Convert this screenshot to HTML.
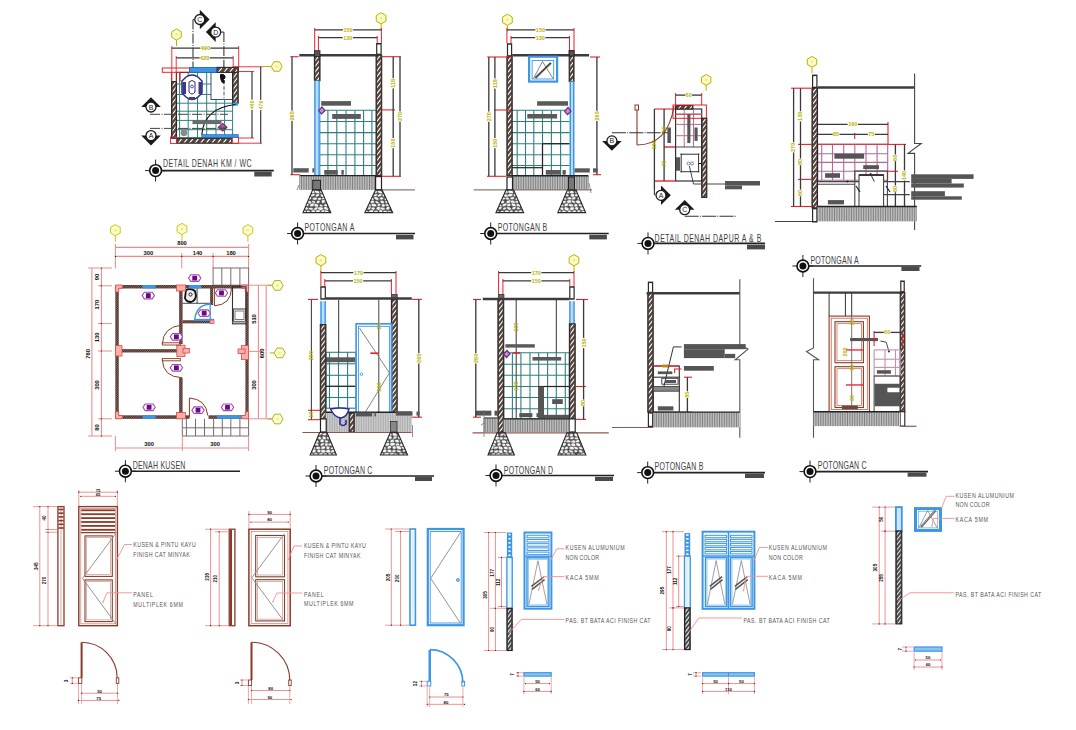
<!DOCTYPE html>
<html><head><meta charset="utf-8"><style>
html,body{margin:0;padding:0;background:#fff;}
svg{display:block;}
text{font-family:"Liberation Sans",sans-serif;}
</style></head><body>
<svg width="1076" height="730" viewBox="0 0 1076 730">
<rect width="1076" height="730" fill="#fff"/>
<line x1="193" y1="19.5" x2="193" y2="68" stroke="#3a3a3a" stroke-width="1.1" stroke-dasharray="10 1.5 1 1.5"/>
<line x1="195.8" y1="19.5" x2="193" y2="19.5" stroke="#3a3a3a" stroke-width="1.1" />
<line x1="223.9" y1="32.1" x2="223.9" y2="98" stroke="#3a3a3a" stroke-width="1.1" stroke-dasharray="10 1.5 1 1.5"/>
<line x1="219.5" y1="32.1" x2="223.9" y2="32.1" stroke="#3a3a3a" stroke-width="1.1" />
<polygon points="199.8,9.7 209.6,19.5 199.8,29.3" stroke="none" stroke-width="1" fill="#1a1a1a" />
<circle cx="199.8" cy="19.5" r="5" fill="#fff" stroke="#1a1a1a" stroke-width="1.3" />
<text x="199.8" y="22" font-size="7" fill="#1a1a1a" text-anchor="middle" >C</text>
<polygon points="215.7,22.3 205.9,32.1 215.7,41.9" stroke="none" stroke-width="1" fill="#1a1a1a" />
<circle cx="215.7" cy="32.1" r="5" fill="#fff" stroke="#1a1a1a" stroke-width="1.3" />
<text x="215.7" y="34.6" font-size="7" fill="#1a1a1a" text-anchor="middle" >D</text>
<polygon points="176.5,29 181.26,31.75 181.26,37.25 176.5,40 171.74,37.25 171.74,31.75" stroke="#b8b400" stroke-width="1" fill="#fbfbc8" />
<line x1="176.5" y1="40" x2="176.5" y2="46" stroke="#b8b400" stroke-width="1" />
<circle cx="176.5" cy="34.5" r="1.2" fill="#eded70" stroke="none" stroke-width="1" />
<line x1="171.8" y1="46" x2="171.8" y2="82" stroke="#e8202a" stroke-width="0.9" />
<line x1="238.7" y1="46" x2="238.7" y2="67" stroke="#e8202a" stroke-width="0.9" />
<line x1="176.2" y1="56" x2="176.2" y2="82" stroke="#e8202a" stroke-width="0.9" />
<line x1="233.2" y1="56" x2="233.2" y2="67" stroke="#e8202a" stroke-width="0.9" />
<line x1="171.8" y1="48.2" x2="238.7" y2="48.2" stroke="#3a3a3a" stroke-width="1.2" />
<rect x="200.15" y="45.4" width="10.2" height="5.6" fill="#fff" stroke="none" stroke-width="1" />
<text x="205.25" y="50.1" font-size="6" fill="#b8b400" text-anchor="middle" font-weight="bold">490</text>
<line x1="176.2" y1="57.8" x2="233.2" y2="57.8" stroke="#3a3a3a" stroke-width="1.2" />
<rect x="199.6" y="55" width="10.2" height="5.6" fill="#fff" stroke="none" stroke-width="1" />
<text x="204.7" y="59.7" font-size="6" fill="#b8b400" text-anchor="middle" font-weight="bold">420</text>
<line x1="176.5" y1="72.3" x2="176.5" y2="137.7" stroke="#2e8080" stroke-width="1" />
<line x1="179.6" y1="72.3" x2="179.6" y2="137.7" stroke="#2e8080" stroke-width="1" />
<line x1="188.2" y1="72.3" x2="188.2" y2="137.7" stroke="#2e8080" stroke-width="1" />
<line x1="197.5" y1="72.3" x2="197.5" y2="137.7" stroke="#2e8080" stroke-width="1" />
<line x1="206.7" y1="72.3" x2="206.7" y2="137.7" stroke="#2e8080" stroke-width="1" />
<line x1="216" y1="72.3" x2="216" y2="137.7" stroke="#2e8080" stroke-width="1" />
<line x1="224.6" y1="72.3" x2="224.6" y2="137.7" stroke="#2e8080" stroke-width="1" />
<line x1="232.6" y1="72.3" x2="232.6" y2="137.7" stroke="#2e8080" stroke-width="1" />
<line x1="176.5" y1="72.3" x2="232.6" y2="72.3" stroke="#2e8080" stroke-width="1" />
<line x1="176.5" y1="84" x2="232.6" y2="84" stroke="#2e8080" stroke-width="1" />
<line x1="176.5" y1="94.5" x2="232.6" y2="94.5" stroke="#2e8080" stroke-width="1" />
<line x1="176.5" y1="103.2" x2="232.6" y2="103.2" stroke="#2e8080" stroke-width="1" />
<line x1="176.5" y1="111.2" x2="232.6" y2="111.2" stroke="#2e8080" stroke-width="1" />
<line x1="176.5" y1="120.4" x2="232.6" y2="120.4" stroke="#2e8080" stroke-width="1" />
<line x1="176.5" y1="129.7" x2="232.6" y2="129.7" stroke="#2e8080" stroke-width="1" />
<line x1="176.5" y1="137.7" x2="232.6" y2="137.7" stroke="#2e8080" stroke-width="1" />
<rect x="211" y="72.3" width="21.6" height="27.2" fill="#fff" stroke="#3a4a8a" stroke-width="1" />
<line x1="224" y1="75" x2="224" y2="98" stroke="#555" stroke-width="1" stroke-dasharray="4 1.5"/>
<path d="M220.5 74.5 q3 -1 4.5 1.5 q0.5 2.5 -1.5 3.5 q1.5 1.5 0.5 3.5 q-2 0 -2.5 -2 q-1.5 -3 -1 -6.5z" stroke="#111" stroke-width="1" fill="#111" />
<rect x="171.6" y="81.6" width="4.9" height="56.7" fill="#54463f" stroke="#2e2624" stroke-width="1.1" />
<clipPath id="c43"><rect x="172.6" y="82.2" width="2.9" height="55.5"/></clipPath>
<path clip-path="url(#c43)" d="M171.6 81.6L176.5 75.23M171.6 87.2L176.5 80.83M171.6 92.8L176.5 86.43M171.6 98.4L176.5 92.03M171.6 104L176.5 97.63M171.6 109.6L176.5 103.23M171.6 115.2L176.5 108.83M171.6 120.8L176.5 114.43M171.6 126.4L176.5 120.03M171.6 132L176.5 125.63M171.6 137.6L176.5 131.23M171.6 143.2L176.5 136.83M171.6 148.8L176.5 142.43" stroke="#fff" stroke-width="1.1" fill="none"/>
<rect x="176.5" y="138.3" width="55.5" height="4.9" fill="#54463f" stroke="#2e2624" stroke-width="1.1" />
<clipPath id="c46"><rect x="177.5" y="138.9" width="53.5" height="3.7"/></clipPath>
<path clip-path="url(#c46)" d="M172.73 143.2L176.5 138.3M178.33 143.2L182.1 138.3M183.93 143.2L187.7 138.3M189.53 143.2L193.3 138.3M195.13 143.2L198.9 138.3M200.73 143.2L204.5 138.3M206.33 143.2L210.1 138.3M211.93 143.2L215.7 138.3M217.53 143.2L221.3 138.3M223.13 143.2L226.9 138.3M228.73 143.2L232.5 138.3M234.33 143.2L238.1 138.3" stroke="#fff" stroke-width="1.1" fill="none"/>
<rect x="232.6" y="67.4" width="5.6" height="35.8" fill="#54463f" stroke="#2e2624" stroke-width="1.1" />
<clipPath id="c49"><rect x="233.6" y="68" width="3.6" height="34.6"/></clipPath>
<path clip-path="url(#c49)" d="M232.6 67.4L238.2 60.12M232.6 73L238.2 65.72M232.6 78.6L238.2 71.32M232.6 84.2L238.2 76.92M232.6 89.8L238.2 82.52M232.6 95.4L238.2 88.12M232.6 101L238.2 93.72M232.6 106.6L238.2 99.32M232.6 112.2L238.2 104.92" stroke="#fff" stroke-width="1.1" fill="none"/>
<rect x="216.6" y="67.4" width="21.6" height="4.9" fill="#54463f" stroke="#2e2624" stroke-width="1.1" />
<clipPath id="c52"><rect x="217.6" y="68" width="19.6" height="3.7"/></clipPath>
<path clip-path="url(#c52)" d="M212.83 72.3L216.6 67.4M218.43 72.3L222.2 67.4M224.03 72.3L227.8 67.4M229.63 72.3L233.4 67.4M235.23 72.3L239 67.4M240.83 72.3L244.6 67.4" stroke="#fff" stroke-width="1.1" fill="none"/>
<rect x="162.3" y="68" width="27.2" height="4.3" fill="none" stroke="#e8202a" stroke-width="1" />
<rect x="170.5" y="137" width="6" height="6.5" fill="none" stroke="#e8202a" stroke-width="0.9" />
<rect x="232" y="137" width="6.5" height="6.5" fill="none" stroke="#e8202a" stroke-width="0.9" />
<line x1="171.6" y1="72.3" x2="171.6" y2="81.6" stroke="#e8202a" stroke-width="1" />
<line x1="176.5" y1="72.3" x2="176.5" y2="81.6" stroke="#a02020" stroke-width="1" />
<polyline points="189.5,72.5 180,72.5 180,81.6" stroke="#a02020" stroke-width="1" fill="none" />
<rect x="189.5" y="67.4" width="27.1" height="4.9" fill="#3c96e6" stroke="#1d5fb0" stroke-width="0.8" />
<rect x="232.6" y="102.5" width="5.6" height="3.1" fill="#3c96e6" stroke="none" stroke-width="1" />
<rect x="201.8" y="134.6" width="36.4" height="3.1" fill="#3c96e6" stroke="#1d5fb0" stroke-width="0.6" />
<path d="M201.8 134.6 Q204 108 235.5 104.5" stroke="#111" stroke-width="1.1" fill="none" />
<path d="M186 77 q6 -4 12 0 l4 4 v12 l-4 4 q-6 5 -12 0 l-4 -4 v-12 z" stroke="#2a2a7a" stroke-width="1.5" fill="#fff" />
<rect x="182.5" y="82" width="3.5" height="12" fill="#3a3a8a" stroke="none" stroke-width="1" />
<rect x="198.5" y="82" width="3.5" height="12" fill="#3a3a8a" stroke="none" stroke-width="1" />
<path d="M189 82 q3 -3 6 0 v10 q-3 4 -6 0 z" stroke="#2a2a7a" stroke-width="1" fill="none" />
<circle cx="192" cy="86.5" r="1.4" fill="none" stroke="#2a2a7a" stroke-width="0.8" />
<rect x="189" y="97" width="6" height="3" fill="#4a3a8a" stroke="none" stroke-width="1" />
<rect x="192.5" y="120.4" width="29" height="3.7" fill="#6a6a6a" stroke="none" stroke-width="1" />
<polygon points="218.5,127.2 222.7,123.5 226.8,127.2 222.7,130.9" stroke="#7a2a6a" stroke-width="1.2" fill="#b070a0" />
<line x1="218.5" y1="127.2" x2="226.8" y2="127.2" stroke="#7a2a6a" stroke-width="0.8" />
<circle cx="184" cy="132.7" r="3.4" fill="#8a8a8a" stroke="none" stroke-width="1" />
<line x1="150" y1="114.3" x2="228" y2="114.3" stroke="#444" stroke-width="1" stroke-dasharray="10 1.5 1 1.5"/>
<line x1="150" y1="128.4" x2="226.5" y2="128.4" stroke="#444" stroke-width="1" stroke-dasharray="10 1.5 1 1.5"/>
<polygon points="141.2,107 151,97.2 160.8,107" stroke="none" stroke-width="1" fill="#1a1a1a" />
<circle cx="151" cy="107" r="5" fill="#fff" stroke="#1a1a1a" stroke-width="1.3" />
<text x="151" y="109.5" font-size="7" fill="#1a1a1a" text-anchor="middle" >B</text>
<polygon points="141.2,135.6 151,145.4 160.8,135.6" stroke="none" stroke-width="1" fill="#1a1a1a" />
<circle cx="151" cy="135.6" r="5" fill="#fff" stroke="#1a1a1a" stroke-width="1.3" />
<text x="151" y="138.1" font-size="7" fill="#1a1a1a" text-anchor="middle" >A</text>
<line x1="238.5" y1="71.5" x2="254" y2="71.5" stroke="#e8202a" stroke-width="0.9" />
<line x1="238.5" y1="138" x2="254" y2="138" stroke="#e8202a" stroke-width="0.9" />
<line x1="233" y1="66.8" x2="262" y2="66.8" stroke="#e8202a" stroke-width="0.9" />
<line x1="233" y1="143.2" x2="262" y2="143.2" stroke="#e8202a" stroke-width="0.9" />
<line x1="252" y1="71.5" x2="252" y2="138" stroke="#3a3a3a" stroke-width="1.2" />
<rect x="249.2" y="99.65" width="5.6" height="10.2" fill="#fff" stroke="none" stroke-width="1" />
<text x="253.9" y="104.75" font-size="5" fill="#b8b400" text-anchor="middle" transform="rotate(-90 253.9 104.75)" font-weight="bold">440</text>
<line x1="260.7" y1="66.8" x2="260.7" y2="143.2" stroke="#3a3a3a" stroke-width="1.2" />
<rect x="257.9" y="99.9" width="5.6" height="10.2" fill="#fff" stroke="none" stroke-width="1" />
<text x="262.6" y="105" font-size="5" fill="#b8b400" text-anchor="middle" transform="rotate(-90 262.6 105)" font-weight="bold">470</text>
<polygon points="282.2,66.5 279.45,71.26 273.95,71.26 271.2,66.5 273.95,61.74 279.45,61.74" stroke="#b8b400" stroke-width="1" fill="#fbfbc8" />
<circle cx="276.7" cy="66.5" r="1.2" fill="#eded70" stroke="none" stroke-width="1" />
<line x1="271" y1="66.5" x2="262" y2="66.5" stroke="#b8b400" stroke-width="1" />
<line x1="145.1" y1="170.6" x2="166.1" y2="170.6" stroke="#222" stroke-width="1" />
<line x1="155.6" y1="159.6" x2="155.6" y2="181.6" stroke="#222" stroke-width="1" />
<circle cx="155.6" cy="170.6" r="5.9" fill="#fff" stroke="#111" stroke-width="1.6" />
<circle cx="155.6" cy="170.6" r="3.5" fill="#111" stroke="none" stroke-width="1" />
<line x1="161.6" y1="170.6" x2="273.8" y2="170.6" stroke="#222" stroke-width="1.6" />
<rect x="254.3" y="171.6" width="17.4" height="4.9" fill="#4a4a4a" stroke="none" stroke-width="1" />
<text transform="translate(163 166.7) scale(0.68 1)" x="0" y="0" font-size="10.3" fill="#3e3e3e" font-weight="normal" textLength="130.15" lengthAdjust="spacing">DETAIL DENAH KM / WC</text>
<polygon points="381.1,12.7 385.95,15.5 385.95,21.1 381.1,23.9 376.25,21.1 376.25,15.5" stroke="#b8b400" stroke-width="1" fill="#fbfbc8" />
<line x1="381.1" y1="23.9" x2="381.1" y2="29.9" stroke="#b8b400" stroke-width="1" />
<circle cx="381.1" cy="18.3" r="1.2" fill="#eded70" stroke="none" stroke-width="1" />
<line x1="314.7" y1="28" x2="314.7" y2="50.7" stroke="#e8202a" stroke-width="1" />
<line x1="318.4" y1="36" x2="318.4" y2="50.7" stroke="#e8202a" stroke-width="1" />
<line x1="377.2" y1="36" x2="377.2" y2="43" stroke="#e8202a" stroke-width="1" />
<line x1="381.4" y1="28" x2="381.4" y2="43" stroke="#e8202a" stroke-width="1" />
<line x1="314.7" y1="29.9" x2="381.4" y2="29.9" stroke="#3a3a3a" stroke-width="1.32" />
<rect x="342.95" y="27.1" width="10.2" height="5.6" fill="#fff" stroke="none" stroke-width="1" />
<text x="348.05" y="31.8" font-size="5.5" fill="#b8b400" text-anchor="middle" font-weight="bold">150</text>
<line x1="318.4" y1="37.6" x2="377.2" y2="37.6" stroke="#3a3a3a" stroke-width="1.32" />
<rect x="342.7" y="34.8" width="10.2" height="5.6" fill="#fff" stroke="none" stroke-width="1" />
<text x="347.8" y="39.5" font-size="5.5" fill="#b8b400" text-anchor="middle" font-weight="bold">130</text>
<line x1="319.8" y1="110.2" x2="319.8" y2="175.6" stroke="#2e8080" stroke-width="1.1" />
<line x1="327.9" y1="110.2" x2="327.9" y2="175.6" stroke="#2e8080" stroke-width="1.1" />
<line x1="336.8" y1="110.2" x2="336.8" y2="175.6" stroke="#2e8080" stroke-width="1.1" />
<line x1="346" y1="110.2" x2="346" y2="175.6" stroke="#2e8080" stroke-width="1.1" />
<line x1="354.9" y1="110.2" x2="354.9" y2="175.6" stroke="#2e8080" stroke-width="1.1" />
<line x1="363.6" y1="110.2" x2="363.6" y2="175.6" stroke="#2e8080" stroke-width="1.1" />
<line x1="371.9" y1="110.2" x2="371.9" y2="175.6" stroke="#2e8080" stroke-width="1.1" />
<line x1="376.5" y1="110.2" x2="376.5" y2="175.6" stroke="#2e8080" stroke-width="1.1" />
<line x1="319.8" y1="110.2" x2="376.5" y2="110.2" stroke="#2e8080" stroke-width="1.1" />
<line x1="319.8" y1="121.5" x2="376.5" y2="121.5" stroke="#2e8080" stroke-width="1.1" />
<line x1="319.8" y1="132.6" x2="376.5" y2="132.6" stroke="#2e8080" stroke-width="1.1" />
<line x1="319.8" y1="143.7" x2="376.5" y2="143.7" stroke="#2e8080" stroke-width="1.1" />
<line x1="319.8" y1="154.7" x2="376.5" y2="154.7" stroke="#2e8080" stroke-width="1.1" />
<line x1="319.8" y1="165.5" x2="376.5" y2="165.5" stroke="#2e8080" stroke-width="1.1" />
<line x1="319.8" y1="175.6" x2="376.5" y2="175.6" stroke="#2e8080" stroke-width="1.1" />
<rect x="314.4" y="56" width="5.6" height="24.8" fill="#54463f" stroke="#2e2624" stroke-width="1.1" />
<clipPath id="c131"><rect x="315.4" y="56.6" width="3.6" height="23.6"/></clipPath>
<path clip-path="url(#c131)" d="M314.4 56L320 48.72M314.4 61.6L320 54.32M314.4 67.2L320 59.92M314.4 72.8L320 65.52M314.4 78.4L320 71.12M314.4 84L320 76.72M314.4 89.6L320 82.32M314.4 95.2L320 87.92" stroke="#fff" stroke-width="1.1" fill="none"/>
<rect x="314.2" y="80.8" width="5.6" height="94.8" fill="#b8dcfa" stroke="none" stroke-width="1" />
<line x1="314.9" y1="80.8" x2="314.9" y2="175.6" stroke="#3c96e6" stroke-width="1.4" />
<line x1="319.1" y1="80.8" x2="319.1" y2="175.6" stroke="#3c96e6" stroke-width="1.4" />
<rect x="376.1" y="55.2" width="5.6" height="120.4" fill="#54463f" stroke="#2e2624" stroke-width="1.1" />
<clipPath id="c137"><rect x="377.1" y="55.8" width="3.6" height="119.2"/></clipPath>
<path clip-path="url(#c137)" d="M376.1 55.2L381.7 47.92M376.1 60.8L381.7 53.52M376.1 66.4L381.7 59.12M376.1 72L381.7 64.72M376.1 77.6L381.7 70.32M376.1 83.2L381.7 75.92M376.1 88.8L381.7 81.52M376.1 94.4L381.7 87.12M376.1 100L381.7 92.72M376.1 105.6L381.7 98.32M376.1 111.2L381.7 103.92M376.1 116.8L381.7 109.52M376.1 122.4L381.7 115.12M376.1 128L381.7 120.72M376.1 133.6L381.7 126.32M376.1 139.2L381.7 131.92M376.1 144.8L381.7 137.52M376.1 150.4L381.7 143.12M376.1 156L381.7 148.72M376.1 161.6L381.7 154.32M376.1 167.2L381.7 159.92M376.1 172.8L381.7 165.52M376.1 178.4L381.7 171.12M376.1 184L381.7 176.72M376.1 189.6L381.7 182.32" stroke="#fff" stroke-width="1.1" fill="none"/>
<line x1="299.3" y1="55.2" x2="376.1" y2="55.2" stroke="#3c3c3c" stroke-width="2.4" />
<rect x="314.4" y="50.7" width="5.6" height="5.8" fill="#555" stroke="#222" stroke-width="0.8" />
<rect x="376.1" y="43" width="5.6" height="12.2" fill="#2a2a2a" stroke="none" stroke-width="1" />
<rect x="377.3" y="44.5" width="3.2" height="9.2" fill="#fff" stroke="none" stroke-width="1" />
<line x1="290.3" y1="56.7" x2="298.6" y2="56.7" stroke="#e8202a" stroke-width="1.1" />
<line x1="290.3" y1="174.7" x2="300" y2="174.7" stroke="#e8202a" stroke-width="1.1" />
<line x1="292" y1="56.7" x2="292" y2="174.7" stroke="#3a3a3a" stroke-width="1.32" />
<rect x="289.2" y="110.6" width="5.6" height="10.2" fill="#fff" stroke="none" stroke-width="1" />
<text x="293.9" y="115.7" font-size="5.5" fill="#b8b400" text-anchor="middle" transform="rotate(-90 293.9 115.7)" font-weight="bold">265</text>
<line x1="381.7" y1="56.7" x2="401" y2="56.7" stroke="#e8202a" stroke-width="1.1" />
<line x1="381.7" y1="109.9" x2="395" y2="109.9" stroke="#e8202a" stroke-width="1.1" />
<line x1="381.7" y1="176.3" x2="401" y2="176.3" stroke="#e8202a" stroke-width="1.1" />
<line x1="393.2" y1="56.7" x2="393.2" y2="109.9" stroke="#3a3a3a" stroke-width="1.32" />
<rect x="390.4" y="78.2" width="5.6" height="10.2" fill="#fff" stroke="none" stroke-width="1" />
<text x="395.1" y="83.3" font-size="5.5" fill="#b8b400" text-anchor="middle" transform="rotate(-90 395.1 83.3)" font-weight="bold">118</text>
<line x1="393.2" y1="109.9" x2="393.2" y2="176.3" stroke="#3a3a3a" stroke-width="1.32" />
<rect x="390.4" y="138" width="5.6" height="10.2" fill="#fff" stroke="none" stroke-width="1" />
<text x="395.1" y="143.1" font-size="5.5" fill="#b8b400" text-anchor="middle" transform="rotate(-90 395.1 143.1)" font-weight="bold">150</text>
<line x1="400" y1="56.7" x2="400" y2="176.3" stroke="#3a3a3a" stroke-width="1.32" />
<rect x="397.2" y="111.4" width="5.6" height="10.2" fill="#fff" stroke="none" stroke-width="1" />
<text x="401.9" y="116.5" font-size="5.5" fill="#b8b400" text-anchor="middle" transform="rotate(-90 401.9 116.5)" font-weight="bold">270</text>
<rect x="321.2" y="101.1" width="29.8" height="4.6" fill="#5a5a5a" stroke="none" stroke-width="1" />
<rect x="332.2" y="114" width="28.6" height="4.9" fill="#5a5a5a" stroke="none" stroke-width="1" />
<rect x="293.3" y="168.2" width="15.4" height="4.3" fill="#5a5a5a" stroke="none" stroke-width="1" />
<rect x="312.4" y="168.2" width="1.8" height="4.3" fill="#5a5a5a" stroke="none" stroke-width="1" />
<rect x="324.2" y="170" width="13.5" height="4.7" fill="#5a5a5a" stroke="none" stroke-width="1" />
<rect x="341.4" y="170" width="2.4" height="4.7" fill="#5a5a5a" stroke="none" stroke-width="1" />
<polygon points="318.5,110.6 322,106.8 325,110.6 321.5,114" stroke="#6a2a8a" stroke-width="1.2" fill="#c890c0" />
<rect x="299.8" y="175.6" width="76.7" height="14.3" fill="#d8d8d8" stroke="none" stroke-width="1" />
<path d="M299.8 175.6V189.9M301.5 175.6V189.9M303.2 175.6V189.9M304.9 175.6V189.9M306.6 175.6V189.9M308.3 175.6V189.9M310 175.6V189.9M311.7 175.6V189.9M313.4 175.6V189.9M315.1 175.6V189.9M316.8 175.6V189.9M318.5 175.6V189.9M320.2 175.6V189.9M321.9 175.6V189.9M323.6 175.6V189.9M325.3 175.6V189.9M327 175.6V189.9M328.7 175.6V189.9M330.4 175.6V189.9M332.1 175.6V189.9M333.8 175.6V189.9M335.5 175.6V189.9M337.2 175.6V189.9M338.9 175.6V189.9M340.6 175.6V189.9M342.3 175.6V189.9M344 175.6V189.9M345.7 175.6V189.9M347.4 175.6V189.9M349.1 175.6V189.9M350.8 175.6V189.9M352.5 175.6V189.9M354.2 175.6V189.9M355.9 175.6V189.9M357.6 175.6V189.9M359.3 175.6V189.9M361 175.6V189.9M362.7 175.6V189.9M364.4 175.6V189.9M366.1 175.6V189.9M367.8 175.6V189.9M369.5 175.6V189.9M371.2 175.6V189.9M372.9 175.6V189.9M374.6 175.6V189.9M376.3 175.6V189.9" stroke="#6a6a6a" stroke-width="0.8" fill="none" />
<line x1="299.8" y1="175.6" x2="376.5" y2="175.6" stroke="#222" stroke-width="1.4" />
<rect x="312.7" y="180.3" width="7.8" height="9.6" fill="#777" stroke="#222" stroke-width="1" />
<rect x="375.6" y="176.6" width="5.9" height="13.3" fill="#fff" stroke="#222" stroke-width="1.2" />
<line x1="299" y1="185" x2="297" y2="190" stroke="#666" stroke-width="0.8" />
<line x1="381" y1="189.9" x2="415" y2="189.9" stroke="#8a7a70" stroke-width="1.2" />
<clipPath id="fd174"><polygon points="312.65,189.9 321.15,189.9 330.8,212.6 303,212.6"/></clipPath>
<polygon points="312.65,189.9 321.15,189.9 330.8,212.6 303,212.6" stroke="none" stroke-width="1" fill="#4a4a4a" />
<g clip-path="url(#fd174)" fill="#f4f4f4" stroke="#555" stroke-width="0.6"><ellipse cx="312.81" cy="191.7" rx="2.46" ry="1.85" transform="rotate(4 312.08 191.7)"/><ellipse cx="317.18" cy="191.89" rx="2.84" ry="1.59" transform="rotate(22 316.93 191.7)"/><ellipse cx="322.19" cy="191.73" rx="2.5" ry="1.51" transform="rotate(-11 322.07 191.7)"/><ellipse cx="312.7" cy="195.36" rx="2.62" ry="1.38" transform="rotate(-18 312.08 195)"/><ellipse cx="317.25" cy="195.39" rx="2.23" ry="1.45" transform="rotate(-30 317.11 195)"/><ellipse cx="322.91" cy="195.46" rx="2.6" ry="1.71" transform="rotate(12 322.15 195)"/><ellipse cx="309.38" cy="198.38" rx="2.27" ry="1.66" transform="rotate(-29 309.28 198.3)"/><ellipse cx="314.8" cy="198.66" rx="2.53" ry="1.52" transform="rotate(-1 314.39 198.3)"/><ellipse cx="319.48" cy="198.9" rx="2.1" ry="1.41" transform="rotate(-6 319.28 198.3)"/><ellipse cx="324.49" cy="198.44" rx="2.81" ry="1.36" transform="rotate(-8 324.44 198.3)"/><ellipse cx="309.99" cy="202.05" rx="2.31" ry="1.57" transform="rotate(27 309.28 201.6)"/><ellipse cx="313.74" cy="201.94" rx="1.99" ry="1.31" transform="rotate(18 313.68 201.6)"/><ellipse cx="318.14" cy="201.89" rx="1.94" ry="1.44" transform="rotate(-25 318.09 201.6)"/><ellipse cx="323.34" cy="201.71" rx="2.19" ry="1.82" transform="rotate(-30 322.77 201.6)"/><ellipse cx="327.86" cy="201.63" rx="2.78" ry="1.85" transform="rotate(-19 327.58 201.6)"/><ellipse cx="307.02" cy="205.08" rx="2.01" ry="1.48" transform="rotate(-16 306.47 204.9)"/><ellipse cx="312.25" cy="205.09" rx="2.64" ry="1.78" transform="rotate(-17 311.49 204.9)"/><ellipse cx="316.52" cy="205.33" rx="2.46" ry="1.79" transform="rotate(23 316.1 204.9)"/><ellipse cx="321.45" cy="205.47" rx="1.97" ry="1.33" transform="rotate(22 320.75 204.9)"/><ellipse cx="325.77" cy="205.22" rx="1.95" ry="1.62" transform="rotate(14 325.27 204.9)"/><ellipse cx="306.57" cy="208.45" rx="1.98" ry="1.5" transform="rotate(16 306.47 208.2)"/><ellipse cx="311.05" cy="208.79" rx="2.68" ry="1.34" transform="rotate(8 311 208.2)"/><ellipse cx="315.8" cy="208.7" rx="2.69" ry="1.41" transform="rotate(-26 315.74 208.2)"/><ellipse cx="320.68" cy="208.65" rx="2.88" ry="1.88" transform="rotate(5 320.38 208.2)"/><ellipse cx="326.2" cy="208.22" rx="2.61" ry="1.74" transform="rotate(27 325.5 208.2)"/><ellipse cx="330.33" cy="208.28" rx="2.72" ry="1.54" transform="rotate(28 329.93 208.2)"/><ellipse cx="304.1" cy="211.55" rx="2.84" ry="1.31" transform="rotate(6 303.67 211.5)"/><ellipse cx="308.58" cy="211.87" rx="1.95" ry="1.6" transform="rotate(29 308.54 211.5)"/><ellipse cx="313.35" cy="211.54" rx="2.16" ry="1.75" transform="rotate(8 313.08 211.5)"/><ellipse cx="317.86" cy="211.5" rx="2.44" ry="1.8" transform="rotate(-17 317.77 211.5)"/><ellipse cx="323.21" cy="211.85" rx="2.55" ry="1.74" transform="rotate(-20 322.5 211.5)"/><ellipse cx="327.26" cy="212.04" rx="2.79" ry="1.5" transform="rotate(30 327.22 211.5)"/><ellipse cx="332.44" cy="211.7" rx="2.38" ry="1.68" transform="rotate(18 331.74 211.5)"/></g>
<polygon points="312.65,189.9 321.15,189.9 330.8,212.6 303,212.6" stroke="#2a2a2a" stroke-width="1.1" fill="none" />
<clipPath id="fd178"><polygon points="375.55,189.9 382.05,189.9 392.7,212.6 364.9,212.6"/></clipPath>
<polygon points="375.55,189.9 382.05,189.9 392.7,212.6 364.9,212.6" stroke="none" stroke-width="1" fill="#4a4a4a" />
<g clip-path="url(#fd178)" fill="#f4f4f4" stroke="#555" stroke-width="0.6"><ellipse cx="374.91" cy="191.8" rx="2.6" ry="1.67" transform="rotate(-1 374.91 191.7)"/><ellipse cx="380.09" cy="191.9" rx="2.81" ry="1.5" transform="rotate(23 379.69 191.7)"/><ellipse cx="385.32" cy="192.29" rx="2.48" ry="1.74" transform="rotate(0 384.85 191.7)"/><ellipse cx="375.31" cy="195.35" rx="2.53" ry="1.32" transform="rotate(-11 374.76 195)"/><ellipse cx="379.59" cy="195.4" rx="2.47" ry="1.43" transform="rotate(-24 379.45 195)"/><ellipse cx="384.58" cy="195.1" rx="2.76" ry="1.58" transform="rotate(-23 384.28 195)"/><ellipse cx="372.08" cy="198.86" rx="2.39" ry="1.78" transform="rotate(30 371.81 198.3)"/><ellipse cx="376.45" cy="198.44" rx="2.8" ry="1.54" transform="rotate(28 376.42 198.3)"/><ellipse cx="381.46" cy="198.52" rx="2.07" ry="1.47" transform="rotate(-5 381.33 198.3)"/><ellipse cx="386.23" cy="198.82" rx="2.35" ry="1.64" transform="rotate(-28 385.93 198.3)"/><ellipse cx="372.11" cy="201.89" rx="2.46" ry="1.59" transform="rotate(1 371.66 201.6)"/><ellipse cx="377.38" cy="202.16" rx="2.27" ry="1.32" transform="rotate(25 376.86 201.6)"/><ellipse cx="382.34" cy="201.81" rx="2.27" ry="1.59" transform="rotate(24 381.83 201.6)"/><ellipse cx="387.03" cy="201.93" rx="2.12" ry="1.67" transform="rotate(6 386.31 201.6)"/><ellipse cx="369.31" cy="205.16" rx="2.2" ry="1.79" transform="rotate(24 368.71 204.9)"/><ellipse cx="373.9" cy="205.08" rx="2.82" ry="1.7" transform="rotate(6 373.16 204.9)"/><ellipse cx="378.77" cy="205.32" rx="1.99" ry="1.38" transform="rotate(-30 378 204.9)"/><ellipse cx="383.34" cy="205.38" rx="1.93" ry="1.8" transform="rotate(6 382.84 204.9)"/><ellipse cx="387.89" cy="205.25" rx="2.9" ry="1.39" transform="rotate(14 387.73 204.9)"/><ellipse cx="369.1" cy="208.45" rx="1.98" ry="1.45" transform="rotate(-19 368.56 208.2)"/><ellipse cx="373.16" cy="208.67" rx="2.03" ry="1.58" transform="rotate(4 373.08 208.2)"/><ellipse cx="378.7" cy="208.38" rx="2.53" ry="1.89" transform="rotate(4 377.96 208.2)"/><ellipse cx="382.71" cy="208.58" rx="2.7" ry="1.5" transform="rotate(10 382.45 208.2)"/><ellipse cx="387.94" cy="208.39" rx="2.35" ry="1.65" transform="rotate(-29 387.58 208.2)"/><ellipse cx="392.62" cy="208.49" rx="2.11" ry="1.45" transform="rotate(15 392.51 208.2)"/><ellipse cx="366.36" cy="211.76" rx="2.09" ry="1.51" transform="rotate(11 365.62 211.5)"/><ellipse cx="370.82" cy="211.88" rx="2.83" ry="1.9" transform="rotate(-28 370.8 211.5)"/><ellipse cx="376.05" cy="211.56" rx="2.12" ry="1.41" transform="rotate(-1 375.3 211.5)"/><ellipse cx="380.86" cy="211.58" rx="1.91" ry="1.89" transform="rotate(-14 380.18 211.5)"/><ellipse cx="385.81" cy="211.92" rx="2.57" ry="1.63" transform="rotate(17 385.1 211.5)"/><ellipse cx="390.41" cy="212.1" rx="2.73" ry="1.4" transform="rotate(24 389.64 211.5)"/></g>
<polygon points="375.55,189.9 382.05,189.9 392.7,212.6 364.9,212.6" stroke="#2a2a2a" stroke-width="1.1" fill="none" />
<line x1="287.1" y1="233.5" x2="308.1" y2="233.5" stroke="#222" stroke-width="1" />
<line x1="297.6" y1="222.5" x2="297.6" y2="244.5" stroke="#222" stroke-width="1" />
<circle cx="297.6" cy="233.5" r="5.9" fill="#fff" stroke="#111" stroke-width="1.6" />
<circle cx="297.6" cy="233.5" r="3.5" fill="#111" stroke="none" stroke-width="1" />
<line x1="303.6" y1="233.5" x2="415" y2="233.5" stroke="#222" stroke-width="1.6" />
<rect x="396" y="234.8" width="17.5" height="4.6" fill="#4a4a4a" stroke="none" stroke-width="1" />
<text transform="translate(304.4 231.1) scale(0.68 1)" x="0" y="0" font-size="10.3" fill="#3e3e3e" font-weight="normal" textLength="73.53" lengthAdjust="spacing">POTONGAN A</text>
<polygon points="507.4,14.2 512.25,17 512.25,22.6 507.4,25.4 502.55,22.6 502.55,17" stroke="#b8b400" stroke-width="1" fill="#fbfbc8" />
<line x1="507.4" y1="25.4" x2="507.4" y2="31.4" stroke="#b8b400" stroke-width="1" />
<circle cx="507.4" cy="19.8" r="1.2" fill="#eded70" stroke="none" stroke-width="1" />
<line x1="506.9" y1="28" x2="506.9" y2="43" stroke="#e8202a" stroke-width="1" />
<line x1="511" y1="36" x2="511" y2="43" stroke="#e8202a" stroke-width="1" />
<line x1="569.5" y1="36" x2="569.5" y2="50.7" stroke="#e8202a" stroke-width="1" />
<line x1="574" y1="28" x2="574" y2="50.7" stroke="#e8202a" stroke-width="1" />
<line x1="506.9" y1="29.9" x2="574" y2="29.9" stroke="#3a3a3a" stroke-width="1.32" />
<rect x="535.35" y="27.1" width="10.2" height="5.6" fill="#fff" stroke="none" stroke-width="1" />
<text x="540.45" y="31.8" font-size="5.5" fill="#b8b400" text-anchor="middle" font-weight="bold">150</text>
<line x1="511" y1="37.6" x2="569.5" y2="37.6" stroke="#3a3a3a" stroke-width="1.32" />
<rect x="535.15" y="34.8" width="10.2" height="5.6" fill="#fff" stroke="none" stroke-width="1" />
<text x="540.25" y="39.5" font-size="5.5" fill="#b8b400" text-anchor="middle" font-weight="bold">130</text>
<line x1="511.6" y1="110.2" x2="511.6" y2="175.7" stroke="#2e8080" stroke-width="1.1" />
<line x1="517.2" y1="110.2" x2="517.2" y2="175.7" stroke="#2e8080" stroke-width="1.1" />
<line x1="525.5" y1="110.2" x2="525.5" y2="175.7" stroke="#2e8080" stroke-width="1.1" />
<line x1="533.8" y1="110.2" x2="533.8" y2="175.7" stroke="#2e8080" stroke-width="1.1" />
<line x1="542.5" y1="110.2" x2="542.5" y2="175.7" stroke="#2e8080" stroke-width="1.1" />
<line x1="551.4" y1="110.2" x2="551.4" y2="175.7" stroke="#2e8080" stroke-width="1.1" />
<line x1="560.6" y1="110.2" x2="560.6" y2="175.7" stroke="#2e8080" stroke-width="1.1" />
<line x1="570.8" y1="110.2" x2="570.8" y2="175.7" stroke="#2e8080" stroke-width="1.1" />
<line x1="511.6" y1="110.2" x2="570.8" y2="110.2" stroke="#2e8080" stroke-width="1.1" />
<line x1="511.6" y1="121.5" x2="570.8" y2="121.5" stroke="#2e8080" stroke-width="1.1" />
<line x1="511.6" y1="132.6" x2="570.8" y2="132.6" stroke="#2e8080" stroke-width="1.1" />
<line x1="511.6" y1="143.7" x2="570.8" y2="143.7" stroke="#2e8080" stroke-width="1.1" />
<line x1="511.6" y1="154.8" x2="570.8" y2="154.8" stroke="#2e8080" stroke-width="1.1" />
<line x1="511.6" y1="165.5" x2="570.8" y2="165.5" stroke="#2e8080" stroke-width="1.1" />
<line x1="511.6" y1="175.7" x2="570.8" y2="175.7" stroke="#2e8080" stroke-width="1.1" />
<line x1="542.5" y1="143.7" x2="542.5" y2="175.7" stroke="#222" stroke-width="1.2" />
<line x1="542.5" y1="143.7" x2="569.9" y2="143.7" stroke="#222" stroke-width="1.2" />
<line x1="511.6" y1="167.7" x2="542.5" y2="167.7" stroke="#222" stroke-width="1.2" />
<rect x="506.9" y="56.7" width="5.3" height="119" fill="#54463f" stroke="#2e2624" stroke-width="1.1" />
<clipPath id="c221"><rect x="507.9" y="57.3" width="3.3" height="117.8"/></clipPath>
<path clip-path="url(#c221)" d="M506.9 56.7L512.2 49.81M506.9 62.3L512.2 55.41M506.9 67.9L512.2 61.01M506.9 73.5L512.2 66.61M506.9 79.1L512.2 72.21M506.9 84.7L512.2 77.81M506.9 90.3L512.2 83.41M506.9 95.9L512.2 89.01M506.9 101.5L512.2 94.61M506.9 107.1L512.2 100.21M506.9 112.7L512.2 105.81M506.9 118.3L512.2 111.41M506.9 123.9L512.2 117.01M506.9 129.5L512.2 122.61M506.9 135.1L512.2 128.21M506.9 140.7L512.2 133.81M506.9 146.3L512.2 139.41M506.9 151.9L512.2 145.01M506.9 157.5L512.2 150.61M506.9 163.1L512.2 156.21M506.9 168.7L512.2 161.81M506.9 174.3L512.2 167.41M506.9 179.9L512.2 173.01M506.9 185.5L512.2 178.61" stroke="#fff" stroke-width="1.1" fill="none"/>
<rect x="506.9" y="43.2" width="5.3" height="13.5" fill="#2a2a2a" stroke="none" stroke-width="1" />
<rect x="508.1" y="44.7" width="2.9" height="10.5" fill="#fff" stroke="none" stroke-width="1" />
<rect x="569.2" y="50.7" width="4.8" height="30.9" fill="#54463f" stroke="#2e2624" stroke-width="1.1" />
<clipPath id="c226"><rect x="570.2" y="51.3" width="2.8" height="29.7"/></clipPath>
<path clip-path="url(#c226)" d="M569.2 50.7L574 44.46M569.2 56.3L574 50.06M569.2 61.9L574 55.66M569.2 67.5L574 61.26M569.2 73.1L574 66.86M569.2 78.7L574 72.46M569.2 84.3L574 78.06M569.2 89.9L574 83.66" stroke="#fff" stroke-width="1.1" fill="none"/>
<rect x="569.6" y="81.6" width="4.8" height="94.1" fill="#b8dcfa" stroke="none" stroke-width="1" />
<line x1="570.3" y1="81.6" x2="570.3" y2="175.7" stroke="#3c96e6" stroke-width="1.4" />
<line x1="573.7" y1="81.6" x2="573.7" y2="175.7" stroke="#3c96e6" stroke-width="1.4" />
<line x1="512.2" y1="55.2" x2="589.1" y2="55.2" stroke="#3c3c3c" stroke-width="2.4" />
<rect x="569.2" y="50.7" width="4.8" height="5.3" fill="#555" stroke="#222" stroke-width="0.8" />
<rect x="529.1" y="56.7" width="28" height="24.9" fill="#fff" stroke="#3c96e6" stroke-width="2.2" />
<rect x="532.1" y="60.5" width="21.6" height="18.5" fill="#fff" stroke="#3c96e6" stroke-width="0.9" />
<polyline points="533.5,78.5 542.5,61.5 553,78.5" stroke="#666" stroke-width="0.8" fill="none" />
<line x1="535.5" y1="78" x2="551" y2="63" stroke="#444" stroke-width="2.4" />
<line x1="536.5" y1="78" x2="551.5" y2="64" stroke="#fff" stroke-width="0.6" />
<line x1="487.3" y1="57" x2="512.2" y2="57" stroke="#e8202a" stroke-width="1.1" />
<line x1="494" y1="110" x2="511" y2="110" stroke="#e8202a" stroke-width="1.1" />
<line x1="487" y1="176.3" x2="506" y2="176.3" stroke="#e8202a" stroke-width="1.1" />
<line x1="488.8" y1="57" x2="488.8" y2="176.3" stroke="#3a3a3a" stroke-width="1.32" />
<rect x="486" y="111.55" width="5.6" height="10.2" fill="#fff" stroke="none" stroke-width="1" />
<text x="490.7" y="116.65" font-size="5.5" fill="#b8b400" text-anchor="middle" transform="rotate(-90 490.7 116.65)" font-weight="bold">270</text>
<line x1="494.9" y1="57" x2="494.9" y2="110" stroke="#3a3a3a" stroke-width="1.32" />
<rect x="492.1" y="78.4" width="5.6" height="10.2" fill="#fff" stroke="none" stroke-width="1" />
<text x="496.8" y="83.5" font-size="5.5" fill="#b8b400" text-anchor="middle" transform="rotate(-90 496.8 83.5)" font-weight="bold">118</text>
<line x1="494.9" y1="110" x2="494.9" y2="176.3" stroke="#3a3a3a" stroke-width="1.32" />
<rect x="492.1" y="138.05" width="5.6" height="10.2" fill="#fff" stroke="none" stroke-width="1" />
<text x="496.8" y="143.15" font-size="5.5" fill="#b8b400" text-anchor="middle" transform="rotate(-90 496.8 143.15)" font-weight="bold">150</text>
<line x1="590" y1="57" x2="600" y2="57" stroke="#e8202a" stroke-width="1.1" />
<line x1="593" y1="174.7" x2="601" y2="174.7" stroke="#e8202a" stroke-width="1.1" />
<line x1="596.9" y1="57" x2="596.9" y2="174.7" stroke="#3a3a3a" stroke-width="1.32" />
<rect x="594.1" y="110.75" width="5.6" height="10.2" fill="#fff" stroke="none" stroke-width="1" />
<text x="598.8" y="115.85" font-size="5.5" fill="#b8b400" text-anchor="middle" transform="rotate(-90 598.8 115.85)" font-weight="bold">265</text>
<rect x="537.1" y="101.2" width="30.9" height="4.5" fill="#5a5a5a" stroke="none" stroke-width="1" />
<rect x="527.3" y="114" width="29.8" height="4.5" fill="#5a5a5a" stroke="none" stroke-width="1" />
<rect x="545.8" y="170" width="14.8" height="4.7" fill="#5a5a5a" stroke="none" stroke-width="1" />
<rect x="562.5" y="170" width="3.3" height="4.7" fill="#5a5a5a" stroke="none" stroke-width="1" />
<rect x="574.5" y="168.3" width="15.3" height="4.2" fill="#5a5a5a" stroke="none" stroke-width="1" />
<rect x="593" y="168.3" width="4.6" height="4.2" fill="#5a5a5a" stroke="none" stroke-width="1" />
<polygon points="564.5,111.3 568,107.5 571,111.3 567.5,114.7" stroke="#6a2a8a" stroke-width="1.2" fill="#c890c0" />
<rect x="511.6" y="175.7" width="76.8" height="14.2" fill="#d8d8d8" stroke="none" stroke-width="1" />
<path d="M511.6 175.7V189.9M513.3 175.7V189.9M515 175.7V189.9M516.7 175.7V189.9M518.4 175.7V189.9M520.1 175.7V189.9M521.8 175.7V189.9M523.5 175.7V189.9M525.2 175.7V189.9M526.9 175.7V189.9M528.6 175.7V189.9M530.3 175.7V189.9M532 175.7V189.9M533.7 175.7V189.9M535.4 175.7V189.9M537.1 175.7V189.9M538.8 175.7V189.9M540.5 175.7V189.9M542.2 175.7V189.9M543.9 175.7V189.9M545.6 175.7V189.9M547.3 175.7V189.9M549 175.7V189.9M550.7 175.7V189.9M552.4 175.7V189.9M554.1 175.7V189.9M555.8 175.7V189.9M557.5 175.7V189.9M559.2 175.7V189.9M560.9 175.7V189.9M562.6 175.7V189.9M564.3 175.7V189.9M566 175.7V189.9M567.7 175.7V189.9M569.4 175.7V189.9M571.1 175.7V189.9M572.8 175.7V189.9M574.5 175.7V189.9M576.2 175.7V189.9M577.9 175.7V189.9M579.6 175.7V189.9M581.3 175.7V189.9M583 175.7V189.9M584.7 175.7V189.9M586.4 175.7V189.9M588.1 175.7V189.9" stroke="#6a6a6a" stroke-width="0.8" fill="none" />
<line x1="511.6" y1="175.7" x2="588.4" y2="175.7" stroke="#222" stroke-width="1.4" />
<rect x="507" y="177" width="5.5" height="12.9" fill="#fff" stroke="#222" stroke-width="1.2" />
<rect x="568.5" y="177" width="6" height="12.9" fill="#777" stroke="#222" stroke-width="1" />
<line x1="473.7" y1="189.9" x2="592" y2="189.9" stroke="#8a7a70" stroke-width="1.2" />
<line x1="589" y1="183" x2="591" y2="193" stroke="#777" stroke-width="0.8" />
<clipPath id="fd269"><polygon points="506.05,189.9 513.55,189.9 523.65,212.6 495.95,212.6"/></clipPath>
<polygon points="506.05,189.9 513.55,189.9 523.65,212.6 495.95,212.6" stroke="none" stroke-width="1" fill="#4a4a4a" />
<g clip-path="url(#fd269)" fill="#f4f4f4" stroke="#555" stroke-width="0.6"><ellipse cx="505.98" cy="191.82" rx="2.76" ry="1.37" transform="rotate(6 505.45 191.7)"/><ellipse cx="510.74" cy="191.82" rx="2.83" ry="1.87" transform="rotate(14 510.54 191.7)"/><ellipse cx="515.8" cy="192.12" rx="2.27" ry="1.68" transform="rotate(-15 515.12 191.7)"/><ellipse cx="506.13" cy="195.5" rx="2.48" ry="1.72" transform="rotate(18 505.38 195)"/><ellipse cx="510.14" cy="195.22" rx="2.86" ry="1.59" transform="rotate(-11 509.81 195)"/><ellipse cx="515.3" cy="195.24" rx="2.33" ry="1.43" transform="rotate(-27 514.67 195)"/><ellipse cx="503.02" cy="198.61" rx="2.69" ry="1.37" transform="rotate(-4 502.51 198.3)"/><ellipse cx="507.47" cy="198.62" rx="2.21" ry="1.35" transform="rotate(16 507.41 198.3)"/><ellipse cx="512.36" cy="198.31" rx="2.34" ry="1.49" transform="rotate(-13 512.23 198.3)"/><ellipse cx="517.41" cy="198.89" rx="2.9" ry="1.34" transform="rotate(-24 516.95 198.3)"/><ellipse cx="502.45" cy="201.84" rx="2.16" ry="1.78" transform="rotate(24 502.44 201.6)"/><ellipse cx="508.4" cy="202.17" rx="2.77" ry="1.6" transform="rotate(-24 507.6 201.6)"/><ellipse cx="512.95" cy="201.72" rx="2.44" ry="1.76" transform="rotate(13 512.22 201.6)"/><ellipse cx="517.23" cy="201.81" rx="2.38" ry="1.36" transform="rotate(-15 517.15 201.6)"/><ellipse cx="499.72" cy="205.24" rx="2.79" ry="1.36" transform="rotate(26 499.58 204.9)"/><ellipse cx="504.62" cy="205.05" rx="2.74" ry="1.52" transform="rotate(-19 504.03 204.9)"/><ellipse cx="508.77" cy="205.08" rx="2.08" ry="1.6" transform="rotate(-16 508.5 204.9)"/><ellipse cx="513.81" cy="204.93" rx="2.85" ry="1.65" transform="rotate(28 513.68 204.9)"/><ellipse cx="518.45" cy="205.2" rx="2.41" ry="1.53" transform="rotate(26 518.28 204.9)"/><ellipse cx="500.25" cy="208.3" rx="2.15" ry="1.4" transform="rotate(-27 499.51 208.2)"/><ellipse cx="504.39" cy="208.62" rx="1.95" ry="1.39" transform="rotate(-23 504.22 208.2)"/><ellipse cx="509.11" cy="208.24" rx="2.68" ry="1.42" transform="rotate(28 508.74 208.2)"/><ellipse cx="513.94" cy="208.36" rx="2.16" ry="1.54" transform="rotate(-20 513.25 208.2)"/><ellipse cx="518.31" cy="208.31" rx="1.95" ry="1.43" transform="rotate(11 518.08 208.2)"/><ellipse cx="523.36" cy="208.57" rx="2.56" ry="1.73" transform="rotate(20 522.98 208.2)"/><ellipse cx="497.18" cy="211.84" rx="2.13" ry="1.41" transform="rotate(5 496.64 211.5)"/><ellipse cx="502.42" cy="211.93" rx="2.07" ry="1.46" transform="rotate(6 501.84 211.5)"/><ellipse cx="506.98" cy="211.54" rx="2.44" ry="1.58" transform="rotate(10 506.34 211.5)"/><ellipse cx="511.24" cy="211.63" rx="1.92" ry="1.46" transform="rotate(-21 511.18 211.5)"/><ellipse cx="516.04" cy="211.99" rx="2.08" ry="1.73" transform="rotate(-17 515.84 211.5)"/><ellipse cx="520.61" cy="211.63" rx="2.44" ry="1.65" transform="rotate(-3 520.33 211.5)"/></g>
<polygon points="506.05,189.9 513.55,189.9 523.65,212.6 495.95,212.6" stroke="#2a2a2a" stroke-width="1.1" fill="none" />
<clipPath id="fd273"><polygon points="567.5,189.9 575.9,189.9 585.6,212.6 557.8,212.6"/></clipPath>
<polygon points="567.5,189.9 575.9,189.9 585.6,212.6 557.8,212.6" stroke="none" stroke-width="1" fill="#4a4a4a" />
<g clip-path="url(#fd273)" fill="#f4f4f4" stroke="#555" stroke-width="0.6"><ellipse cx="567.1" cy="192.17" rx="2.5" ry="1.63" transform="rotate(7 566.93 191.7)"/><ellipse cx="571.75" cy="192.19" rx="2.43" ry="1.71" transform="rotate(2 571.59 191.7)"/><ellipse cx="577.33" cy="192.14" rx="2.43" ry="1.51" transform="rotate(-5 576.58 191.7)"/><ellipse cx="567.1" cy="195.26" rx="1.98" ry="1.42" transform="rotate(17 566.92 195)"/><ellipse cx="572.69" cy="195.07" rx="2.2" ry="1.84" transform="rotate(28 571.99 195)"/><ellipse cx="576.69" cy="195.1" rx="2.26" ry="1.52" transform="rotate(-21 576.55 195)"/><ellipse cx="564.41" cy="198.39" rx="2.64" ry="1.32" transform="rotate(21 564.11 198.3)"/><ellipse cx="569.65" cy="198.43" rx="2.61" ry="1.52" transform="rotate(-3 569.19 198.3)"/><ellipse cx="573.67" cy="198.39" rx="2.22" ry="1.44" transform="rotate(-25 573.6 198.3)"/><ellipse cx="578.97" cy="198.38" rx="1.9" ry="1.49" transform="rotate(14 578.4 198.3)"/><ellipse cx="564.18" cy="201.98" rx="2" ry="1.48" transform="rotate(-11 564.1 201.6)"/><ellipse cx="569.18" cy="201.69" rx="2.74" ry="1.77" transform="rotate(-8 568.69 201.6)"/><ellipse cx="573.41" cy="201.63" rx="2.11" ry="1.39" transform="rotate(20 573.24 201.6)"/><ellipse cx="578.29" cy="201.93" rx="2.64" ry="1.89" transform="rotate(13 578.18 201.6)"/><ellipse cx="561.84" cy="205.43" rx="2.1" ry="1.37" transform="rotate(6 561.29 204.9)"/><ellipse cx="566.29" cy="205.03" rx="2.36" ry="1.67" transform="rotate(-22 565.88 204.9)"/><ellipse cx="571.07" cy="205.23" rx="2.78" ry="1.59" transform="rotate(9 570.61 204.9)"/><ellipse cx="576.1" cy="205.28" rx="2.1" ry="1.82" transform="rotate(26 575.39 204.9)"/><ellipse cx="580.6" cy="205.22" rx="2.28" ry="1.4" transform="rotate(24 580.31 204.9)"/><ellipse cx="562.07" cy="208.38" rx="2.35" ry="1.5" transform="rotate(23 561.28 208.2)"/><ellipse cx="566.91" cy="208.78" rx="2.87" ry="1.88" transform="rotate(25 566.43 208.2)"/><ellipse cx="571.87" cy="208.73" rx="2.45" ry="1.87" transform="rotate(-12 571.61 208.2)"/><ellipse cx="576.75" cy="208.37" rx="2.01" ry="1.69" transform="rotate(29 576.7 208.2)"/><ellipse cx="582.2" cy="208.7" rx="2.37" ry="1.81" transform="rotate(16 581.89 208.2)"/><ellipse cx="558.78" cy="211.54" rx="2.4" ry="1.59" transform="rotate(-15 558.47 211.5)"/><ellipse cx="564.32" cy="211.7" rx="2.53" ry="1.77" transform="rotate(27 563.55 211.5)"/><ellipse cx="569.21" cy="212.04" rx="1.96" ry="1.84" transform="rotate(-13 568.71 211.5)"/><ellipse cx="573.77" cy="211.88" rx="2.49" ry="1.47" transform="rotate(-28 573.52 211.5)"/><ellipse cx="578.74" cy="211.76" rx="1.96" ry="1.55" transform="rotate(-18 578.06 211.5)"/><ellipse cx="583.42" cy="211.85" rx="2.06" ry="1.41" transform="rotate(3 583.17 211.5)"/></g>
<polygon points="567.5,189.9 575.9,189.9 585.6,212.6 557.8,212.6" stroke="#2a2a2a" stroke-width="1.1" fill="none" />
<line x1="480.2" y1="233.5" x2="501.2" y2="233.5" stroke="#222" stroke-width="1" />
<line x1="490.7" y1="222.5" x2="490.7" y2="244.5" stroke="#222" stroke-width="1" />
<circle cx="490.7" cy="233.5" r="5.9" fill="#fff" stroke="#111" stroke-width="1.6" />
<circle cx="490.7" cy="233.5" r="3.5" fill="#111" stroke="none" stroke-width="1" />
<line x1="496.7" y1="233.5" x2="608.7" y2="233.5" stroke="#222" stroke-width="1.6" />
<rect x="589.3" y="234.8" width="17.6" height="4.6" fill="#4a4a4a" stroke="none" stroke-width="1" />
<text transform="translate(497.7 231.1) scale(0.68 1)" x="0" y="0" font-size="10.3" fill="#3e3e3e" font-weight="normal" textLength="72.94" lengthAdjust="spacing">POTONGAN B</text>
<polygon points="706.2,74.5 710.88,77.2 710.88,82.6 706.2,85.3 701.52,82.6 701.52,77.2" stroke="#b8b400" stroke-width="1" fill="#fbfbc8" />
<line x1="706.2" y1="85.3" x2="706.2" y2="90.8" stroke="#b8b400" stroke-width="1" />
<circle cx="706.2" cy="79.9" r="1.2" fill="#eded70" stroke="none" stroke-width="1" />
<line x1="675.6" y1="93" x2="675.6" y2="105" stroke="#e8202a" stroke-width="1" />
<line x1="701.7" y1="93" x2="701.7" y2="105" stroke="#e8202a" stroke-width="1" />
<line x1="675.6" y1="95.1" x2="701.7" y2="95.1" stroke="#3a3a3a" stroke-width="1.32" />
<rect x="685.25" y="92.3" width="6.8" height="5.6" fill="#fff" stroke="none" stroke-width="1" />
<text x="688.65" y="97" font-size="5.5" fill="#b8b400" text-anchor="middle" font-weight="bold">60</text>
<rect x="675.6" y="109" width="26.1" height="72" fill="none" stroke="#333" stroke-width="1.2" />
<line x1="684.2" y1="109" x2="684.2" y2="147" stroke="#b07090" stroke-width="1" />
<line x1="693.5" y1="109" x2="693.5" y2="147" stroke="#b07090" stroke-width="1" />
<line x1="675.6" y1="114.2" x2="701.7" y2="114.2" stroke="#b07090" stroke-width="1" />
<line x1="675.6" y1="124.4" x2="701.7" y2="124.4" stroke="#b07090" stroke-width="1" />
<line x1="675.6" y1="135.7" x2="701.7" y2="135.7" stroke="#b07090" stroke-width="1" />
<line x1="675.6" y1="147" x2="701.7" y2="147" stroke="#444" stroke-width="1" />
<line x1="675.6" y1="114.2" x2="701.7" y2="114.2" stroke="#d04040" stroke-width="1" />
<rect x="687.3" y="114.2" width="3.1" height="28.8" fill="#555" stroke="none" stroke-width="1" />
<rect x="694.5" y="127.5" width="3.1" height="13.4" fill="#555" stroke="none" stroke-width="1" />
<rect x="667.4" y="127.5" width="3.5" height="15.5" fill="#555" stroke="none" stroke-width="1" />
<rect x="681.2" y="154.2" width="17.4" height="17.5" fill="#fff" stroke="#333" stroke-width="1" />
<circle cx="681.2" cy="154.2" r="0.8" fill="#333" stroke="none" stroke-width="1" />
<circle cx="698.6" cy="154.2" r="0.8" fill="#333" stroke="none" stroke-width="1" />
<circle cx="681.2" cy="171.7" r="0.8" fill="#333" stroke="none" stroke-width="1" />
<circle cx="698.6" cy="171.7" r="0.8" fill="#333" stroke="none" stroke-width="1" />
<rect x="676" y="157.3" width="4.1" height="13.4" fill="#555" stroke="none" stroke-width="1" />
<circle cx="688.5" cy="163.5" r="1.5" fill="none" stroke="#555" stroke-width="0.7" />
<circle cx="692" cy="163.5" r="1.5" fill="none" stroke="#555" stroke-width="0.7" />
<circle cx="703.8" cy="163.5" r="1.3" fill="#111" stroke="none" stroke-width="1" />
<line x1="698.6" y1="163.5" x2="706" y2="163.5" stroke="#111" stroke-width="1" />
<polyline points="689.4,166 693.5,184 725,184" stroke="#333" stroke-width="0.9" fill="none" />
<rect x="725" y="181" width="35" height="4.5" fill="#555" stroke="none" stroke-width="1" />
<rect x="725" y="185.5" width="17" height="3.8" fill="#555" stroke="none" stroke-width="1" />
<rect x="675.6" y="105.5" width="17.3" height="3.5" fill="#54463f" stroke="#2e2624" stroke-width="1.1" />
<clipPath id="c317"><rect x="676.6" y="106.1" width="15.3" height="2.3"/></clipPath>
<path clip-path="url(#c317)" d="M672.91 109L675.6 105.5M678.51 109L681.2 105.5M684.11 109L686.8 105.5M689.71 109L692.4 105.5M695.31 109L698 105.5" stroke="#fff" stroke-width="1.1" fill="none"/>
<rect x="673" y="105" width="33.4" height="13.3" fill="none" stroke="#e8202a" stroke-width="1" />
<rect x="701.7" y="118.3" width="5.1" height="79.1" fill="#54463f" stroke="#2e2624" stroke-width="1.1" />
<clipPath id="c321"><rect x="702.7" y="118.9" width="3.1" height="77.9"/></clipPath>
<path clip-path="url(#c321)" d="M701.7 118.3L706.8 111.67M701.7 123.9L706.8 117.27M701.7 129.5L706.8 122.87M701.7 135.1L706.8 128.47M701.7 140.7L706.8 134.07M701.7 146.3L706.8 139.67M701.7 151.9L706.8 145.27M701.7 157.5L706.8 150.87M701.7 163.1L706.8 156.47M701.7 168.7L706.8 162.07M701.7 174.3L706.8 167.67M701.7 179.9L706.8 173.27M701.7 185.5L706.8 178.87M701.7 191.1L706.8 184.47M701.7 196.7L706.8 190.07M701.7 202.3L706.8 195.67M701.7 207.9L706.8 201.27" stroke="#fff" stroke-width="1.1" fill="none"/>
<line x1="654.4" y1="109" x2="675" y2="109" stroke="#e8202a" stroke-width="1.1" />
<line x1="664.1" y1="147" x2="675" y2="147" stroke="#e8202a" stroke-width="1.4" />
<line x1="654.4" y1="181" x2="675" y2="181" stroke="#e8202a" stroke-width="1.4" />
<line x1="654.4" y1="109" x2="654.4" y2="189" stroke="#3a3a3a" stroke-width="1.32" />
<line x1="664.1" y1="109" x2="664.1" y2="181" stroke="#3a3a3a" stroke-width="1.32" />
<text x="666" y="129.6" font-size="5.5" fill="#b8b400" text-anchor="middle" transform="rotate(-90 666 129.6)" font-weight="bold">80</text>
<text x="656.3" y="145" font-size="5.5" fill="#b8b400" text-anchor="middle" transform="rotate(-90 656.3 145)" font-weight="bold">150</text>
<text x="666" y="163.5" font-size="5.5" fill="#b8b400" text-anchor="middle" transform="rotate(-90 666 163.5)" font-weight="bold">70</text>
<rect x="635" y="105" width="3.5" height="5" fill="none" stroke="#8a3a22" stroke-width="1" />
<line x1="637" y1="110" x2="637" y2="145" stroke="#8a3a22" stroke-width="1.1" />
<path d="M637 145 Q668 145 674 106" stroke="#8a3a22" stroke-width="1.1" fill="none" />
<line x1="611.9" y1="132.7" x2="667.8" y2="132.7" stroke="#333" stroke-width="1.1" stroke-dasharray="14 1.2 1 1.2"/>
<polygon points="602.1,140.9 611.9,150.7 621.7,140.9" stroke="none" stroke-width="1" fill="#1a1a1a" />
<circle cx="611.9" cy="140.9" r="5" fill="#fff" stroke="#1a1a1a" stroke-width="1.3" />
<text x="611.9" y="143.4" font-size="7" fill="#1a1a1a" text-anchor="middle" >B</text>
<line x1="654.4" y1="189" x2="654.4" y2="195.3" stroke="#333" stroke-width="1.1" />
<polygon points="661,185.5 670.8,195.3 661,205.1" stroke="none" stroke-width="1" fill="#1a1a1a" />
<circle cx="661" cy="195.3" r="5" fill="#fff" stroke="#1a1a1a" stroke-width="1.3" />
<text x="661" y="197.8" font-size="7" fill="#1a1a1a" text-anchor="middle" >A</text>
<line x1="684.7" y1="216.3" x2="736" y2="216.3" stroke="#333" stroke-width="1.1" stroke-dasharray="14 1.2 1 1.2"/>
<polygon points="674.9,209.7 684.7,199.9 694.5,209.7" stroke="none" stroke-width="1" fill="#1a1a1a" />
<circle cx="684.7" cy="209.7" r="5" fill="#fff" stroke="#1a1a1a" stroke-width="1.3" />
<text x="684.7" y="212.2" font-size="7" fill="#1a1a1a" text-anchor="middle" >C</text>
<line x1="637.5" y1="243.4" x2="658.5" y2="243.4" stroke="#222" stroke-width="1" />
<line x1="648" y1="232.4" x2="648" y2="254.4" stroke="#222" stroke-width="1" />
<circle cx="648" cy="243.4" r="5.9" fill="#fff" stroke="#111" stroke-width="1.6" />
<circle cx="648" cy="243.4" r="3.5" fill="#111" stroke="none" stroke-width="1" />
<line x1="654" y1="243.4" x2="765" y2="243.4" stroke="#222" stroke-width="1.6" />
<rect x="747" y="244.7" width="18" height="4.7" fill="#4a4a4a" stroke="none" stroke-width="1" />
<text transform="translate(654.6 241.6) scale(0.68 1)" x="0" y="0" font-size="10.3" fill="#3e3e3e" font-weight="normal" textLength="156.91" lengthAdjust="spacing">DETAIL DENAH DAPUR A &amp; B</text>
<polygon points="812,56.4 816.68,59.1 816.68,64.5 812,67.2 807.32,64.5 807.32,59.1" stroke="#b8b400" stroke-width="1" fill="#fbfbc8" />
<line x1="812" y1="67.2" x2="812" y2="73.2" stroke="#b8b400" stroke-width="1" />
<circle cx="812" cy="61.8" r="1.2" fill="#eded70" stroke="none" stroke-width="1" />
<line x1="817.7" y1="144.4" x2="817.7" y2="180.3" stroke="#b06a98" stroke-width="1.1" />
<line x1="821.7" y1="144.4" x2="821.7" y2="180.3" stroke="#b06a98" stroke-width="1.1" />
<line x1="832.5" y1="144.4" x2="832.5" y2="180.3" stroke="#b06a98" stroke-width="1.1" />
<line x1="843.7" y1="144.4" x2="843.7" y2="180.3" stroke="#b06a98" stroke-width="1.1" />
<line x1="854.8" y1="144.4" x2="854.8" y2="180.3" stroke="#b06a98" stroke-width="1.1" />
<line x1="866" y1="144.4" x2="866" y2="180.3" stroke="#b06a98" stroke-width="1.1" />
<line x1="877.1" y1="144.4" x2="877.1" y2="180.3" stroke="#b06a98" stroke-width="1.1" />
<line x1="887.7" y1="144.4" x2="887.7" y2="180.3" stroke="#b06a98" stroke-width="1.1" />
<line x1="817.7" y1="144.4" x2="887.7" y2="144.4" stroke="#b06a98" stroke-width="1.1" />
<line x1="817.7" y1="153.7" x2="887.7" y2="153.7" stroke="#b06a98" stroke-width="1.1" />
<line x1="817.7" y1="162.4" x2="887.7" y2="162.4" stroke="#b06a98" stroke-width="1.1" />
<line x1="817.7" y1="171.3" x2="887.7" y2="171.3" stroke="#b06a98" stroke-width="1.1" />
<line x1="817.7" y1="180.3" x2="887.7" y2="180.3" stroke="#b06a98" stroke-width="1.1" />
<line x1="817.5" y1="144.4" x2="888" y2="144.4" stroke="#d04050" stroke-width="1.2" />
<rect x="812" y="74.6" width="5.5" height="13.6" fill="#2a2a2a" stroke="none" stroke-width="1" />
<rect x="813.2" y="76.1" width="3.1" height="10.6" fill="#fff" stroke="none" stroke-width="1" />
<rect x="812" y="88.2" width="5.5" height="119.6" fill="#54463f" stroke="#2e2624" stroke-width="1.1" />
<clipPath id="c373"><rect x="813" y="88.8" width="3.5" height="118.4"/></clipPath>
<path clip-path="url(#c373)" d="M812 88.2L817.5 81.05M812 93.8L817.5 86.65M812 99.4L817.5 92.25M812 105L817.5 97.85M812 110.6L817.5 103.45M812 116.2L817.5 109.05M812 121.8L817.5 114.65M812 127.4L817.5 120.25M812 133L817.5 125.85M812 138.6L817.5 131.45M812 144.2L817.5 137.05M812 149.8L817.5 142.65M812 155.4L817.5 148.25M812 161L817.5 153.85M812 166.6L817.5 159.45M812 172.2L817.5 165.05M812 177.8L817.5 170.65M812 183.4L817.5 176.25M812 189L817.5 181.85M812 194.6L817.5 187.45M812 200.2L817.5 193.05M812 205.8L817.5 198.65M812 211.4L817.5 204.25M812 217L817.5 209.85" stroke="#fff" stroke-width="1.1" fill="none"/>
<rect x="812" y="207.8" width="5.5" height="14.7" fill="#2a2a2a" stroke="none" stroke-width="1" />
<rect x="813.2" y="209.3" width="3.1" height="11.7" fill="#fff" stroke="none" stroke-width="1" />
<line x1="817.5" y1="87.5" x2="914.3" y2="87.5" stroke="#3c3c3c" stroke-width="2.4" />
<polyline points="914.6,73.4 914.6,143.5 921.2,143.5 908,153.4 914.6,153.4 914.6,230" stroke="#444" stroke-width="1.1" fill="none" />
<line x1="791" y1="88.2" x2="812" y2="88.2" stroke="#e8202a" stroke-width="1.1" />
<line x1="791" y1="206.5" x2="812" y2="206.5" stroke="#e8202a" stroke-width="1.1" />
<line x1="798" y1="144.4" x2="812" y2="144.4" stroke="#e8202a" stroke-width="1.1" />
<line x1="798" y1="179.4" x2="812" y2="179.4" stroke="#e8202a" stroke-width="1.1" />
<line x1="793.6" y1="88.2" x2="793.6" y2="206.5" stroke="#3a3a3a" stroke-width="1.32" />
<rect x="790.8" y="142.25" width="5.6" height="10.2" fill="#fff" stroke="none" stroke-width="1" />
<text x="795.5" y="147.35" font-size="5.5" fill="#b8b400" text-anchor="middle" transform="rotate(-90 795.5 147.35)" font-weight="bold">270</text>
<line x1="800.5" y1="88.2" x2="800.5" y2="144.4" stroke="#3a3a3a" stroke-width="1.32" />
<rect x="797.7" y="111.2" width="5.6" height="10.2" fill="#fff" stroke="none" stroke-width="1" />
<text x="802.4" y="116.3" font-size="5.5" fill="#b8b400" text-anchor="middle" transform="rotate(-90 802.4 116.3)" font-weight="bold">130</text>
<line x1="800.5" y1="144.4" x2="800.5" y2="179.4" stroke="#3a3a3a" stroke-width="1.32" />
<rect x="797.7" y="158.5" width="5.6" height="6.8" fill="#fff" stroke="none" stroke-width="1" />
<text x="802.4" y="161.9" font-size="5.5" fill="#b8b400" text-anchor="middle" transform="rotate(-90 802.4 161.9)" font-weight="bold">80</text>
<line x1="800.5" y1="179.4" x2="800.5" y2="206.5" stroke="#3a3a3a" stroke-width="1.32" />
<rect x="797.7" y="189.55" width="5.6" height="6.8" fill="#fff" stroke="none" stroke-width="1" />
<text x="802.4" y="192.95" font-size="5.5" fill="#b8b400" text-anchor="middle" transform="rotate(-90 802.4 192.95)" font-weight="bold">60</text>
<line x1="888" y1="122" x2="888" y2="144.4" stroke="#e8202a" stroke-width="1.1" />
<line x1="854.7" y1="133" x2="854.7" y2="139" stroke="#e8202a" stroke-width="1.1" />
<line x1="817.5" y1="124.4" x2="888" y2="124.4" stroke="#3a3a3a" stroke-width="1.32" />
<rect x="847.65" y="121.6" width="10.2" height="5.6" fill="#fff" stroke="none" stroke-width="1" />
<text x="852.75" y="126.3" font-size="5.5" fill="#b8b400" text-anchor="middle" font-weight="bold">160</text>
<line x1="817.5" y1="134.3" x2="854.7" y2="134.3" stroke="#3a3a3a" stroke-width="1.32" />
<rect x="832.7" y="131.5" width="6.8" height="5.6" fill="#fff" stroke="none" stroke-width="1" />
<text x="836.1" y="136.2" font-size="5.5" fill="#b8b400" text-anchor="middle" font-weight="bold">85</text>
<line x1="854.7" y1="134.3" x2="888" y2="134.3" stroke="#3a3a3a" stroke-width="1.32" />
<rect x="867.95" y="131.5" width="6.8" height="5.6" fill="#fff" stroke="none" stroke-width="1" />
<text x="871.35" y="136.2" font-size="5.5" fill="#b8b400" text-anchor="middle" font-weight="bold">75</text>
<rect x="834.4" y="153.7" width="29.7" height="5" fill="#555" stroke="none" stroke-width="1" />
<rect x="863.2" y="165.2" width="15.8" height="3.9" fill="#555" stroke="none" stroke-width="1" />
<rect x="825.1" y="173.2" width="14.9" height="4.6" fill="#555" stroke="none" stroke-width="1" />
<rect x="827.9" y="200.1" width="16.1" height="4.3" fill="#555" stroke="none" stroke-width="1" />
<line x1="817.7" y1="181.6" x2="909.7" y2="181.6" stroke="#444" stroke-width="1.3" />
<line x1="859" y1="194.6" x2="909.7" y2="194.6" stroke="#444" stroke-width="1.1" />
<line x1="817.7" y1="184.3" x2="854.8" y2="184.3" stroke="#444" stroke-width="1.1" />
<rect x="854.8" y="171" width="32.6" height="35.6" fill="none" stroke="#444" stroke-width="1.1" />
<rect x="859" y="175" width="24.6" height="31.6" fill="#fff" stroke="#444" stroke-width="1.1" />
<line x1="859" y1="175" x2="883.6" y2="175" stroke="#222" stroke-width="1.6" />
<line x1="856" y1="186" x2="860" y2="192" stroke="#222" stroke-width="1.2" />
<line x1="886" y1="186" x2="890" y2="192" stroke="#222" stroke-width="1.2" />
<circle cx="870.6" cy="174" r="1" fill="#222" stroke="none" stroke-width="1" />
<line x1="870.6" y1="174" x2="874.3" y2="181.6" stroke="#333" stroke-width="1" />
<circle cx="847.5" cy="181.6" r="1" fill="#222" stroke="none" stroke-width="1" />
<line x1="888" y1="144.4" x2="906" y2="144.4" stroke="#e8202a" stroke-width="1.1" />
<line x1="888" y1="206.5" x2="906" y2="206.5" stroke="#e8202a" stroke-width="1.1" />
<line x1="888" y1="171.3" x2="898" y2="171.3" stroke="#e8202a" stroke-width="1.1" />
<line x1="895.4" y1="144.4" x2="895.4" y2="171.3" stroke="#3a3a3a" stroke-width="1.32" />
<rect x="892.6" y="154.45" width="5.6" height="6.8" fill="#fff" stroke="none" stroke-width="1" />
<text x="897.3" y="157.85" font-size="5.5" fill="#b8b400" text-anchor="middle" transform="rotate(-90 897.3 157.85)" font-weight="bold">60</text>
<line x1="895.4" y1="171.3" x2="895.4" y2="206.5" stroke="#3a3a3a" stroke-width="1.32" />
<rect x="892.6" y="185.5" width="5.6" height="6.8" fill="#fff" stroke="none" stroke-width="1" />
<text x="897.3" y="188.9" font-size="5.5" fill="#b8b400" text-anchor="middle" transform="rotate(-90 897.3 188.9)" font-weight="bold">60</text>
<line x1="904.5" y1="144.4" x2="904.5" y2="206.5" stroke="#3a3a3a" stroke-width="1.32" />
<rect x="901.7" y="170.35" width="5.6" height="10.2" fill="#fff" stroke="none" stroke-width="1" />
<text x="906.4" y="175.45" font-size="5.5" fill="#b8b400" text-anchor="middle" transform="rotate(-90 906.4 175.45)" font-weight="bold">140</text>
<rect x="817.5" y="206.5" width="99.3" height="14.8" fill="#d8d8d8" stroke="none" stroke-width="1" />
<path d="M817.5 206.5V221.3M819.2 206.5V221.3M820.9 206.5V221.3M822.6 206.5V221.3M824.3 206.5V221.3M826 206.5V221.3M827.7 206.5V221.3M829.4 206.5V221.3M831.1 206.5V221.3M832.8 206.5V221.3M834.5 206.5V221.3M836.2 206.5V221.3M837.9 206.5V221.3M839.6 206.5V221.3M841.3 206.5V221.3M843 206.5V221.3M844.7 206.5V221.3M846.4 206.5V221.3M848.1 206.5V221.3M849.8 206.5V221.3M851.5 206.5V221.3M853.2 206.5V221.3M854.9 206.5V221.3M856.6 206.5V221.3M858.3 206.5V221.3M860 206.5V221.3M861.7 206.5V221.3M863.4 206.5V221.3M865.1 206.5V221.3M866.8 206.5V221.3M868.5 206.5V221.3M870.2 206.5V221.3M871.9 206.5V221.3M873.6 206.5V221.3M875.3 206.5V221.3M877 206.5V221.3M878.7 206.5V221.3M880.4 206.5V221.3M882.1 206.5V221.3M883.8 206.5V221.3M885.5 206.5V221.3M887.2 206.5V221.3M888.9 206.5V221.3M890.6 206.5V221.3M892.3 206.5V221.3M894 206.5V221.3M895.7 206.5V221.3M897.4 206.5V221.3M899.1 206.5V221.3M900.8 206.5V221.3M902.5 206.5V221.3M904.2 206.5V221.3M905.9 206.5V221.3M907.6 206.5V221.3M909.3 206.5V221.3M911 206.5V221.3M912.7 206.5V221.3M914.4 206.5V221.3M916.1 206.5V221.3" stroke="#6a6a6a" stroke-width="0.8" fill="none" />
<line x1="817.5" y1="206.5" x2="916.8" y2="206.5" stroke="#222" stroke-width="1.4" />
<line x1="775" y1="221.5" x2="812" y2="221.5" stroke="#444" stroke-width="1.1" />
<rect x="911.2" y="174.3" width="62.4" height="4.6" fill="#555" stroke="none" stroke-width="1" />
<rect x="911.2" y="178.9" width="40.4" height="4.6" fill="#555" stroke="none" stroke-width="1" />
<rect x="911.2" y="183.5" width="52.6" height="4.1" fill="#555" stroke="none" stroke-width="1" />
<rect x="911.2" y="191.2" width="33.7" height="5.1" fill="#555" stroke="none" stroke-width="1" />
<rect x="911.2" y="196.3" width="50.6" height="3.4" fill="#555" stroke="none" stroke-width="1" />
<line x1="792.4" y1="266" x2="813.4" y2="266" stroke="#222" stroke-width="1" />
<line x1="802.9" y1="255" x2="802.9" y2="277" stroke="#222" stroke-width="1" />
<circle cx="802.9" cy="266" r="5.9" fill="#fff" stroke="#111" stroke-width="1.6" />
<circle cx="802.9" cy="266" r="3.5" fill="#111" stroke="none" stroke-width="1" />
<line x1="808.9" y1="266" x2="921.2" y2="266" stroke="#222" stroke-width="1.6" />
<rect x="901.4" y="266.7" width="18.1" height="4.3" fill="#4a4a4a" stroke="none" stroke-width="1" />
<text transform="translate(810.4 263.5) scale(0.68 1)" x="0" y="0" font-size="10.3" fill="#3e3e3e" font-weight="normal" textLength="71.03" lengthAdjust="spacing">POTONGAN A</text>
<polygon points="115.4,224.6 120.25,227.4 120.25,233 115.4,235.8 110.55,233 110.55,227.4" stroke="#c8c820" stroke-width="1" fill="#fbfbc8" />
<line x1="115.4" y1="235.8" x2="115.4" y2="241.8" stroke="#c8c820" stroke-width="1" />
<circle cx="115.4" cy="230.2" r="1.2" fill="#eded70" stroke="none" stroke-width="1" />
<polygon points="182,223.4 186.85,226.2 186.85,231.8 182,234.6 177.15,231.8 177.15,226.2" stroke="#c8c820" stroke-width="1" fill="#fbfbc8" />
<line x1="182" y1="234.6" x2="182" y2="240.6" stroke="#c8c820" stroke-width="1" />
<circle cx="182" cy="229" r="1.2" fill="#eded70" stroke="none" stroke-width="1" />
<polygon points="247.9,224.6 252.75,227.4 252.75,233 247.9,235.8 243.05,233 243.05,227.4" stroke="#c8c820" stroke-width="1" fill="#fbfbc8" />
<line x1="247.9" y1="235.8" x2="247.9" y2="241.8" stroke="#c8c820" stroke-width="1" />
<circle cx="247.9" cy="230.2" r="1.2" fill="#eded70" stroke="none" stroke-width="1" />
<line x1="115.4" y1="247.4" x2="248.6" y2="247.4" stroke="#f08a8a" stroke-width="1.1" />
<line x1="115.4" y1="256.4" x2="248.6" y2="256.4" stroke="#f08a8a" stroke-width="1.1" />
<line x1="115.4" y1="244" x2="115.4" y2="268.5" stroke="#f08a8a" stroke-width="1" />
<line x1="248.6" y1="244" x2="248.6" y2="268.5" stroke="#f08a8a" stroke-width="1" />
<line x1="181.8" y1="253" x2="181.8" y2="268.5" stroke="#f08a8a" stroke-width="1" />
<line x1="213.1" y1="253" x2="213.1" y2="268.5" stroke="#f08a8a" stroke-width="1" />
<circle cx="115.4" cy="256.4" r="0.6" fill="#111" stroke="none" stroke-width="1" />
<circle cx="181.8" cy="256.4" r="0.6" fill="#111" stroke="none" stroke-width="1" />
<circle cx="213.1" cy="256.4" r="0.6" fill="#111" stroke="none" stroke-width="1" />
<circle cx="248.6" cy="256.4" r="0.6" fill="#111" stroke="none" stroke-width="1" />
<text x="182" y="245" font-size="5.8" fill="#111" text-anchor="middle" font-weight="bold">800</text>
<text x="148.3" y="254.5" font-size="5.8" fill="#111" text-anchor="middle" font-weight="bold">300</text>
<text x="197.5" y="254.5" font-size="5.8" fill="#111" text-anchor="middle" font-weight="bold">140</text>
<text x="231" y="254.5" font-size="5.8" fill="#111" text-anchor="middle" font-weight="bold">180</text>
<rect x="213.1" y="268" width="35.5" height="17.2" fill="none" stroke="#7a6a70" stroke-width="1" />
<line x1="221.8" y1="268" x2="221.8" y2="285.2" stroke="#7a6a70" stroke-width="1" />
<line x1="230.8" y1="268" x2="230.8" y2="285.2" stroke="#7a6a70" stroke-width="1" />
<line x1="239.9" y1="268" x2="239.9" y2="285.2" stroke="#7a6a70" stroke-width="1" />
<line x1="182.3" y1="418.8" x2="182.3" y2="436" stroke="#7a6a70" stroke-width="1" />
<line x1="186.4" y1="418.8" x2="186.4" y2="436" stroke="#7a6a70" stroke-width="1" />
<line x1="195.5" y1="418.8" x2="195.5" y2="436" stroke="#7a6a70" stroke-width="1" />
<line x1="204.5" y1="418.8" x2="204.5" y2="436" stroke="#7a6a70" stroke-width="1" />
<line x1="213.6" y1="418.8" x2="213.6" y2="436" stroke="#7a6a70" stroke-width="1" />
<line x1="222.3" y1="418.8" x2="222.3" y2="436" stroke="#7a6a70" stroke-width="1" />
<line x1="230.8" y1="418.8" x2="230.8" y2="436" stroke="#7a6a70" stroke-width="1" />
<line x1="239.9" y1="418.8" x2="239.9" y2="436" stroke="#7a6a70" stroke-width="1" />
<line x1="248.6" y1="418.8" x2="248.6" y2="436" stroke="#7a6a70" stroke-width="1" />
<line x1="182.3" y1="427.8" x2="248.6" y2="427.8" stroke="#7a6a70" stroke-width="1" />
<line x1="182.3" y1="436" x2="248.6" y2="436" stroke="#7a6a70" stroke-width="1" />
<rect x="115.4" y="285" width="133.2" height="3.4" fill="#4a2e28" stroke="none" stroke-width="1" />
<clipPath id="pw488"><rect x="115.4" y="285" width="133.2" height="3.4"/></clipPath>
<g clip-path="url(#pw488)"><line x1="110.4" y1="288.4" x2="113.4" y2="285" stroke="#9a7a70" stroke-width="0.8"/><line x1="112.6" y1="288.4" x2="115.6" y2="285" stroke="#9a7a70" stroke-width="0.8"/><line x1="114.8" y1="288.4" x2="117.8" y2="285" stroke="#9a7a70" stroke-width="0.8"/><line x1="117" y1="288.4" x2="120" y2="285" stroke="#9a7a70" stroke-width="0.8"/><line x1="119.2" y1="288.4" x2="122.2" y2="285" stroke="#9a7a70" stroke-width="0.8"/><line x1="121.4" y1="288.4" x2="124.4" y2="285" stroke="#9a7a70" stroke-width="0.8"/><line x1="123.6" y1="288.4" x2="126.6" y2="285" stroke="#9a7a70" stroke-width="0.8"/><line x1="125.8" y1="288.4" x2="128.8" y2="285" stroke="#9a7a70" stroke-width="0.8"/><line x1="128" y1="288.4" x2="131" y2="285" stroke="#9a7a70" stroke-width="0.8"/><line x1="130.2" y1="288.4" x2="133.2" y2="285" stroke="#9a7a70" stroke-width="0.8"/><line x1="132.4" y1="288.4" x2="135.4" y2="285" stroke="#9a7a70" stroke-width="0.8"/><line x1="134.6" y1="288.4" x2="137.6" y2="285" stroke="#9a7a70" stroke-width="0.8"/><line x1="136.8" y1="288.4" x2="139.8" y2="285" stroke="#9a7a70" stroke-width="0.8"/><line x1="139" y1="288.4" x2="142" y2="285" stroke="#9a7a70" stroke-width="0.8"/><line x1="141.2" y1="288.4" x2="144.2" y2="285" stroke="#9a7a70" stroke-width="0.8"/><line x1="143.4" y1="288.4" x2="146.4" y2="285" stroke="#9a7a70" stroke-width="0.8"/><line x1="145.6" y1="288.4" x2="148.6" y2="285" stroke="#9a7a70" stroke-width="0.8"/><line x1="147.8" y1="288.4" x2="150.8" y2="285" stroke="#9a7a70" stroke-width="0.8"/><line x1="150" y1="288.4" x2="153" y2="285" stroke="#9a7a70" stroke-width="0.8"/><line x1="152.2" y1="288.4" x2="155.2" y2="285" stroke="#9a7a70" stroke-width="0.8"/><line x1="154.4" y1="288.4" x2="157.4" y2="285" stroke="#9a7a70" stroke-width="0.8"/><line x1="156.6" y1="288.4" x2="159.6" y2="285" stroke="#9a7a70" stroke-width="0.8"/><line x1="158.8" y1="288.4" x2="161.8" y2="285" stroke="#9a7a70" stroke-width="0.8"/><line x1="161" y1="288.4" x2="164" y2="285" stroke="#9a7a70" stroke-width="0.8"/><line x1="163.2" y1="288.4" x2="166.2" y2="285" stroke="#9a7a70" stroke-width="0.8"/><line x1="165.4" y1="288.4" x2="168.4" y2="285" stroke="#9a7a70" stroke-width="0.8"/><line x1="167.6" y1="288.4" x2="170.6" y2="285" stroke="#9a7a70" stroke-width="0.8"/><line x1="169.8" y1="288.4" x2="172.8" y2="285" stroke="#9a7a70" stroke-width="0.8"/><line x1="172" y1="288.4" x2="175" y2="285" stroke="#9a7a70" stroke-width="0.8"/><line x1="174.2" y1="288.4" x2="177.2" y2="285" stroke="#9a7a70" stroke-width="0.8"/><line x1="176.4" y1="288.4" x2="179.4" y2="285" stroke="#9a7a70" stroke-width="0.8"/><line x1="178.6" y1="288.4" x2="181.6" y2="285" stroke="#9a7a70" stroke-width="0.8"/><line x1="180.8" y1="288.4" x2="183.8" y2="285" stroke="#9a7a70" stroke-width="0.8"/><line x1="183" y1="288.4" x2="186" y2="285" stroke="#9a7a70" stroke-width="0.8"/><line x1="185.2" y1="288.4" x2="188.2" y2="285" stroke="#9a7a70" stroke-width="0.8"/><line x1="187.4" y1="288.4" x2="190.4" y2="285" stroke="#9a7a70" stroke-width="0.8"/><line x1="189.6" y1="288.4" x2="192.6" y2="285" stroke="#9a7a70" stroke-width="0.8"/><line x1="191.8" y1="288.4" x2="194.8" y2="285" stroke="#9a7a70" stroke-width="0.8"/><line x1="194" y1="288.4" x2="197" y2="285" stroke="#9a7a70" stroke-width="0.8"/><line x1="196.2" y1="288.4" x2="199.2" y2="285" stroke="#9a7a70" stroke-width="0.8"/><line x1="198.4" y1="288.4" x2="201.4" y2="285" stroke="#9a7a70" stroke-width="0.8"/><line x1="200.6" y1="288.4" x2="203.6" y2="285" stroke="#9a7a70" stroke-width="0.8"/><line x1="202.8" y1="288.4" x2="205.8" y2="285" stroke="#9a7a70" stroke-width="0.8"/><line x1="205" y1="288.4" x2="208" y2="285" stroke="#9a7a70" stroke-width="0.8"/><line x1="207.2" y1="288.4" x2="210.2" y2="285" stroke="#9a7a70" stroke-width="0.8"/><line x1="209.4" y1="288.4" x2="212.4" y2="285" stroke="#9a7a70" stroke-width="0.8"/><line x1="211.6" y1="288.4" x2="214.6" y2="285" stroke="#9a7a70" stroke-width="0.8"/><line x1="213.8" y1="288.4" x2="216.8" y2="285" stroke="#9a7a70" stroke-width="0.8"/><line x1="216" y1="288.4" x2="219" y2="285" stroke="#9a7a70" stroke-width="0.8"/><line x1="218.2" y1="288.4" x2="221.2" y2="285" stroke="#9a7a70" stroke-width="0.8"/><line x1="220.4" y1="288.4" x2="223.4" y2="285" stroke="#9a7a70" stroke-width="0.8"/><line x1="222.6" y1="288.4" x2="225.6" y2="285" stroke="#9a7a70" stroke-width="0.8"/><line x1="224.8" y1="288.4" x2="227.8" y2="285" stroke="#9a7a70" stroke-width="0.8"/><line x1="227" y1="288.4" x2="230" y2="285" stroke="#9a7a70" stroke-width="0.8"/><line x1="229.2" y1="288.4" x2="232.2" y2="285" stroke="#9a7a70" stroke-width="0.8"/><line x1="231.4" y1="288.4" x2="234.4" y2="285" stroke="#9a7a70" stroke-width="0.8"/><line x1="233.6" y1="288.4" x2="236.6" y2="285" stroke="#9a7a70" stroke-width="0.8"/><line x1="235.8" y1="288.4" x2="238.8" y2="285" stroke="#9a7a70" stroke-width="0.8"/><line x1="238" y1="288.4" x2="241" y2="285" stroke="#9a7a70" stroke-width="0.8"/><line x1="240.2" y1="288.4" x2="243.2" y2="285" stroke="#9a7a70" stroke-width="0.8"/><line x1="242.4" y1="288.4" x2="245.4" y2="285" stroke="#9a7a70" stroke-width="0.8"/><line x1="244.6" y1="288.4" x2="247.6" y2="285" stroke="#9a7a70" stroke-width="0.8"/><line x1="246.8" y1="288.4" x2="249.8" y2="285" stroke="#9a7a70" stroke-width="0.8"/><line x1="249" y1="288.4" x2="252" y2="285" stroke="#9a7a70" stroke-width="0.8"/><line x1="251.2" y1="288.4" x2="254.2" y2="285" stroke="#9a7a70" stroke-width="0.8"/><line x1="253.4" y1="288.4" x2="256.4" y2="285" stroke="#9a7a70" stroke-width="0.8"/></g>
<rect x="115.4" y="285" width="3.3" height="133.8" fill="#4a2e28" stroke="none" stroke-width="1" />
<clipPath id="pw491"><rect x="115.4" y="285" width="3.3" height="133.8"/></clipPath>
<g clip-path="url(#pw491)"><line x1="115.4" y1="283" x2="118.7" y2="280" stroke="#9a7a70" stroke-width="0.8"/><line x1="115.4" y1="285.2" x2="118.7" y2="282.2" stroke="#9a7a70" stroke-width="0.8"/><line x1="115.4" y1="287.4" x2="118.7" y2="284.4" stroke="#9a7a70" stroke-width="0.8"/><line x1="115.4" y1="289.6" x2="118.7" y2="286.6" stroke="#9a7a70" stroke-width="0.8"/><line x1="115.4" y1="291.8" x2="118.7" y2="288.8" stroke="#9a7a70" stroke-width="0.8"/><line x1="115.4" y1="294" x2="118.7" y2="291" stroke="#9a7a70" stroke-width="0.8"/><line x1="115.4" y1="296.2" x2="118.7" y2="293.2" stroke="#9a7a70" stroke-width="0.8"/><line x1="115.4" y1="298.4" x2="118.7" y2="295.4" stroke="#9a7a70" stroke-width="0.8"/><line x1="115.4" y1="300.6" x2="118.7" y2="297.6" stroke="#9a7a70" stroke-width="0.8"/><line x1="115.4" y1="302.8" x2="118.7" y2="299.8" stroke="#9a7a70" stroke-width="0.8"/><line x1="115.4" y1="305" x2="118.7" y2="302" stroke="#9a7a70" stroke-width="0.8"/><line x1="115.4" y1="307.2" x2="118.7" y2="304.2" stroke="#9a7a70" stroke-width="0.8"/><line x1="115.4" y1="309.4" x2="118.7" y2="306.4" stroke="#9a7a70" stroke-width="0.8"/><line x1="115.4" y1="311.6" x2="118.7" y2="308.6" stroke="#9a7a70" stroke-width="0.8"/><line x1="115.4" y1="313.8" x2="118.7" y2="310.8" stroke="#9a7a70" stroke-width="0.8"/><line x1="115.4" y1="316" x2="118.7" y2="313" stroke="#9a7a70" stroke-width="0.8"/><line x1="115.4" y1="318.2" x2="118.7" y2="315.2" stroke="#9a7a70" stroke-width="0.8"/><line x1="115.4" y1="320.4" x2="118.7" y2="317.4" stroke="#9a7a70" stroke-width="0.8"/><line x1="115.4" y1="322.6" x2="118.7" y2="319.6" stroke="#9a7a70" stroke-width="0.8"/><line x1="115.4" y1="324.8" x2="118.7" y2="321.8" stroke="#9a7a70" stroke-width="0.8"/><line x1="115.4" y1="327" x2="118.7" y2="324" stroke="#9a7a70" stroke-width="0.8"/><line x1="115.4" y1="329.2" x2="118.7" y2="326.2" stroke="#9a7a70" stroke-width="0.8"/><line x1="115.4" y1="331.4" x2="118.7" y2="328.4" stroke="#9a7a70" stroke-width="0.8"/><line x1="115.4" y1="333.6" x2="118.7" y2="330.6" stroke="#9a7a70" stroke-width="0.8"/><line x1="115.4" y1="335.8" x2="118.7" y2="332.8" stroke="#9a7a70" stroke-width="0.8"/><line x1="115.4" y1="338" x2="118.7" y2="335" stroke="#9a7a70" stroke-width="0.8"/><line x1="115.4" y1="340.2" x2="118.7" y2="337.2" stroke="#9a7a70" stroke-width="0.8"/><line x1="115.4" y1="342.4" x2="118.7" y2="339.4" stroke="#9a7a70" stroke-width="0.8"/><line x1="115.4" y1="344.6" x2="118.7" y2="341.6" stroke="#9a7a70" stroke-width="0.8"/><line x1="115.4" y1="346.8" x2="118.7" y2="343.8" stroke="#9a7a70" stroke-width="0.8"/><line x1="115.4" y1="349" x2="118.7" y2="346" stroke="#9a7a70" stroke-width="0.8"/><line x1="115.4" y1="351.2" x2="118.7" y2="348.2" stroke="#9a7a70" stroke-width="0.8"/><line x1="115.4" y1="353.4" x2="118.7" y2="350.4" stroke="#9a7a70" stroke-width="0.8"/><line x1="115.4" y1="355.6" x2="118.7" y2="352.6" stroke="#9a7a70" stroke-width="0.8"/><line x1="115.4" y1="357.8" x2="118.7" y2="354.8" stroke="#9a7a70" stroke-width="0.8"/><line x1="115.4" y1="360" x2="118.7" y2="357" stroke="#9a7a70" stroke-width="0.8"/><line x1="115.4" y1="362.2" x2="118.7" y2="359.2" stroke="#9a7a70" stroke-width="0.8"/><line x1="115.4" y1="364.4" x2="118.7" y2="361.4" stroke="#9a7a70" stroke-width="0.8"/><line x1="115.4" y1="366.6" x2="118.7" y2="363.6" stroke="#9a7a70" stroke-width="0.8"/><line x1="115.4" y1="368.8" x2="118.7" y2="365.8" stroke="#9a7a70" stroke-width="0.8"/><line x1="115.4" y1="371" x2="118.7" y2="368" stroke="#9a7a70" stroke-width="0.8"/><line x1="115.4" y1="373.2" x2="118.7" y2="370.2" stroke="#9a7a70" stroke-width="0.8"/><line x1="115.4" y1="375.4" x2="118.7" y2="372.4" stroke="#9a7a70" stroke-width="0.8"/><line x1="115.4" y1="377.6" x2="118.7" y2="374.6" stroke="#9a7a70" stroke-width="0.8"/><line x1="115.4" y1="379.8" x2="118.7" y2="376.8" stroke="#9a7a70" stroke-width="0.8"/><line x1="115.4" y1="382" x2="118.7" y2="379" stroke="#9a7a70" stroke-width="0.8"/><line x1="115.4" y1="384.2" x2="118.7" y2="381.2" stroke="#9a7a70" stroke-width="0.8"/><line x1="115.4" y1="386.4" x2="118.7" y2="383.4" stroke="#9a7a70" stroke-width="0.8"/><line x1="115.4" y1="388.6" x2="118.7" y2="385.6" stroke="#9a7a70" stroke-width="0.8"/><line x1="115.4" y1="390.8" x2="118.7" y2="387.8" stroke="#9a7a70" stroke-width="0.8"/><line x1="115.4" y1="393" x2="118.7" y2="390" stroke="#9a7a70" stroke-width="0.8"/><line x1="115.4" y1="395.2" x2="118.7" y2="392.2" stroke="#9a7a70" stroke-width="0.8"/><line x1="115.4" y1="397.4" x2="118.7" y2="394.4" stroke="#9a7a70" stroke-width="0.8"/><line x1="115.4" y1="399.6" x2="118.7" y2="396.6" stroke="#9a7a70" stroke-width="0.8"/><line x1="115.4" y1="401.8" x2="118.7" y2="398.8" stroke="#9a7a70" stroke-width="0.8"/><line x1="115.4" y1="404" x2="118.7" y2="401" stroke="#9a7a70" stroke-width="0.8"/><line x1="115.4" y1="406.2" x2="118.7" y2="403.2" stroke="#9a7a70" stroke-width="0.8"/><line x1="115.4" y1="408.4" x2="118.7" y2="405.4" stroke="#9a7a70" stroke-width="0.8"/><line x1="115.4" y1="410.6" x2="118.7" y2="407.6" stroke="#9a7a70" stroke-width="0.8"/><line x1="115.4" y1="412.8" x2="118.7" y2="409.8" stroke="#9a7a70" stroke-width="0.8"/><line x1="115.4" y1="415" x2="118.7" y2="412" stroke="#9a7a70" stroke-width="0.8"/><line x1="115.4" y1="417.2" x2="118.7" y2="414.2" stroke="#9a7a70" stroke-width="0.8"/><line x1="115.4" y1="419.4" x2="118.7" y2="416.4" stroke="#9a7a70" stroke-width="0.8"/><line x1="115.4" y1="421.6" x2="118.7" y2="418.6" stroke="#9a7a70" stroke-width="0.8"/><line x1="115.4" y1="423.8" x2="118.7" y2="420.8" stroke="#9a7a70" stroke-width="0.8"/><line x1="115.4" y1="426" x2="118.7" y2="423" stroke="#9a7a70" stroke-width="0.8"/></g>
<rect x="245.5" y="285" width="3.1" height="133.8" fill="#4a2e28" stroke="none" stroke-width="1" />
<clipPath id="pw494"><rect x="245.5" y="285" width="3.1" height="133.8"/></clipPath>
<g clip-path="url(#pw494)"><line x1="245.5" y1="283" x2="248.6" y2="280" stroke="#9a7a70" stroke-width="0.8"/><line x1="245.5" y1="285.2" x2="248.6" y2="282.2" stroke="#9a7a70" stroke-width="0.8"/><line x1="245.5" y1="287.4" x2="248.6" y2="284.4" stroke="#9a7a70" stroke-width="0.8"/><line x1="245.5" y1="289.6" x2="248.6" y2="286.6" stroke="#9a7a70" stroke-width="0.8"/><line x1="245.5" y1="291.8" x2="248.6" y2="288.8" stroke="#9a7a70" stroke-width="0.8"/><line x1="245.5" y1="294" x2="248.6" y2="291" stroke="#9a7a70" stroke-width="0.8"/><line x1="245.5" y1="296.2" x2="248.6" y2="293.2" stroke="#9a7a70" stroke-width="0.8"/><line x1="245.5" y1="298.4" x2="248.6" y2="295.4" stroke="#9a7a70" stroke-width="0.8"/><line x1="245.5" y1="300.6" x2="248.6" y2="297.6" stroke="#9a7a70" stroke-width="0.8"/><line x1="245.5" y1="302.8" x2="248.6" y2="299.8" stroke="#9a7a70" stroke-width="0.8"/><line x1="245.5" y1="305" x2="248.6" y2="302" stroke="#9a7a70" stroke-width="0.8"/><line x1="245.5" y1="307.2" x2="248.6" y2="304.2" stroke="#9a7a70" stroke-width="0.8"/><line x1="245.5" y1="309.4" x2="248.6" y2="306.4" stroke="#9a7a70" stroke-width="0.8"/><line x1="245.5" y1="311.6" x2="248.6" y2="308.6" stroke="#9a7a70" stroke-width="0.8"/><line x1="245.5" y1="313.8" x2="248.6" y2="310.8" stroke="#9a7a70" stroke-width="0.8"/><line x1="245.5" y1="316" x2="248.6" y2="313" stroke="#9a7a70" stroke-width="0.8"/><line x1="245.5" y1="318.2" x2="248.6" y2="315.2" stroke="#9a7a70" stroke-width="0.8"/><line x1="245.5" y1="320.4" x2="248.6" y2="317.4" stroke="#9a7a70" stroke-width="0.8"/><line x1="245.5" y1="322.6" x2="248.6" y2="319.6" stroke="#9a7a70" stroke-width="0.8"/><line x1="245.5" y1="324.8" x2="248.6" y2="321.8" stroke="#9a7a70" stroke-width="0.8"/><line x1="245.5" y1="327" x2="248.6" y2="324" stroke="#9a7a70" stroke-width="0.8"/><line x1="245.5" y1="329.2" x2="248.6" y2="326.2" stroke="#9a7a70" stroke-width="0.8"/><line x1="245.5" y1="331.4" x2="248.6" y2="328.4" stroke="#9a7a70" stroke-width="0.8"/><line x1="245.5" y1="333.6" x2="248.6" y2="330.6" stroke="#9a7a70" stroke-width="0.8"/><line x1="245.5" y1="335.8" x2="248.6" y2="332.8" stroke="#9a7a70" stroke-width="0.8"/><line x1="245.5" y1="338" x2="248.6" y2="335" stroke="#9a7a70" stroke-width="0.8"/><line x1="245.5" y1="340.2" x2="248.6" y2="337.2" stroke="#9a7a70" stroke-width="0.8"/><line x1="245.5" y1="342.4" x2="248.6" y2="339.4" stroke="#9a7a70" stroke-width="0.8"/><line x1="245.5" y1="344.6" x2="248.6" y2="341.6" stroke="#9a7a70" stroke-width="0.8"/><line x1="245.5" y1="346.8" x2="248.6" y2="343.8" stroke="#9a7a70" stroke-width="0.8"/><line x1="245.5" y1="349" x2="248.6" y2="346" stroke="#9a7a70" stroke-width="0.8"/><line x1="245.5" y1="351.2" x2="248.6" y2="348.2" stroke="#9a7a70" stroke-width="0.8"/><line x1="245.5" y1="353.4" x2="248.6" y2="350.4" stroke="#9a7a70" stroke-width="0.8"/><line x1="245.5" y1="355.6" x2="248.6" y2="352.6" stroke="#9a7a70" stroke-width="0.8"/><line x1="245.5" y1="357.8" x2="248.6" y2="354.8" stroke="#9a7a70" stroke-width="0.8"/><line x1="245.5" y1="360" x2="248.6" y2="357" stroke="#9a7a70" stroke-width="0.8"/><line x1="245.5" y1="362.2" x2="248.6" y2="359.2" stroke="#9a7a70" stroke-width="0.8"/><line x1="245.5" y1="364.4" x2="248.6" y2="361.4" stroke="#9a7a70" stroke-width="0.8"/><line x1="245.5" y1="366.6" x2="248.6" y2="363.6" stroke="#9a7a70" stroke-width="0.8"/><line x1="245.5" y1="368.8" x2="248.6" y2="365.8" stroke="#9a7a70" stroke-width="0.8"/><line x1="245.5" y1="371" x2="248.6" y2="368" stroke="#9a7a70" stroke-width="0.8"/><line x1="245.5" y1="373.2" x2="248.6" y2="370.2" stroke="#9a7a70" stroke-width="0.8"/><line x1="245.5" y1="375.4" x2="248.6" y2="372.4" stroke="#9a7a70" stroke-width="0.8"/><line x1="245.5" y1="377.6" x2="248.6" y2="374.6" stroke="#9a7a70" stroke-width="0.8"/><line x1="245.5" y1="379.8" x2="248.6" y2="376.8" stroke="#9a7a70" stroke-width="0.8"/><line x1="245.5" y1="382" x2="248.6" y2="379" stroke="#9a7a70" stroke-width="0.8"/><line x1="245.5" y1="384.2" x2="248.6" y2="381.2" stroke="#9a7a70" stroke-width="0.8"/><line x1="245.5" y1="386.4" x2="248.6" y2="383.4" stroke="#9a7a70" stroke-width="0.8"/><line x1="245.5" y1="388.6" x2="248.6" y2="385.6" stroke="#9a7a70" stroke-width="0.8"/><line x1="245.5" y1="390.8" x2="248.6" y2="387.8" stroke="#9a7a70" stroke-width="0.8"/><line x1="245.5" y1="393" x2="248.6" y2="390" stroke="#9a7a70" stroke-width="0.8"/><line x1="245.5" y1="395.2" x2="248.6" y2="392.2" stroke="#9a7a70" stroke-width="0.8"/><line x1="245.5" y1="397.4" x2="248.6" y2="394.4" stroke="#9a7a70" stroke-width="0.8"/><line x1="245.5" y1="399.6" x2="248.6" y2="396.6" stroke="#9a7a70" stroke-width="0.8"/><line x1="245.5" y1="401.8" x2="248.6" y2="398.8" stroke="#9a7a70" stroke-width="0.8"/><line x1="245.5" y1="404" x2="248.6" y2="401" stroke="#9a7a70" stroke-width="0.8"/><line x1="245.5" y1="406.2" x2="248.6" y2="403.2" stroke="#9a7a70" stroke-width="0.8"/><line x1="245.5" y1="408.4" x2="248.6" y2="405.4" stroke="#9a7a70" stroke-width="0.8"/><line x1="245.5" y1="410.6" x2="248.6" y2="407.6" stroke="#9a7a70" stroke-width="0.8"/><line x1="245.5" y1="412.8" x2="248.6" y2="409.8" stroke="#9a7a70" stroke-width="0.8"/><line x1="245.5" y1="415" x2="248.6" y2="412" stroke="#9a7a70" stroke-width="0.8"/><line x1="245.5" y1="417.2" x2="248.6" y2="414.2" stroke="#9a7a70" stroke-width="0.8"/><line x1="245.5" y1="419.4" x2="248.6" y2="416.4" stroke="#9a7a70" stroke-width="0.8"/><line x1="245.5" y1="421.6" x2="248.6" y2="418.6" stroke="#9a7a70" stroke-width="0.8"/><line x1="245.5" y1="423.8" x2="248.6" y2="420.8" stroke="#9a7a70" stroke-width="0.8"/><line x1="245.5" y1="426" x2="248.6" y2="423" stroke="#9a7a70" stroke-width="0.8"/></g>
<rect x="115.4" y="415.4" width="64.1" height="3.4" fill="#4a2e28" stroke="none" stroke-width="1" />
<clipPath id="pw497"><rect x="115.4" y="415.4" width="64.1" height="3.4"/></clipPath>
<g clip-path="url(#pw497)"><line x1="110.4" y1="418.8" x2="113.4" y2="415.4" stroke="#9a7a70" stroke-width="0.8"/><line x1="112.6" y1="418.8" x2="115.6" y2="415.4" stroke="#9a7a70" stroke-width="0.8"/><line x1="114.8" y1="418.8" x2="117.8" y2="415.4" stroke="#9a7a70" stroke-width="0.8"/><line x1="117" y1="418.8" x2="120" y2="415.4" stroke="#9a7a70" stroke-width="0.8"/><line x1="119.2" y1="418.8" x2="122.2" y2="415.4" stroke="#9a7a70" stroke-width="0.8"/><line x1="121.4" y1="418.8" x2="124.4" y2="415.4" stroke="#9a7a70" stroke-width="0.8"/><line x1="123.6" y1="418.8" x2="126.6" y2="415.4" stroke="#9a7a70" stroke-width="0.8"/><line x1="125.8" y1="418.8" x2="128.8" y2="415.4" stroke="#9a7a70" stroke-width="0.8"/><line x1="128" y1="418.8" x2="131" y2="415.4" stroke="#9a7a70" stroke-width="0.8"/><line x1="130.2" y1="418.8" x2="133.2" y2="415.4" stroke="#9a7a70" stroke-width="0.8"/><line x1="132.4" y1="418.8" x2="135.4" y2="415.4" stroke="#9a7a70" stroke-width="0.8"/><line x1="134.6" y1="418.8" x2="137.6" y2="415.4" stroke="#9a7a70" stroke-width="0.8"/><line x1="136.8" y1="418.8" x2="139.8" y2="415.4" stroke="#9a7a70" stroke-width="0.8"/><line x1="139" y1="418.8" x2="142" y2="415.4" stroke="#9a7a70" stroke-width="0.8"/><line x1="141.2" y1="418.8" x2="144.2" y2="415.4" stroke="#9a7a70" stroke-width="0.8"/><line x1="143.4" y1="418.8" x2="146.4" y2="415.4" stroke="#9a7a70" stroke-width="0.8"/><line x1="145.6" y1="418.8" x2="148.6" y2="415.4" stroke="#9a7a70" stroke-width="0.8"/><line x1="147.8" y1="418.8" x2="150.8" y2="415.4" stroke="#9a7a70" stroke-width="0.8"/><line x1="150" y1="418.8" x2="153" y2="415.4" stroke="#9a7a70" stroke-width="0.8"/><line x1="152.2" y1="418.8" x2="155.2" y2="415.4" stroke="#9a7a70" stroke-width="0.8"/><line x1="154.4" y1="418.8" x2="157.4" y2="415.4" stroke="#9a7a70" stroke-width="0.8"/><line x1="156.6" y1="418.8" x2="159.6" y2="415.4" stroke="#9a7a70" stroke-width="0.8"/><line x1="158.8" y1="418.8" x2="161.8" y2="415.4" stroke="#9a7a70" stroke-width="0.8"/><line x1="161" y1="418.8" x2="164" y2="415.4" stroke="#9a7a70" stroke-width="0.8"/><line x1="163.2" y1="418.8" x2="166.2" y2="415.4" stroke="#9a7a70" stroke-width="0.8"/><line x1="165.4" y1="418.8" x2="168.4" y2="415.4" stroke="#9a7a70" stroke-width="0.8"/><line x1="167.6" y1="418.8" x2="170.6" y2="415.4" stroke="#9a7a70" stroke-width="0.8"/><line x1="169.8" y1="418.8" x2="172.8" y2="415.4" stroke="#9a7a70" stroke-width="0.8"/><line x1="172" y1="418.8" x2="175" y2="415.4" stroke="#9a7a70" stroke-width="0.8"/><line x1="174.2" y1="418.8" x2="177.2" y2="415.4" stroke="#9a7a70" stroke-width="0.8"/><line x1="176.4" y1="418.8" x2="179.4" y2="415.4" stroke="#9a7a70" stroke-width="0.8"/><line x1="178.6" y1="418.8" x2="181.6" y2="415.4" stroke="#9a7a70" stroke-width="0.8"/><line x1="180.8" y1="418.8" x2="183.8" y2="415.4" stroke="#9a7a70" stroke-width="0.8"/><line x1="183" y1="418.8" x2="186" y2="415.4" stroke="#9a7a70" stroke-width="0.8"/></g>
<rect x="208.6" y="415.4" width="40" height="3.4" fill="#4a2e28" stroke="none" stroke-width="1" />
<clipPath id="pw500"><rect x="208.6" y="415.4" width="40" height="3.4"/></clipPath>
<g clip-path="url(#pw500)"><line x1="203.6" y1="418.8" x2="206.6" y2="415.4" stroke="#9a7a70" stroke-width="0.8"/><line x1="205.8" y1="418.8" x2="208.8" y2="415.4" stroke="#9a7a70" stroke-width="0.8"/><line x1="208" y1="418.8" x2="211" y2="415.4" stroke="#9a7a70" stroke-width="0.8"/><line x1="210.2" y1="418.8" x2="213.2" y2="415.4" stroke="#9a7a70" stroke-width="0.8"/><line x1="212.4" y1="418.8" x2="215.4" y2="415.4" stroke="#9a7a70" stroke-width="0.8"/><line x1="214.6" y1="418.8" x2="217.6" y2="415.4" stroke="#9a7a70" stroke-width="0.8"/><line x1="216.8" y1="418.8" x2="219.8" y2="415.4" stroke="#9a7a70" stroke-width="0.8"/><line x1="219" y1="418.8" x2="222" y2="415.4" stroke="#9a7a70" stroke-width="0.8"/><line x1="221.2" y1="418.8" x2="224.2" y2="415.4" stroke="#9a7a70" stroke-width="0.8"/><line x1="223.4" y1="418.8" x2="226.4" y2="415.4" stroke="#9a7a70" stroke-width="0.8"/><line x1="225.6" y1="418.8" x2="228.6" y2="415.4" stroke="#9a7a70" stroke-width="0.8"/><line x1="227.8" y1="418.8" x2="230.8" y2="415.4" stroke="#9a7a70" stroke-width="0.8"/><line x1="230" y1="418.8" x2="233" y2="415.4" stroke="#9a7a70" stroke-width="0.8"/><line x1="232.2" y1="418.8" x2="235.2" y2="415.4" stroke="#9a7a70" stroke-width="0.8"/><line x1="234.4" y1="418.8" x2="237.4" y2="415.4" stroke="#9a7a70" stroke-width="0.8"/><line x1="236.6" y1="418.8" x2="239.6" y2="415.4" stroke="#9a7a70" stroke-width="0.8"/><line x1="238.8" y1="418.8" x2="241.8" y2="415.4" stroke="#9a7a70" stroke-width="0.8"/><line x1="241" y1="418.8" x2="244" y2="415.4" stroke="#9a7a70" stroke-width="0.8"/><line x1="243.2" y1="418.8" x2="246.2" y2="415.4" stroke="#9a7a70" stroke-width="0.8"/><line x1="245.4" y1="418.8" x2="248.4" y2="415.4" stroke="#9a7a70" stroke-width="0.8"/><line x1="247.6" y1="418.8" x2="250.6" y2="415.4" stroke="#9a7a70" stroke-width="0.8"/><line x1="249.8" y1="418.8" x2="252.8" y2="415.4" stroke="#9a7a70" stroke-width="0.8"/><line x1="252" y1="418.8" x2="255" y2="415.4" stroke="#9a7a70" stroke-width="0.8"/></g>
<rect x="182.3" y="415.4" width="7.1" height="3.4" fill="#4a2e28" stroke="none" stroke-width="1" />
<clipPath id="pw503"><rect x="182.3" y="415.4" width="7.1" height="3.4"/></clipPath>
<g clip-path="url(#pw503)"><line x1="177.3" y1="418.8" x2="180.3" y2="415.4" stroke="#9a7a70" stroke-width="0.8"/><line x1="179.5" y1="418.8" x2="182.5" y2="415.4" stroke="#9a7a70" stroke-width="0.8"/><line x1="181.7" y1="418.8" x2="184.7" y2="415.4" stroke="#9a7a70" stroke-width="0.8"/><line x1="183.9" y1="418.8" x2="186.9" y2="415.4" stroke="#9a7a70" stroke-width="0.8"/><line x1="186.1" y1="418.8" x2="189.1" y2="415.4" stroke="#9a7a70" stroke-width="0.8"/><line x1="188.3" y1="418.8" x2="191.3" y2="415.4" stroke="#9a7a70" stroke-width="0.8"/><line x1="190.5" y1="418.8" x2="193.5" y2="415.4" stroke="#9a7a70" stroke-width="0.8"/><line x1="192.7" y1="418.8" x2="195.7" y2="415.4" stroke="#9a7a70" stroke-width="0.8"/></g>
<rect x="115.4" y="349.2" width="64.1" height="3.2" fill="#4a2e28" stroke="none" stroke-width="1" />
<clipPath id="pw506"><rect x="115.4" y="349.2" width="64.1" height="3.2"/></clipPath>
<g clip-path="url(#pw506)"><line x1="110.4" y1="352.4" x2="113.4" y2="349.2" stroke="#9a7a70" stroke-width="0.8"/><line x1="112.6" y1="352.4" x2="115.6" y2="349.2" stroke="#9a7a70" stroke-width="0.8"/><line x1="114.8" y1="352.4" x2="117.8" y2="349.2" stroke="#9a7a70" stroke-width="0.8"/><line x1="117" y1="352.4" x2="120" y2="349.2" stroke="#9a7a70" stroke-width="0.8"/><line x1="119.2" y1="352.4" x2="122.2" y2="349.2" stroke="#9a7a70" stroke-width="0.8"/><line x1="121.4" y1="352.4" x2="124.4" y2="349.2" stroke="#9a7a70" stroke-width="0.8"/><line x1="123.6" y1="352.4" x2="126.6" y2="349.2" stroke="#9a7a70" stroke-width="0.8"/><line x1="125.8" y1="352.4" x2="128.8" y2="349.2" stroke="#9a7a70" stroke-width="0.8"/><line x1="128" y1="352.4" x2="131" y2="349.2" stroke="#9a7a70" stroke-width="0.8"/><line x1="130.2" y1="352.4" x2="133.2" y2="349.2" stroke="#9a7a70" stroke-width="0.8"/><line x1="132.4" y1="352.4" x2="135.4" y2="349.2" stroke="#9a7a70" stroke-width="0.8"/><line x1="134.6" y1="352.4" x2="137.6" y2="349.2" stroke="#9a7a70" stroke-width="0.8"/><line x1="136.8" y1="352.4" x2="139.8" y2="349.2" stroke="#9a7a70" stroke-width="0.8"/><line x1="139" y1="352.4" x2="142" y2="349.2" stroke="#9a7a70" stroke-width="0.8"/><line x1="141.2" y1="352.4" x2="144.2" y2="349.2" stroke="#9a7a70" stroke-width="0.8"/><line x1="143.4" y1="352.4" x2="146.4" y2="349.2" stroke="#9a7a70" stroke-width="0.8"/><line x1="145.6" y1="352.4" x2="148.6" y2="349.2" stroke="#9a7a70" stroke-width="0.8"/><line x1="147.8" y1="352.4" x2="150.8" y2="349.2" stroke="#9a7a70" stroke-width="0.8"/><line x1="150" y1="352.4" x2="153" y2="349.2" stroke="#9a7a70" stroke-width="0.8"/><line x1="152.2" y1="352.4" x2="155.2" y2="349.2" stroke="#9a7a70" stroke-width="0.8"/><line x1="154.4" y1="352.4" x2="157.4" y2="349.2" stroke="#9a7a70" stroke-width="0.8"/><line x1="156.6" y1="352.4" x2="159.6" y2="349.2" stroke="#9a7a70" stroke-width="0.8"/><line x1="158.8" y1="352.4" x2="161.8" y2="349.2" stroke="#9a7a70" stroke-width="0.8"/><line x1="161" y1="352.4" x2="164" y2="349.2" stroke="#9a7a70" stroke-width="0.8"/><line x1="163.2" y1="352.4" x2="166.2" y2="349.2" stroke="#9a7a70" stroke-width="0.8"/><line x1="165.4" y1="352.4" x2="168.4" y2="349.2" stroke="#9a7a70" stroke-width="0.8"/><line x1="167.6" y1="352.4" x2="170.6" y2="349.2" stroke="#9a7a70" stroke-width="0.8"/><line x1="169.8" y1="352.4" x2="172.8" y2="349.2" stroke="#9a7a70" stroke-width="0.8"/><line x1="172" y1="352.4" x2="175" y2="349.2" stroke="#9a7a70" stroke-width="0.8"/><line x1="174.2" y1="352.4" x2="177.2" y2="349.2" stroke="#9a7a70" stroke-width="0.8"/><line x1="176.4" y1="352.4" x2="179.4" y2="349.2" stroke="#9a7a70" stroke-width="0.8"/><line x1="178.6" y1="352.4" x2="181.6" y2="349.2" stroke="#9a7a70" stroke-width="0.8"/><line x1="180.8" y1="352.4" x2="183.8" y2="349.2" stroke="#9a7a70" stroke-width="0.8"/><line x1="183" y1="352.4" x2="186" y2="349.2" stroke="#9a7a70" stroke-width="0.8"/></g>
<rect x="179.2" y="285" width="3.3" height="59" fill="#4a2e28" stroke="none" stroke-width="1" />
<clipPath id="pw509"><rect x="179.2" y="285" width="3.3" height="59"/></clipPath>
<g clip-path="url(#pw509)"><line x1="179.2" y1="283" x2="182.5" y2="280" stroke="#9a7a70" stroke-width="0.8"/><line x1="179.2" y1="285.2" x2="182.5" y2="282.2" stroke="#9a7a70" stroke-width="0.8"/><line x1="179.2" y1="287.4" x2="182.5" y2="284.4" stroke="#9a7a70" stroke-width="0.8"/><line x1="179.2" y1="289.6" x2="182.5" y2="286.6" stroke="#9a7a70" stroke-width="0.8"/><line x1="179.2" y1="291.8" x2="182.5" y2="288.8" stroke="#9a7a70" stroke-width="0.8"/><line x1="179.2" y1="294" x2="182.5" y2="291" stroke="#9a7a70" stroke-width="0.8"/><line x1="179.2" y1="296.2" x2="182.5" y2="293.2" stroke="#9a7a70" stroke-width="0.8"/><line x1="179.2" y1="298.4" x2="182.5" y2="295.4" stroke="#9a7a70" stroke-width="0.8"/><line x1="179.2" y1="300.6" x2="182.5" y2="297.6" stroke="#9a7a70" stroke-width="0.8"/><line x1="179.2" y1="302.8" x2="182.5" y2="299.8" stroke="#9a7a70" stroke-width="0.8"/><line x1="179.2" y1="305" x2="182.5" y2="302" stroke="#9a7a70" stroke-width="0.8"/><line x1="179.2" y1="307.2" x2="182.5" y2="304.2" stroke="#9a7a70" stroke-width="0.8"/><line x1="179.2" y1="309.4" x2="182.5" y2="306.4" stroke="#9a7a70" stroke-width="0.8"/><line x1="179.2" y1="311.6" x2="182.5" y2="308.6" stroke="#9a7a70" stroke-width="0.8"/><line x1="179.2" y1="313.8" x2="182.5" y2="310.8" stroke="#9a7a70" stroke-width="0.8"/><line x1="179.2" y1="316" x2="182.5" y2="313" stroke="#9a7a70" stroke-width="0.8"/><line x1="179.2" y1="318.2" x2="182.5" y2="315.2" stroke="#9a7a70" stroke-width="0.8"/><line x1="179.2" y1="320.4" x2="182.5" y2="317.4" stroke="#9a7a70" stroke-width="0.8"/><line x1="179.2" y1="322.6" x2="182.5" y2="319.6" stroke="#9a7a70" stroke-width="0.8"/><line x1="179.2" y1="324.8" x2="182.5" y2="321.8" stroke="#9a7a70" stroke-width="0.8"/><line x1="179.2" y1="327" x2="182.5" y2="324" stroke="#9a7a70" stroke-width="0.8"/><line x1="179.2" y1="329.2" x2="182.5" y2="326.2" stroke="#9a7a70" stroke-width="0.8"/><line x1="179.2" y1="331.4" x2="182.5" y2="328.4" stroke="#9a7a70" stroke-width="0.8"/><line x1="179.2" y1="333.6" x2="182.5" y2="330.6" stroke="#9a7a70" stroke-width="0.8"/><line x1="179.2" y1="335.8" x2="182.5" y2="332.8" stroke="#9a7a70" stroke-width="0.8"/><line x1="179.2" y1="338" x2="182.5" y2="335" stroke="#9a7a70" stroke-width="0.8"/><line x1="179.2" y1="340.2" x2="182.5" y2="337.2" stroke="#9a7a70" stroke-width="0.8"/><line x1="179.2" y1="342.4" x2="182.5" y2="339.4" stroke="#9a7a70" stroke-width="0.8"/><line x1="179.2" y1="344.6" x2="182.5" y2="341.6" stroke="#9a7a70" stroke-width="0.8"/><line x1="179.2" y1="346.8" x2="182.5" y2="343.8" stroke="#9a7a70" stroke-width="0.8"/><line x1="179.2" y1="349" x2="182.5" y2="346" stroke="#9a7a70" stroke-width="0.8"/><line x1="179.2" y1="351.2" x2="182.5" y2="348.2" stroke="#9a7a70" stroke-width="0.8"/></g>
<rect x="179.2" y="377.7" width="3.3" height="41.1" fill="#4a2e28" stroke="none" stroke-width="1" />
<clipPath id="pw512"><rect x="179.2" y="377.7" width="3.3" height="41.1"/></clipPath>
<g clip-path="url(#pw512)"><line x1="179.2" y1="375.7" x2="182.5" y2="372.7" stroke="#9a7a70" stroke-width="0.8"/><line x1="179.2" y1="377.9" x2="182.5" y2="374.9" stroke="#9a7a70" stroke-width="0.8"/><line x1="179.2" y1="380.1" x2="182.5" y2="377.1" stroke="#9a7a70" stroke-width="0.8"/><line x1="179.2" y1="382.3" x2="182.5" y2="379.3" stroke="#9a7a70" stroke-width="0.8"/><line x1="179.2" y1="384.5" x2="182.5" y2="381.5" stroke="#9a7a70" stroke-width="0.8"/><line x1="179.2" y1="386.7" x2="182.5" y2="383.7" stroke="#9a7a70" stroke-width="0.8"/><line x1="179.2" y1="388.9" x2="182.5" y2="385.9" stroke="#9a7a70" stroke-width="0.8"/><line x1="179.2" y1="391.1" x2="182.5" y2="388.1" stroke="#9a7a70" stroke-width="0.8"/><line x1="179.2" y1="393.3" x2="182.5" y2="390.3" stroke="#9a7a70" stroke-width="0.8"/><line x1="179.2" y1="395.5" x2="182.5" y2="392.5" stroke="#9a7a70" stroke-width="0.8"/><line x1="179.2" y1="397.7" x2="182.5" y2="394.7" stroke="#9a7a70" stroke-width="0.8"/><line x1="179.2" y1="399.9" x2="182.5" y2="396.9" stroke="#9a7a70" stroke-width="0.8"/><line x1="179.2" y1="402.1" x2="182.5" y2="399.1" stroke="#9a7a70" stroke-width="0.8"/><line x1="179.2" y1="404.3" x2="182.5" y2="401.3" stroke="#9a7a70" stroke-width="0.8"/><line x1="179.2" y1="406.5" x2="182.5" y2="403.5" stroke="#9a7a70" stroke-width="0.8"/><line x1="179.2" y1="408.7" x2="182.5" y2="405.7" stroke="#9a7a70" stroke-width="0.8"/><line x1="179.2" y1="410.9" x2="182.5" y2="407.9" stroke="#9a7a70" stroke-width="0.8"/><line x1="179.2" y1="413.1" x2="182.5" y2="410.1" stroke="#9a7a70" stroke-width="0.8"/><line x1="179.2" y1="415.3" x2="182.5" y2="412.3" stroke="#9a7a70" stroke-width="0.8"/><line x1="179.2" y1="417.5" x2="182.5" y2="414.5" stroke="#9a7a70" stroke-width="0.8"/><line x1="179.2" y1="419.7" x2="182.5" y2="416.7" stroke="#9a7a70" stroke-width="0.8"/><line x1="179.2" y1="421.9" x2="182.5" y2="418.9" stroke="#9a7a70" stroke-width="0.8"/><line x1="179.2" y1="424.1" x2="182.5" y2="421.1" stroke="#9a7a70" stroke-width="0.8"/><line x1="179.2" y1="426.3" x2="182.5" y2="423.3" stroke="#9a7a70" stroke-width="0.8"/></g>
<rect x="182.5" y="320.3" width="30.6" height="3" fill="#4a2e28" stroke="none" stroke-width="1" />
<clipPath id="pw515"><rect x="182.5" y="320.3" width="30.6" height="3"/></clipPath>
<g clip-path="url(#pw515)"><line x1="177.5" y1="323.3" x2="180.5" y2="320.3" stroke="#9a7a70" stroke-width="0.8"/><line x1="179.7" y1="323.3" x2="182.7" y2="320.3" stroke="#9a7a70" stroke-width="0.8"/><line x1="181.9" y1="323.3" x2="184.9" y2="320.3" stroke="#9a7a70" stroke-width="0.8"/><line x1="184.1" y1="323.3" x2="187.1" y2="320.3" stroke="#9a7a70" stroke-width="0.8"/><line x1="186.3" y1="323.3" x2="189.3" y2="320.3" stroke="#9a7a70" stroke-width="0.8"/><line x1="188.5" y1="323.3" x2="191.5" y2="320.3" stroke="#9a7a70" stroke-width="0.8"/><line x1="190.7" y1="323.3" x2="193.7" y2="320.3" stroke="#9a7a70" stroke-width="0.8"/><line x1="192.9" y1="323.3" x2="195.9" y2="320.3" stroke="#9a7a70" stroke-width="0.8"/><line x1="195.1" y1="323.3" x2="198.1" y2="320.3" stroke="#9a7a70" stroke-width="0.8"/><line x1="197.3" y1="323.3" x2="200.3" y2="320.3" stroke="#9a7a70" stroke-width="0.8"/><line x1="199.5" y1="323.3" x2="202.5" y2="320.3" stroke="#9a7a70" stroke-width="0.8"/><line x1="201.7" y1="323.3" x2="204.7" y2="320.3" stroke="#9a7a70" stroke-width="0.8"/><line x1="203.9" y1="323.3" x2="206.9" y2="320.3" stroke="#9a7a70" stroke-width="0.8"/><line x1="206.1" y1="323.3" x2="209.1" y2="320.3" stroke="#9a7a70" stroke-width="0.8"/><line x1="208.3" y1="323.3" x2="211.3" y2="320.3" stroke="#9a7a70" stroke-width="0.8"/><line x1="210.5" y1="323.3" x2="213.5" y2="320.3" stroke="#9a7a70" stroke-width="0.8"/><line x1="212.7" y1="323.3" x2="215.7" y2="320.3" stroke="#9a7a70" stroke-width="0.8"/><line x1="214.9" y1="323.3" x2="217.9" y2="320.3" stroke="#9a7a70" stroke-width="0.8"/><line x1="217.1" y1="323.3" x2="220.1" y2="320.3" stroke="#9a7a70" stroke-width="0.8"/></g>
<rect x="210.2" y="288" width="2.9" height="17" fill="#4a2e28" stroke="none" stroke-width="1" />
<clipPath id="pw518"><rect x="210.2" y="288" width="2.9" height="17"/></clipPath>
<g clip-path="url(#pw518)"><line x1="210.2" y1="286" x2="213.1" y2="283" stroke="#9a7a70" stroke-width="0.8"/><line x1="210.2" y1="288.2" x2="213.1" y2="285.2" stroke="#9a7a70" stroke-width="0.8"/><line x1="210.2" y1="290.4" x2="213.1" y2="287.4" stroke="#9a7a70" stroke-width="0.8"/><line x1="210.2" y1="292.6" x2="213.1" y2="289.6" stroke="#9a7a70" stroke-width="0.8"/><line x1="210.2" y1="294.8" x2="213.1" y2="291.8" stroke="#9a7a70" stroke-width="0.8"/><line x1="210.2" y1="297" x2="213.1" y2="294" stroke="#9a7a70" stroke-width="0.8"/><line x1="210.2" y1="299.2" x2="213.1" y2="296.2" stroke="#9a7a70" stroke-width="0.8"/><line x1="210.2" y1="301.4" x2="213.1" y2="298.4" stroke="#9a7a70" stroke-width="0.8"/><line x1="210.2" y1="303.6" x2="213.1" y2="300.6" stroke="#9a7a70" stroke-width="0.8"/><line x1="210.2" y1="305.8" x2="213.1" y2="302.8" stroke="#9a7a70" stroke-width="0.8"/><line x1="210.2" y1="308" x2="213.1" y2="305" stroke="#9a7a70" stroke-width="0.8"/><line x1="210.2" y1="310.2" x2="213.1" y2="307.2" stroke="#9a7a70" stroke-width="0.8"/><line x1="210.2" y1="312.4" x2="213.1" y2="309.4" stroke="#9a7a70" stroke-width="0.8"/></g>
<line x1="197.1" y1="288.4" x2="197.1" y2="303.3" stroke="#333" stroke-width="0.9" />
<line x1="182.5" y1="303.3" x2="210.2" y2="303.3" stroke="#333" stroke-width="0.9" />
<line x1="210.2" y1="303.3" x2="210.2" y2="320.3" stroke="#3c96e6" stroke-width="1.3" />
<path d="M194.7 320 Q196 305 210.2 304" stroke="#3c96e6" stroke-width="1.4" fill="none" />
<rect x="194.5" y="318.8" width="19.5" height="2" fill="#3c96e6" stroke="none" stroke-width="1" />
<path d="M186 290 q5 -2 9 1 l1 5 q-1 5 -5 6 q-5 0 -6 -4 z" stroke="#111" stroke-width="1.8" fill="#eee" />
<circle cx="190.5" cy="294.5" r="1.6" fill="none" stroke="#111" stroke-width="0.9" />
<rect x="142.5" y="285" width="13.2" height="3.4" fill="#3c96e6" stroke="none" stroke-width="1" />
<rect x="188.9" y="285" width="12.3" height="3.4" fill="#3c96e6" stroke="none" stroke-width="1" />
<rect x="142.5" y="415.4" width="13.2" height="3.4" fill="#3c96e6" stroke="none" stroke-width="1" />
<rect x="216.9" y="415.4" width="24.6" height="3.4" fill="#3c96e6" stroke="none" stroke-width="1" />
<polygon points="115.4,285 122.4,285 122.4,288.3 118.7,288.3 118.7,292 115.4,292" stroke="#e04848" stroke-width="0.8" fill="#f6b0a8" />
<polygon points="248.6,285 241.6,285 241.6,288.3 245.3,288.3 245.3,292 248.6,292" stroke="#e04848" stroke-width="0.8" fill="#f6b0a8" />
<polygon points="115.4,418.8 122.4,418.8 122.4,415.5 118.7,415.5 118.7,411.8 115.4,411.8" stroke="#e04848" stroke-width="0.8" fill="#f6b0a8" />
<polygon points="248.6,418.8 241.6,418.8 241.6,415.5 245.3,415.5 245.3,411.8 248.6,411.8" stroke="#e04848" stroke-width="0.8" fill="#f6b0a8" />
<rect x="176.5" y="285" width="9" height="6" fill="#f6b0a8" stroke="#e04848" stroke-width="0.8" />
<rect x="115.4" y="345.6" width="6.6" height="10.4" fill="#f6b0a8" stroke="#e04848" stroke-width="0.8" />
<rect x="176.8" y="345.2" width="8.2" height="11.3" fill="#f6b0a8" stroke="#e04848" stroke-width="0.8" />
<rect x="183" y="348.5" width="6.4" height="4.5" fill="#f6b0a8" stroke="#e04848" stroke-width="0.8" />
<rect x="241.5" y="345.6" width="7.1" height="14" fill="#f6b0a8" stroke="#e04848" stroke-width="0.8" />
<rect x="238" y="349" width="7" height="4.5" fill="#f6b0a8" stroke="#e04848" stroke-width="0.8" />
<rect x="176.5" y="412.5" width="9" height="6.3" fill="#f6b0a8" stroke="#e04848" stroke-width="0.8" />
<rect x="210" y="320" width="4" height="3.5" fill="#f6b0a8" stroke="#e04848" stroke-width="0.7" />
<line x1="214.4" y1="287.7" x2="214.4" y2="305.8" stroke="#8a3a22" stroke-width="1" />
<path d="M214.4 305.8 Q231 305 231.6 287.7" stroke="#8a3a22" stroke-width="1" fill="none" />
<rect x="162.3" y="342.8" width="18" height="2.2" fill="none" stroke="#8a3a22" stroke-width="0.9" />
<path d="M162.3 344 Q163 327 182 325" stroke="#8a3a22" stroke-width="1" fill="none" />
<rect x="162.3" y="358.6" width="18" height="2.2" fill="none" stroke="#8a3a22" stroke-width="0.9" />
<path d="M162.3 359.6 Q163 377 182 377.7" stroke="#8a3a22" stroke-width="1" fill="none" />
<line x1="189.4" y1="398" x2="189.4" y2="417" stroke="#8a3a22" stroke-width="1" />
<path d="M189.4 398 Q206 399 207.8 415.5" stroke="#8a3a22" stroke-width="1" fill="none" />
<rect x="232.5" y="286.8" width="13.5" height="37" fill="none" stroke="#333" stroke-width="1.1" />
<rect x="233.3" y="309" width="12.3" height="12.4" fill="none" stroke="#333" stroke-width="1" />
<rect x="235" y="311" width="9" height="8.5" fill="none" stroke="#555" stroke-width="0.8" />
<line x1="232.5" y1="321.8" x2="246" y2="321.8" stroke="#777" stroke-width="1.5" />
<polygon points="142.15,295.6 144.35,292.3 152.25,292.3 154.45,295.6 152.25,298.9 144.35,298.9" stroke="#a848b8" stroke-width="1.1" fill="#fff" />
<rect x="145.9" y="293.2" width="4.8" height="4.8" fill="#6a0a80" stroke="none" stroke-width="1" />
<polygon points="188.55,278.1 190.75,274.8 198.65,274.8 200.85,278.1 198.65,281.4 190.75,281.4" stroke="#a848b8" stroke-width="1.1" fill="#fff" />
<rect x="192.3" y="275.7" width="4.8" height="4.8" fill="#6a0a80" stroke="none" stroke-width="1" />
<polygon points="215.35,293 217.55,289.7 225.45,289.7 227.65,293 225.45,296.3 217.55,296.3" stroke="#a848b8" stroke-width="1.1" fill="#fff" />
<rect x="219.1" y="290.6" width="4.8" height="4.8" fill="#6a0a80" stroke="none" stroke-width="1" />
<polygon points="198.05,313.2 200.25,309.9 208.15,309.9 210.35,313.2 208.15,316.5 200.25,316.5" stroke="#a848b8" stroke-width="1.1" fill="#fff" />
<rect x="201.8" y="310.8" width="4.8" height="4.8" fill="#6a0a80" stroke="none" stroke-width="1" />
<polygon points="170.25,336.8 172.45,333.5 180.35,333.5 182.55,336.8 180.35,340.1 172.45,340.1" stroke="#a848b8" stroke-width="1.1" fill="#fff" />
<rect x="174" y="334.4" width="4.8" height="4.8" fill="#6a0a80" stroke="none" stroke-width="1" />
<polygon points="170.25,367.8 172.45,364.5 180.35,364.5 182.55,367.8 180.35,371.1 172.45,371.1" stroke="#a848b8" stroke-width="1.1" fill="#fff" />
<rect x="174" y="365.4" width="4.8" height="4.8" fill="#6a0a80" stroke="none" stroke-width="1" />
<polygon points="142.95,407.3 145.15,404 153.05,404 155.25,407.3 153.05,410.6 145.15,410.6" stroke="#a848b8" stroke-width="1.1" fill="#fff" />
<rect x="146.7" y="404.9" width="4.8" height="4.8" fill="#6a0a80" stroke="none" stroke-width="1" />
<polygon points="191.85,410.2 194.05,406.9 201.95,406.9 204.15,410.2 201.95,413.5 194.05,413.5" stroke="#a848b8" stroke-width="1.1" fill="#fff" />
<rect x="195.6" y="407.8" width="4.8" height="4.8" fill="#6a0a80" stroke="none" stroke-width="1" />
<polygon points="221.35,407.3 223.55,404 231.45,404 233.65,407.3 231.45,410.6 223.55,410.6" stroke="#a848b8" stroke-width="1.1" fill="#fff" />
<rect x="225.1" y="404.9" width="4.8" height="4.8" fill="#6a0a80" stroke="none" stroke-width="1" />
<line x1="91.9" y1="268" x2="91.9" y2="436" stroke="#f08a8a" stroke-width="1.1" />
<line x1="101.4" y1="268" x2="101.4" y2="436" stroke="#f08a8a" stroke-width="1.1" />
<line x1="88" y1="268" x2="112" y2="268" stroke="#f08a8a" stroke-width="1" />
<line x1="88" y1="436" x2="112" y2="436" stroke="#f08a8a" stroke-width="1" />
<line x1="98" y1="285.8" x2="112" y2="285.8" stroke="#f08a8a" stroke-width="1" />
<line x1="98" y1="323.6" x2="112" y2="323.6" stroke="#f08a8a" stroke-width="1" />
<line x1="98" y1="351" x2="112" y2="351" stroke="#f08a8a" stroke-width="1" />
<line x1="98" y1="418.8" x2="112" y2="418.8" stroke="#f08a8a" stroke-width="1" />
<circle cx="101.4" cy="268" r="0.6" fill="#111" stroke="none" stroke-width="1" />
<circle cx="101.4" cy="285.8" r="0.6" fill="#111" stroke="none" stroke-width="1" />
<circle cx="101.4" cy="323.6" r="0.6" fill="#111" stroke="none" stroke-width="1" />
<circle cx="101.4" cy="351" r="0.6" fill="#111" stroke="none" stroke-width="1" />
<circle cx="101.4" cy="418.8" r="0.6" fill="#111" stroke="none" stroke-width="1" />
<circle cx="101.4" cy="436" r="0.6" fill="#111" stroke="none" stroke-width="1" />
<text x="89.8" y="353.8" font-size="5.8" fill="#111" text-anchor="middle" transform="rotate(-90 89.8 353.8)" font-weight="bold">760</text>
<text x="99.3" y="276.9" font-size="5.8" fill="#111" text-anchor="middle" transform="rotate(-90 99.3 276.9)" font-weight="bold">90</text>
<text x="99.3" y="304.7" font-size="5.8" fill="#111" text-anchor="middle" transform="rotate(-90 99.3 304.7)" font-weight="bold">170</text>
<text x="99.3" y="337.3" font-size="5.8" fill="#111" text-anchor="middle" transform="rotate(-90 99.3 337.3)" font-weight="bold">130</text>
<text x="99.3" y="385" font-size="5.8" fill="#111" text-anchor="middle" transform="rotate(-90 99.3 385)" font-weight="bold">300</text>
<text x="99.3" y="427.4" font-size="5.8" fill="#111" text-anchor="middle" transform="rotate(-90 99.3 427.4)" font-weight="bold">80</text>
<line x1="258.4" y1="285.2" x2="258.4" y2="418.8" stroke="#f08a8a" stroke-width="1.1" />
<line x1="266.2" y1="285.2" x2="266.2" y2="418.8" stroke="#f08a8a" stroke-width="1.1" />
<line x1="248.6" y1="285.2" x2="274" y2="285.2" stroke="#f08a8a" stroke-width="1" />
<line x1="248.6" y1="418.8" x2="274" y2="418.8" stroke="#f08a8a" stroke-width="1" />
<line x1="248.6" y1="351.4" x2="262" y2="351.4" stroke="#f08a8a" stroke-width="1" />
<text x="256.3" y="319" font-size="5.8" fill="#111" text-anchor="middle" transform="rotate(-90 256.3 319)" font-weight="bold">510</text>
<text x="256.3" y="385" font-size="5.8" fill="#111" text-anchor="middle" transform="rotate(-90 256.3 385)" font-weight="bold">300</text>
<text x="264.1" y="353.4" font-size="5.8" fill="#111" text-anchor="middle" transform="rotate(-90 264.1 353.4)" font-weight="bold">600</text>
<polygon points="283.1,285.4 280.3,290.25 274.7,290.25 271.9,285.4 274.7,280.55 280.3,280.55" stroke="#b0b030" stroke-width="1" fill="#fbfbc8" />
<circle cx="277.5" cy="285.4" r="1.2" fill="#eded70" stroke="none" stroke-width="1" />
<line x1="271.9" y1="285.4" x2="267.5" y2="285.4" stroke="#b0b030" stroke-width="1" />
<polygon points="285.3,352.9 282.5,357.75 276.9,357.75 274.1,352.9 276.9,348.05 282.5,348.05" stroke="#b0b030" stroke-width="1" fill="#fbfbc8" />
<circle cx="279.7" cy="352.9" r="1.2" fill="#eded70" stroke="none" stroke-width="1" />
<line x1="274.1" y1="352.9" x2="269.7" y2="352.9" stroke="#b0b030" stroke-width="1" />
<polygon points="283.1,419 280.3,423.85 274.7,423.85 271.9,419 274.7,414.15 280.3,414.15" stroke="#b0b030" stroke-width="1" fill="#fbfbc8" />
<circle cx="277.5" cy="419" r="1.2" fill="#eded70" stroke="none" stroke-width="1" />
<line x1="271.9" y1="419" x2="267.5" y2="419" stroke="#b0b030" stroke-width="1" />
<line x1="115.4" y1="448" x2="248.6" y2="448" stroke="#f08a8a" stroke-width="1.1" />
<line x1="115.4" y1="436" x2="115.4" y2="451" stroke="#f08a8a" stroke-width="1" />
<line x1="182.3" y1="436" x2="182.3" y2="451" stroke="#f08a8a" stroke-width="1" />
<line x1="248.6" y1="436" x2="248.6" y2="451" stroke="#f08a8a" stroke-width="1" />
<text x="149.1" y="445.5" font-size="5.8" fill="#111" text-anchor="middle" font-weight="bold">300</text>
<text x="215.2" y="445.5" font-size="5.8" fill="#111" text-anchor="middle" font-weight="bold">300</text>
<line x1="114.9" y1="471.2" x2="135.9" y2="471.2" stroke="#222" stroke-width="1" />
<line x1="125.4" y1="460.2" x2="125.4" y2="482.2" stroke="#222" stroke-width="1" />
<circle cx="125.4" cy="471.2" r="5.9" fill="#fff" stroke="#111" stroke-width="1.6" />
<circle cx="125.4" cy="471.2" r="3.5" fill="#111" stroke="none" stroke-width="1" />
<line x1="131.4" y1="471.2" x2="240" y2="471.2" stroke="#222" stroke-width="1.6" />
<text transform="translate(132.7 468.6) scale(0.68 1)" x="0" y="0" font-size="10.3" fill="#3e3e3e" font-weight="normal" textLength="77.5" lengthAdjust="spacing">DENAH KUSEN</text>
<polygon points="320.9,254.6 325.75,257.4 325.75,263 320.9,265.8 316.05,263 316.05,257.4" stroke="#b8b400" stroke-width="1" fill="#fbfbc8" />
<line x1="320.9" y1="265.8" x2="320.9" y2="271.8" stroke="#b8b400" stroke-width="1" />
<circle cx="320.9" cy="260.2" r="1.2" fill="#eded70" stroke="none" stroke-width="1" />
<line x1="320.9" y1="271" x2="320.9" y2="286" stroke="#e8202a" stroke-width="1" />
<line x1="324.8" y1="279" x2="324.8" y2="286" stroke="#e8202a" stroke-width="1" />
<line x1="391.4" y1="279" x2="391.4" y2="294.5" stroke="#e8202a" stroke-width="1" />
<line x1="396" y1="271" x2="396" y2="294.5" stroke="#e8202a" stroke-width="1" />
<line x1="320.9" y1="272.6" x2="396" y2="272.6" stroke="#3a3a3a" stroke-width="1.32" />
<rect x="353.35" y="269.8" width="10.2" height="5.6" fill="#fff" stroke="none" stroke-width="1" />
<text x="358.45" y="274.5" font-size="5.5" fill="#b8b400" text-anchor="middle" font-weight="bold">170</text>
<line x1="324.8" y1="280.9" x2="391.4" y2="280.9" stroke="#3a3a3a" stroke-width="1.32" />
<rect x="353" y="278.1" width="10.2" height="5.6" fill="#fff" stroke="none" stroke-width="1" />
<text x="358.1" y="282.8" font-size="5.5" fill="#b8b400" text-anchor="middle" font-weight="bold">150</text>
<line x1="325.9" y1="352.3" x2="325.9" y2="408.2" stroke="#2e8080" stroke-width="1.1" />
<line x1="329.5" y1="352.3" x2="329.5" y2="408.2" stroke="#2e8080" stroke-width="1.1" />
<line x1="338.5" y1="352.3" x2="338.5" y2="408.2" stroke="#2e8080" stroke-width="1.1" />
<line x1="347.6" y1="352.3" x2="347.6" y2="408.2" stroke="#2e8080" stroke-width="1.1" />
<line x1="356.1" y1="352.3" x2="356.1" y2="408.2" stroke="#2e8080" stroke-width="1.1" />
<line x1="325.9" y1="352.3" x2="356.1" y2="352.3" stroke="#2e8080" stroke-width="1.1" />
<line x1="325.9" y1="363.8" x2="356.1" y2="363.8" stroke="#2e8080" stroke-width="1.1" />
<line x1="325.9" y1="375.3" x2="356.1" y2="375.3" stroke="#2e8080" stroke-width="1.1" />
<line x1="325.9" y1="386.3" x2="356.1" y2="386.3" stroke="#2e8080" stroke-width="1.1" />
<line x1="325.9" y1="397.5" x2="356.1" y2="397.5" stroke="#2e8080" stroke-width="1.1" />
<line x1="325.9" y1="408.2" x2="356.1" y2="408.2" stroke="#2e8080" stroke-width="1.1" />
<line x1="325.9" y1="386.3" x2="356.1" y2="386.3" stroke="#222" stroke-width="1.1" />
<rect x="325.9" y="357.3" width="29.1" height="4.9" fill="#5a5a5a" stroke="none" stroke-width="1" />
<line x1="338.7" y1="299.7" x2="338.7" y2="352.5" stroke="#333" stroke-width="1" />
<line x1="378.8" y1="299.7" x2="378.8" y2="419" stroke="#444" stroke-width="1" />
<rect x="320.3" y="286.2" width="5.6" height="13.5" fill="#2a2a2a" stroke="none" stroke-width="1" />
<rect x="321.5" y="287.7" width="3.2" height="10.5" fill="#fff" stroke="none" stroke-width="1" />
<rect x="320.3" y="301.2" width="5.6" height="23.4" fill="#b8dcfa" stroke="none" stroke-width="1" />
<line x1="321" y1="301.2" x2="321" y2="324.6" stroke="#3c96e6" stroke-width="1.4" />
<line x1="325.2" y1="301.2" x2="325.2" y2="324.6" stroke="#3c96e6" stroke-width="1.4" />
<rect x="320.3" y="324.6" width="5.6" height="94.3" fill="#54463f" stroke="#2e2624" stroke-width="1.1" />
<clipPath id="c656"><rect x="321.3" y="325.2" width="3.6" height="93.1"/></clipPath>
<path clip-path="url(#c656)" d="M320.3 324.6L325.9 317.32M320.3 330.2L325.9 322.92M320.3 335.8L325.9 328.52M320.3 341.4L325.9 334.12M320.3 347L325.9 339.72M320.3 352.6L325.9 345.32M320.3 358.2L325.9 350.92M320.3 363.8L325.9 356.52M320.3 369.4L325.9 362.12M320.3 375L325.9 367.72M320.3 380.6L325.9 373.32M320.3 386.2L325.9 378.92M320.3 391.8L325.9 384.52M320.3 397.4L325.9 390.12M320.3 403L325.9 395.72M320.3 408.6L325.9 401.32M320.3 414.2L325.9 406.92M320.3 419.8L325.9 412.52M320.3 425.4L325.9 418.12M320.3 431L325.9 423.72" stroke="#fff" stroke-width="1.1" fill="none"/>
<rect x="391.4" y="299.7" width="5.8" height="119.2" fill="#54463f" stroke="#2e2624" stroke-width="1.1" />
<clipPath id="c659"><rect x="392.4" y="300.3" width="3.8" height="118"/></clipPath>
<path clip-path="url(#c659)" d="M391.4 299.7L397.2 292.16M391.4 305.3L397.2 297.76M391.4 310.9L397.2 303.36M391.4 316.5L397.2 308.96M391.4 322.1L397.2 314.56M391.4 327.7L397.2 320.16M391.4 333.3L397.2 325.76M391.4 338.9L397.2 331.36M391.4 344.5L397.2 336.96M391.4 350.1L397.2 342.56M391.4 355.7L397.2 348.16M391.4 361.3L397.2 353.76M391.4 366.9L397.2 359.36M391.4 372.5L397.2 364.96M391.4 378.1L397.2 370.56M391.4 383.7L397.2 376.16M391.4 389.3L397.2 381.76M391.4 394.9L397.2 387.36M391.4 400.5L397.2 392.96M391.4 406.1L397.2 398.56M391.4 411.7L397.2 404.16M391.4 417.3L397.2 409.76M391.4 422.9L397.2 415.36M391.4 428.5L397.2 420.96" stroke="#fff" stroke-width="1.1" fill="none"/>
<rect x="391.4" y="294.5" width="5.8" height="5.2" fill="#666" stroke="#333" stroke-width="0.8" />
<line x1="325.9" y1="298.5" x2="411.8" y2="298.5" stroke="#3c3c3c" stroke-width="2.4" />
<rect x="356.1" y="323.8" width="35.5" height="96.5" fill="none" stroke="#3c96e6" stroke-width="1.6" />
<rect x="358.6" y="326.3" width="30.8" height="92.2" fill="none" stroke="#3c96e6" stroke-width="0.9" />
<polyline points="359.5,328 389.4,372.9 362,417.5" stroke="#777" stroke-width="0.9" fill="none" />
<circle cx="361.5" cy="374.2" r="1.3" fill="none" stroke="#3c96e6" stroke-width="0.9" />
<rect x="370.3" y="352.4" width="8.3" height="1.6" fill="#e8202a" stroke="none" stroke-width="1" />
<text x="380.6" y="326.1" font-size="5.5" fill="#b8b400" text-anchor="middle" transform="rotate(-90 380.6 326.1)" font-weight="bold">20</text>
<text x="380.6" y="386.8" font-size="5.5" fill="#b8b400" text-anchor="middle" transform="rotate(-90 380.6 386.8)" font-weight="bold">210</text>
<line x1="308" y1="299.4" x2="318" y2="299.4" stroke="#e8202a" stroke-width="1.1" />
<line x1="308" y1="410.3" x2="320" y2="410.3" stroke="#e8202a" stroke-width="1.1" />
<line x1="308" y1="419.7" x2="320" y2="419.7" stroke="#e8202a" stroke-width="1.1" />
<line x1="311.4" y1="299.4" x2="311.4" y2="419.7" stroke="#444" stroke-width="1.1" />
<text x="313.4" y="355.6" font-size="5.5" fill="#b8b400" text-anchor="middle" transform="rotate(-90 313.4 355.6)" font-weight="bold">200</text>
<text x="313.4" y="414.8" font-size="5.5" fill="#b8b400" text-anchor="middle" transform="rotate(-90 313.4 414.8)" font-weight="bold">10</text>
<line x1="412" y1="299.4" x2="422" y2="299.4" stroke="#e8202a" stroke-width="1.1" />
<line x1="410" y1="417.2" x2="422" y2="417.2" stroke="#e8202a" stroke-width="1.1" />
<line x1="418.8" y1="299.4" x2="418.8" y2="417.2" stroke="#3a3a3a" stroke-width="1.32" />
<rect x="416" y="353.2" width="5.6" height="10.2" fill="#fff" stroke="none" stroke-width="1" />
<text x="420.7" y="358.3" font-size="5.5" fill="#b8b400" text-anchor="middle" transform="rotate(-90 420.7 358.3)" font-weight="bold">265</text>
<rect x="325.9" y="412.3" width="85.6" height="19.7" fill="#d8d8d8" stroke="none" stroke-width="1" />
<path d="M325.9 412.3V432M327.6 412.3V432M329.3 412.3V432M331 412.3V432M332.7 412.3V432M334.4 412.3V432M336.1 412.3V432M337.8 412.3V432M339.5 412.3V432M341.2 412.3V432M342.9 412.3V432M344.6 412.3V432M346.3 412.3V432M348 412.3V432M349.7 412.3V432M351.4 412.3V432M353.1 412.3V432M354.8 412.3V432M356.5 412.3V432M358.2 412.3V432M359.9 412.3V432M361.6 412.3V432M363.3 412.3V432M365 412.3V432M366.7 412.3V432M368.4 412.3V432M370.1 412.3V432M371.8 412.3V432M373.5 412.3V432M375.2 412.3V432M376.9 412.3V432M378.6 412.3V432M380.3 412.3V432M382 412.3V432M383.7 412.3V432M385.4 412.3V432M387.1 412.3V432M388.8 412.3V432M390.5 412.3V432M392.2 412.3V432M393.9 412.3V432M395.6 412.3V432M397.3 412.3V432M399 412.3V432M400.7 412.3V432M402.4 412.3V432M404.1 412.3V432M405.8 412.3V432M407.5 412.3V432M409.2 412.3V432M410.9 412.3V432" stroke="#a0a0a0" stroke-width="0.8" fill="none" />
<line x1="325.9" y1="412.3" x2="411.5" y2="412.3" stroke="#222" stroke-width="1.4" />
<rect x="355.8" y="412.3" width="16.4" height="4.1" fill="#555" stroke="none" stroke-width="1" />
<rect x="374.5" y="412.3" width="1.5" height="4.1" fill="#555" stroke="none" stroke-width="1" />
<rect x="396" y="411.5" width="16.5" height="4.1" fill="#555" stroke="none" stroke-width="1" />
<rect x="416.5" y="411.5" width="3" height="4.1" fill="#555" stroke="none" stroke-width="1" />
<rect x="349.2" y="413" width="5" height="19" fill="#54463f" stroke="#2e2624" stroke-width="1.1" />
<clipPath id="c689"><rect x="350.2" y="413.6" width="3" height="17.8"/></clipPath>
<path clip-path="url(#c689)" d="M349.2 413L354.2 406.5M349.2 418.6L354.2 412.1M349.2 424.2L354.2 417.7M349.2 429.8L354.2 423.3M349.2 435.4L354.2 428.9M349.2 441L354.2 434.5" stroke="#fff" stroke-width="1.1" fill="none"/>
<rect x="320.5" y="418.9" width="5.7" height="13.1" fill="#fff" stroke="#222" stroke-width="1.2" />
<rect x="390.5" y="421.5" width="6.5" height="10.5" fill="#888" stroke="#333" stroke-width="0.8" />
<path d="M330.5 409 Q340 407 349 409 Q347 417 341 418 Q334 417 330.5 409 Z" stroke="#2a2a9a" stroke-width="1.4" fill="#fff" />
<path d="M340 417 V424 Q343 427 346 424 V420" stroke="#2a2a9a" stroke-width="1.6" fill="none" />
<line x1="302.4" y1="432.5" x2="411.7" y2="432.5" stroke="#8a5a50" stroke-width="1.2" />
<line x1="412.5" y1="425" x2="412.5" y2="437" stroke="#777" stroke-width="0.8" />
<clipPath id="fd697"><polygon points="319.6,432.5 327,432.5 336.4,455 310.2,455"/></clipPath>
<polygon points="319.6,432.5 327,432.5 336.4,455 310.2,455" stroke="none" stroke-width="1" fill="#4a4a4a" />
<g clip-path="url(#fd697)" fill="#f4f4f4" stroke="#555" stroke-width="0.6"><ellipse cx="319.75" cy="434.31" rx="2.83" ry="1.38" transform="rotate(-21 319.05 434.3)"/><ellipse cx="324.51" cy="434.43" rx="2.34" ry="1.43" transform="rotate(-5 324.12 434.3)"/><ellipse cx="329.03" cy="434.39" rx="2.2" ry="1.54" transform="rotate(14 328.83 434.3)"/><ellipse cx="319.64" cy="438.05" rx="1.92" ry="1.57" transform="rotate(8 319.07 437.6)"/><ellipse cx="324.34" cy="437.81" rx="2.24" ry="1.8" transform="rotate(27 323.86 437.6)"/><ellipse cx="328.55" cy="437.76" rx="2.07" ry="1.6" transform="rotate(-27 328.46 437.6)"/><ellipse cx="316.66" cy="441.26" rx="2.72" ry="1.64" transform="rotate(29 316.29 440.9)"/><ellipse cx="322.12" cy="441.02" rx="2.2" ry="1.78" transform="rotate(-20 321.41 440.9)"/><ellipse cx="326.63" cy="441.45" rx="2.05" ry="1.61" transform="rotate(9 326.09 440.9)"/><ellipse cx="331.34" cy="441.03" rx="2.01" ry="1.62" transform="rotate(-17 330.64 440.9)"/><ellipse cx="316.36" cy="444.21" rx="2.56" ry="1.48" transform="rotate(17 316.31 444.2)"/><ellipse cx="321.98" cy="444.76" rx="2.36" ry="1.46" transform="rotate(-29 321.4 444.2)"/><ellipse cx="326.54" cy="444.4" rx="1.92" ry="1.83" transform="rotate(17 326.1 444.2)"/><ellipse cx="330.76" cy="444.4" rx="2.87" ry="1.6" transform="rotate(-10 330.56 444.2)"/><ellipse cx="313.54" cy="447.76" rx="2.45" ry="1.39" transform="rotate(30 313.53 447.5)"/><ellipse cx="318.2" cy="448.01" rx="2.57" ry="1.61" transform="rotate(1 318.07 447.5)"/><ellipse cx="323.18" cy="447.71" rx="2.5" ry="1.64" transform="rotate(-12 322.97 447.5)"/><ellipse cx="327.91" cy="447.86" rx="1.97" ry="1.79" transform="rotate(-6 327.88 447.5)"/><ellipse cx="332.32" cy="448.1" rx="1.99" ry="1.42" transform="rotate(-16 332.3 447.5)"/><ellipse cx="313.84" cy="451.14" rx="2.29" ry="1.86" transform="rotate(-25 313.55 450.8)"/><ellipse cx="318.85" cy="451.18" rx="2.04" ry="1.71" transform="rotate(-15 318.15 450.8)"/><ellipse cx="323.33" cy="451.28" rx="2.78" ry="1.74" transform="rotate(2 323.22 450.8)"/><ellipse cx="328.43" cy="451.28" rx="2.8" ry="1.79" transform="rotate(2 327.81 450.8)"/><ellipse cx="332.84" cy="451.27" rx="2.54" ry="1.45" transform="rotate(-24 332.52 450.8)"/><ellipse cx="311.47" cy="454.5" rx="2.41" ry="1.57" transform="rotate(4 310.78 454.1)"/><ellipse cx="316.13" cy="454.28" rx="2.15" ry="1.85" transform="rotate(28 315.55 454.1)"/><ellipse cx="320.57" cy="454.69" rx="2.49" ry="1.75" transform="rotate(-16 319.96 454.1)"/><ellipse cx="325.56" cy="454.46" rx="2.12" ry="1.69" transform="rotate(20 324.82 454.1)"/><ellipse cx="329.99" cy="454.35" rx="1.92" ry="1.6" transform="rotate(28 329.71 454.1)"/><ellipse cx="334.7" cy="454.16" rx="2.52" ry="1.36" transform="rotate(10 334.21 454.1)"/></g>
<polygon points="319.6,432.5 327,432.5 336.4,455 310.2,455" stroke="#2a2a2a" stroke-width="1.1" fill="none" />
<clipPath id="fd701"><polygon points="390.3,432.5 397.7,432.5 407.6,455 380.4,455"/></clipPath>
<polygon points="390.3,432.5 397.7,432.5 407.6,455 380.4,455" stroke="none" stroke-width="1" fill="#4a4a4a" />
<g clip-path="url(#fd701)" fill="#f4f4f4" stroke="#555" stroke-width="0.6"><ellipse cx="389.77" cy="434.39" rx="2.44" ry="1.64" transform="rotate(25 389.71 434.3)"/><ellipse cx="395.07" cy="434.75" rx="2.83" ry="1.85" transform="rotate(27 394.86 434.3)"/><ellipse cx="400.42" cy="434.85" rx="2.14" ry="1.61" transform="rotate(-28 399.88 434.3)"/><ellipse cx="389.95" cy="437.61" rx="2.14" ry="1.88" transform="rotate(-11 389.66 437.6)"/><ellipse cx="394.94" cy="437.76" rx="2.31" ry="1.37" transform="rotate(-22 394.53 437.6)"/><ellipse cx="399.63" cy="437.75" rx="2.04" ry="1.88" transform="rotate(-18 399.12 437.6)"/><ellipse cx="387.02" cy="441.19" rx="2.22" ry="1.47" transform="rotate(9 386.8 440.9)"/><ellipse cx="392.06" cy="441.34" rx="2.41" ry="1.66" transform="rotate(-27 391.47 440.9)"/><ellipse cx="397.1" cy="441.06" rx="2.35" ry="1.7" transform="rotate(12 396.63 440.9)"/><ellipse cx="401.72" cy="440.96" rx="2.29" ry="1.83" transform="rotate(24 401.24 440.9)"/><ellipse cx="386.97" cy="444.34" rx="2.88" ry="1.8" transform="rotate(-2 386.75 444.2)"/><ellipse cx="392.55" cy="444.27" rx="2.85" ry="1.89" transform="rotate(-3 391.83 444.2)"/><ellipse cx="397.66" cy="444.77" rx="2.23" ry="1.86" transform="rotate(9 396.89 444.2)"/><ellipse cx="401.95" cy="444.79" rx="2.61" ry="1.7" transform="rotate(-12 401.51 444.2)"/><ellipse cx="384.32" cy="447.69" rx="2.34" ry="1.52" transform="rotate(27 383.9 447.5)"/><ellipse cx="389.32" cy="447.5" rx="2.36" ry="1.7" transform="rotate(-30 388.87 447.5)"/><ellipse cx="394.32" cy="447.56" rx="1.99" ry="1.85" transform="rotate(1 393.94 447.5)"/><ellipse cx="398.78" cy="447.53" rx="2.89" ry="1.87" transform="rotate(20 398.48 447.5)"/><ellipse cx="403.96" cy="447.78" rx="2.66" ry="1.39" transform="rotate(11 403.2 447.5)"/><ellipse cx="384.65" cy="451.01" rx="2.24" ry="1.82" transform="rotate(-11 383.85 450.8)"/><ellipse cx="389.57" cy="450.84" rx="2.52" ry="1.66" transform="rotate(14 388.95 450.8)"/><ellipse cx="393.96" cy="451.06" rx="2.21" ry="1.36" transform="rotate(-3 393.92 450.8)"/><ellipse cx="399.12" cy="451.28" rx="2.64" ry="1.3" transform="rotate(15 398.78 450.8)"/><ellipse cx="404.16" cy="450.95" rx="1.94" ry="1.35" transform="rotate(-14 403.51 450.8)"/><ellipse cx="381.21" cy="454.24" rx="2.43" ry="1.37" transform="rotate(-12 381 454.1)"/><ellipse cx="386.43" cy="454.33" rx="2.85" ry="1.64" transform="rotate(-13 385.88 454.1)"/><ellipse cx="391.72" cy="454.14" rx="2.46" ry="1.4" transform="rotate(-10 391.02 454.1)"/><ellipse cx="396.01" cy="454.5" rx="2.1" ry="1.39" transform="rotate(12 395.86 454.1)"/><ellipse cx="401.18" cy="454.22" rx="2.2" ry="1.48" transform="rotate(10 400.9 454.1)"/><ellipse cx="405.86" cy="454.69" rx="2.28" ry="1.33" transform="rotate(17 405.31 454.1)"/></g>
<polygon points="390.3,432.5 397.7,432.5 407.6,455 380.4,455" stroke="#2a2a2a" stroke-width="1.1" fill="none" />
<line x1="305.5" y1="476" x2="326.5" y2="476" stroke="#222" stroke-width="1" />
<line x1="316" y1="465" x2="316" y2="487" stroke="#222" stroke-width="1" />
<circle cx="316" cy="476" r="5.9" fill="#fff" stroke="#111" stroke-width="1.6" />
<circle cx="316" cy="476" r="3.5" fill="#111" stroke="none" stroke-width="1" />
<line x1="322" y1="476" x2="434" y2="476" stroke="#222" stroke-width="1.6" />
<rect x="415" y="476.8" width="17" height="4.2" fill="#4a4a4a" stroke="none" stroke-width="1" />
<text transform="translate(323.8 474) scale(0.68 1)" x="0" y="0" font-size="10.3" fill="#3e3e3e" font-weight="normal" textLength="71.47" lengthAdjust="spacing">POTONGAN C</text>
<polygon points="574,254.6 578.85,257.4 578.85,263 574,265.8 569.15,263 569.15,257.4" stroke="#b8b400" stroke-width="1" fill="#fbfbc8" />
<line x1="574" y1="265.8" x2="574" y2="271.8" stroke="#b8b400" stroke-width="1" />
<circle cx="574" cy="260.2" r="1.2" fill="#eded70" stroke="none" stroke-width="1" />
<line x1="498.6" y1="271" x2="498.6" y2="294.5" stroke="#e8202a" stroke-width="1" />
<line x1="502.9" y1="279" x2="502.9" y2="294.5" stroke="#e8202a" stroke-width="1" />
<line x1="569.8" y1="279" x2="569.8" y2="286" stroke="#e8202a" stroke-width="1" />
<line x1="574" y1="271" x2="574" y2="286" stroke="#e8202a" stroke-width="1" />
<line x1="498.6" y1="272.6" x2="574" y2="272.6" stroke="#3a3a3a" stroke-width="1.32" />
<rect x="531.2" y="269.8" width="10.2" height="5.6" fill="#fff" stroke="none" stroke-width="1" />
<text x="536.3" y="274.5" font-size="5.5" fill="#b8b400" text-anchor="middle" font-weight="bold">170</text>
<line x1="502.9" y1="280.9" x2="569.8" y2="280.9" stroke="#3a3a3a" stroke-width="1.32" />
<rect x="531.25" y="278.1" width="10.2" height="5.6" fill="#fff" stroke="none" stroke-width="1" />
<text x="536.35" y="282.8" font-size="5.5" fill="#b8b400" text-anchor="middle" font-weight="bold">150</text>
<line x1="503.7" y1="352.8" x2="503.7" y2="418.9" stroke="#2e8080" stroke-width="1.1" />
<line x1="512.4" y1="352.8" x2="512.4" y2="418.9" stroke="#2e8080" stroke-width="1.1" />
<line x1="520.9" y1="352.8" x2="520.9" y2="418.9" stroke="#2e8080" stroke-width="1.1" />
<line x1="530" y1="352.8" x2="530" y2="418.9" stroke="#2e8080" stroke-width="1.1" />
<line x1="538.7" y1="352.8" x2="538.7" y2="418.9" stroke="#2e8080" stroke-width="1.1" />
<line x1="547.6" y1="352.8" x2="547.6" y2="418.9" stroke="#2e8080" stroke-width="1.1" />
<line x1="556.3" y1="352.8" x2="556.3" y2="418.9" stroke="#2e8080" stroke-width="1.1" />
<line x1="565.3" y1="352.8" x2="565.3" y2="418.9" stroke="#2e8080" stroke-width="1.1" />
<line x1="569.4" y1="352.8" x2="569.4" y2="418.9" stroke="#2e8080" stroke-width="1.1" />
<line x1="503.7" y1="352.8" x2="569.4" y2="352.8" stroke="#2e8080" stroke-width="1.1" />
<line x1="503.7" y1="364.3" x2="569.4" y2="364.3" stroke="#2e8080" stroke-width="1.1" />
<line x1="503.7" y1="375.3" x2="569.4" y2="375.3" stroke="#2e8080" stroke-width="1.1" />
<line x1="503.7" y1="386.5" x2="569.4" y2="386.5" stroke="#2e8080" stroke-width="1.1" />
<line x1="503.7" y1="397.5" x2="569.4" y2="397.5" stroke="#2e8080" stroke-width="1.1" />
<line x1="503.7" y1="408.7" x2="569.4" y2="408.7" stroke="#2e8080" stroke-width="1.1" />
<line x1="503.7" y1="418.9" x2="569.4" y2="418.9" stroke="#2e8080" stroke-width="1.1" />
<line x1="538.2" y1="386.5" x2="569.4" y2="386.5" stroke="#222" stroke-width="1.2" />
<rect x="538.2" y="386.5" width="5.8" height="30.7" fill="#555" stroke="none" stroke-width="1" />
<rect x="538.2" y="414.8" width="31.2" height="3.2" fill="#555" stroke="none" stroke-width="1" />
<rect x="552.2" y="399.2" width="10.6" height="4.8" fill="#555" stroke="none" stroke-width="1" />
<line x1="516.2" y1="299.2" x2="516.2" y2="418.9" stroke="#333" stroke-width="1" />
<line x1="556.3" y1="299.2" x2="556.3" y2="352.8" stroke="#333" stroke-width="1" />
<text x="518.2" y="326.9" font-size="5.5" fill="#b8b400" text-anchor="middle" transform="rotate(-90 518.2 326.9)" font-weight="bold">130</text>
<text x="518.2" y="386" font-size="5.5" fill="#b8b400" text-anchor="middle" transform="rotate(-90 518.2 386)" font-weight="bold">150</text>
<rect x="513" y="352.2" width="7" height="1.6" fill="#e8202a" stroke="none" stroke-width="1" />
<rect x="497.9" y="299.5" width="5.8" height="132.5" fill="#54463f" stroke="#2e2624" stroke-width="1.1" />
<clipPath id="c751"><rect x="498.9" y="300.1" width="3.8" height="131.3"/></clipPath>
<path clip-path="url(#c751)" d="M497.9 299.5L503.7 291.96M497.9 305.1L503.7 297.56M497.9 310.7L503.7 303.16M497.9 316.3L503.7 308.76M497.9 321.9L503.7 314.36M497.9 327.5L503.7 319.96M497.9 333.1L503.7 325.56M497.9 338.7L503.7 331.16M497.9 344.3L503.7 336.76M497.9 349.9L503.7 342.36M497.9 355.5L503.7 347.96M497.9 361.1L503.7 353.56M497.9 366.7L503.7 359.16M497.9 372.3L503.7 364.76M497.9 377.9L503.7 370.36M497.9 383.5L503.7 375.96M497.9 389.1L503.7 381.56M497.9 394.7L503.7 387.16M497.9 400.3L503.7 392.76M497.9 405.9L503.7 398.36M497.9 411.5L503.7 403.96M497.9 417.1L503.7 409.56M497.9 422.7L503.7 415.16M497.9 428.3L503.7 420.76M497.9 433.9L503.7 426.36M497.9 439.5L503.7 431.96M497.9 445.1L503.7 437.56" stroke="#fff" stroke-width="1.1" fill="none"/>
<rect x="498.6" y="294.5" width="5.3" height="5" fill="#666" stroke="#333" stroke-width="0.8" />
<rect x="569.2" y="286.2" width="5.5" height="13.5" fill="#2a2a2a" stroke="none" stroke-width="1" />
<rect x="570.4" y="287.7" width="3.1" height="10.5" fill="#fff" stroke="none" stroke-width="1" />
<rect x="569.2" y="301.2" width="5.5" height="22.6" fill="#b8dcfa" stroke="none" stroke-width="1" />
<line x1="569.9" y1="301.2" x2="569.9" y2="323.8" stroke="#3c96e6" stroke-width="1.4" />
<line x1="574" y1="301.2" x2="574" y2="323.8" stroke="#3c96e6" stroke-width="1.4" />
<rect x="569.4" y="323.8" width="5.8" height="95.1" fill="#54463f" stroke="#2e2624" stroke-width="1.1" />
<clipPath id="c760"><rect x="570.4" y="324.4" width="3.8" height="93.9"/></clipPath>
<path clip-path="url(#c760)" d="M569.4 323.8L575.2 316.26M569.4 329.4L575.2 321.86M569.4 335L575.2 327.46M569.4 340.6L575.2 333.06M569.4 346.2L575.2 338.66M569.4 351.8L575.2 344.26M569.4 357.4L575.2 349.86M569.4 363L575.2 355.46M569.4 368.6L575.2 361.06M569.4 374.2L575.2 366.66M569.4 379.8L575.2 372.26M569.4 385.4L575.2 377.86M569.4 391L575.2 383.46M569.4 396.6L575.2 389.06M569.4 402.2L575.2 394.66M569.4 407.8L575.2 400.26M569.4 413.4L575.2 405.86M569.4 419L575.2 411.46M569.4 424.6L575.2 417.06M569.4 430.2L575.2 422.66" stroke="#fff" stroke-width="1.1" fill="none"/>
<rect x="569.4" y="418.9" width="5.8" height="13.1" fill="#fff" stroke="#222" stroke-width="1.2" />
<line x1="482.8" y1="299" x2="569.5" y2="299" stroke="#3c3c3c" stroke-width="2.4" />
<rect x="505.4" y="344.2" width="29.4" height="3.4" fill="#5a5a5a" stroke="none" stroke-width="1" />
<rect x="532.5" y="357" width="28.7" height="3.6" fill="#5a5a5a" stroke="none" stroke-width="1" />
<polygon points="503.5,354 507,350.5 510,354 506.5,357.5" stroke="#6a2a8a" stroke-width="1.2" fill="#c890c0" />
<rect x="519.3" y="413.1" width="13.1" height="4.1" fill="#555" stroke="none" stroke-width="1" />
<rect x="536.5" y="413.1" width="1.5" height="4.1" fill="#555" stroke="none" stroke-width="1" />
<rect x="475.8" y="410.7" width="15.6" height="4.9" fill="#555" stroke="none" stroke-width="1" />
<rect x="494.5" y="410.7" width="3.4" height="4.9" fill="#555" stroke="none" stroke-width="1" />
<line x1="473" y1="299.5" x2="481" y2="299.5" stroke="#e8202a" stroke-width="1.1" />
<line x1="473" y1="417.2" x2="481" y2="417.2" stroke="#e8202a" stroke-width="1.1" />
<line x1="475.8" y1="299.5" x2="475.8" y2="417.2" stroke="#3a3a3a" stroke-width="1.32" />
<rect x="473" y="353.25" width="5.6" height="10.2" fill="#fff" stroke="none" stroke-width="1" />
<text x="477.7" y="358.35" font-size="5.5" fill="#b8b400" text-anchor="middle" transform="rotate(-90 477.7 358.35)" font-weight="bold">260</text>
<line x1="576" y1="299.5" x2="588" y2="299.5" stroke="#e8202a" stroke-width="1.1" />
<line x1="576" y1="386.5" x2="586" y2="386.5" stroke="#e8202a" stroke-width="1.1" />
<line x1="576" y1="419.4" x2="586" y2="419.4" stroke="#e8202a" stroke-width="1.1" />
<line x1="583.6" y1="299.5" x2="583.6" y2="386.5" stroke="#3a3a3a" stroke-width="1.32" />
<rect x="580.8" y="337.9" width="5.6" height="10.2" fill="#fff" stroke="none" stroke-width="1" />
<text x="585.5" y="343" font-size="5.5" fill="#b8b400" text-anchor="middle" transform="rotate(-90 585.5 343)" font-weight="bold">150</text>
<line x1="583.6" y1="386.5" x2="583.6" y2="419.4" stroke="#3a3a3a" stroke-width="1.32" />
<rect x="580.8" y="399.55" width="5.6" height="6.8" fill="#fff" stroke="none" stroke-width="1" />
<text x="585.5" y="402.95" font-size="5.5" fill="#b8b400" text-anchor="middle" transform="rotate(-90 585.5 402.95)" font-weight="bold">80</text>
<rect x="503.7" y="418.9" width="65.7" height="13.1" fill="#d8d8d8" stroke="none" stroke-width="1" />
<path d="M503.7 418.9V432M505.4 418.9V432M507.1 418.9V432M508.8 418.9V432M510.5 418.9V432M512.2 418.9V432M513.9 418.9V432M515.6 418.9V432M517.3 418.9V432M519 418.9V432M520.7 418.9V432M522.4 418.9V432M524.1 418.9V432M525.8 418.9V432M527.5 418.9V432M529.2 418.9V432M530.9 418.9V432M532.6 418.9V432M534.3 418.9V432M536 418.9V432M537.7 418.9V432M539.4 418.9V432M541.1 418.9V432M542.8 418.9V432M544.5 418.9V432M546.2 418.9V432M547.9 418.9V432M549.6 418.9V432M551.3 418.9V432M553 418.9V432M554.7 418.9V432M556.4 418.9V432M558.1 418.9V432M559.8 418.9V432M561.5 418.9V432M563.2 418.9V432M564.9 418.9V432M566.6 418.9V432M568.3 418.9V432" stroke="#6a6a6a" stroke-width="0.8" fill="none" />
<line x1="503.7" y1="418.9" x2="569.4" y2="418.9" stroke="#222" stroke-width="1.4" />
<rect x="484" y="418" width="13.9" height="14" fill="#d8d8d8" stroke="none" stroke-width="1" />
<path d="M484 418V432M485.7 418V432M487.4 418V432M489.1 418V432M490.8 418V432M492.5 418V432M494.2 418V432M495.9 418V432M497.6 418V432" stroke="#6a6a6a" stroke-width="0.8" fill="none" />
<line x1="484" y1="418" x2="497.9" y2="418" stroke="#555" stroke-width="1.4" />
<line x1="472.5" y1="432.8" x2="608.8" y2="432.8" stroke="#8a5a50" stroke-width="1.2" />
<line x1="484" y1="410" x2="484" y2="437" stroke="#777" stroke-width="0.8" />
<line x1="481" y1="425" x2="485" y2="422.5" stroke="#777" stroke-width="0.8" />
<clipPath id="fd794"><polygon points="497.1,432.8 505.3,432.8 514.4,455 488,455"/></clipPath>
<polygon points="497.1,432.8 505.3,432.8 514.4,455 488,455" stroke="none" stroke-width="1" fill="#4a4a4a" />
<g clip-path="url(#fd794)" fill="#f4f4f4" stroke="#555" stroke-width="0.6"><ellipse cx="496.84" cy="434.96" rx="1.96" ry="1.79" transform="rotate(20 496.56 434.6)"/><ellipse cx="502.22" cy="434.75" rx="2.5" ry="1.37" transform="rotate(-19 501.49 434.6)"/><ellipse cx="506.33" cy="434.98" rx="2.9" ry="1.37" transform="rotate(1 506.04 434.6)"/><ellipse cx="497.16" cy="438.2" rx="2.86" ry="1.88" transform="rotate(12 496.61 437.9)"/><ellipse cx="501.25" cy="438.39" rx="2.12" ry="1.55" transform="rotate(5 501.06 437.9)"/><ellipse cx="506.13" cy="438.38" rx="2.82" ry="1.41" transform="rotate(8 505.99 437.9)"/><ellipse cx="494.06" cy="441.43" rx="2.84" ry="1.84" transform="rotate(28 493.86 441.2)"/><ellipse cx="498.65" cy="441.43" rx="2.06" ry="1.75" transform="rotate(11 498.57 441.2)"/><ellipse cx="504.08" cy="441.63" rx="2.65" ry="1.85" transform="rotate(7 503.29 441.2)"/><ellipse cx="508.54" cy="441.48" rx="1.9" ry="1.51" transform="rotate(-1 508.38 441.2)"/><ellipse cx="493.96" cy="444.87" rx="2.17" ry="1.36" transform="rotate(24 493.9 444.5)"/><ellipse cx="499.04" cy="444.72" rx="2.07" ry="1.87" transform="rotate(-30 498.36 444.5)"/><ellipse cx="503.95" cy="444.76" rx="2.01" ry="1.54" transform="rotate(20 503.43 444.5)"/><ellipse cx="508.07" cy="444.9" rx="2.34" ry="1.65" transform="rotate(8 507.95 444.5)"/><ellipse cx="491.73" cy="448.02" rx="2.82" ry="1.72" transform="rotate(-30 491.15 447.8)"/><ellipse cx="496.24" cy="447.81" rx="2.88" ry="1.38" transform="rotate(-12 495.71 447.8)"/><ellipse cx="500.73" cy="448.02" rx="2.71" ry="1.81" transform="rotate(27 500.59 447.8)"/><ellipse cx="505.95" cy="447.91" rx="2.52" ry="1.76" transform="rotate(13 505.4 447.8)"/><ellipse cx="510.29" cy="448.26" rx="2.03" ry="1.77" transform="rotate(22 510.05 447.8)"/><ellipse cx="491.25" cy="451.25" rx="2.34" ry="1.41" transform="rotate(-12 491.2 451.1)"/><ellipse cx="496.35" cy="451.54" rx="2.72" ry="1.46" transform="rotate(-7 495.77 451.1)"/><ellipse cx="500.74" cy="451.53" rx="2.45" ry="1.82" transform="rotate(13 500.41 451.1)"/><ellipse cx="505.67" cy="451.17" rx="2.54" ry="1.49" transform="rotate(30 505.35 451.1)"/><ellipse cx="510.3" cy="451.47" rx="2.04" ry="1.54" transform="rotate(16 510.01 451.1)"/><ellipse cx="489.07" cy="454.98" rx="2.38" ry="1.42" transform="rotate(19 488.45 454.4)"/><ellipse cx="492.96" cy="454.94" rx="2.49" ry="1.88" transform="rotate(-22 492.92 454.4)"/><ellipse cx="498.47" cy="454.69" rx="2.88" ry="1.81" transform="rotate(4 497.86 454.4)"/><ellipse cx="503.06" cy="454.67" rx="2.36" ry="1.4" transform="rotate(-4 502.38 454.4)"/><ellipse cx="507.43" cy="454.47" rx="2.62" ry="1.49" transform="rotate(17 506.96 454.4)"/><ellipse cx="512.68" cy="454.8" rx="2.2" ry="1.8" transform="rotate(-4 512.09 454.4)"/></g>
<polygon points="497.1,432.8 505.3,432.8 514.4,455 488,455" stroke="#2a2a2a" stroke-width="1.1" fill="none" />
<clipPath id="fd798"><polygon points="567,432.8 576.8,432.8 585.85,455 557.95,455"/></clipPath>
<polygon points="567,432.8 576.8,432.8 585.85,455 557.95,455" stroke="none" stroke-width="1" fill="#4a4a4a" />
<g clip-path="url(#fd798)" fill="#f4f4f4" stroke="#555" stroke-width="0.6"><ellipse cx="566.57" cy="434.72" rx="1.95" ry="1.73" transform="rotate(3 566.47 434.6)"/><ellipse cx="571.42" cy="435.14" rx="1.9" ry="1.86" transform="rotate(7 571.17 434.6)"/><ellipse cx="576.7" cy="434.89" rx="2.85" ry="1.87" transform="rotate(26 576.23 434.6)"/><ellipse cx="566.55" cy="438.31" rx="2.69" ry="1.67" transform="rotate(-21 566.52 437.9)"/><ellipse cx="571.95" cy="438.29" rx="2.26" ry="1.38" transform="rotate(-8 571.29 437.9)"/><ellipse cx="576.72" cy="438.37" rx="2.44" ry="1.38" transform="rotate(11 576.39 437.9)"/><ellipse cx="581.33" cy="437.99" rx="2.52" ry="1.68" transform="rotate(0 580.85 437.9)"/><ellipse cx="564.13" cy="441.64" rx="2.27" ry="1.62" transform="rotate(-26 563.78 441.2)"/><ellipse cx="568.54" cy="441.37" rx="2.55" ry="1.46" transform="rotate(3 568.52 441.2)"/><ellipse cx="573.54" cy="441.67" rx="2.6" ry="1.74" transform="rotate(0 573.09 441.2)"/><ellipse cx="577.77" cy="441.29" rx="2.32" ry="1.63" transform="rotate(-12 577.5 441.2)"/><ellipse cx="564.2" cy="444.53" rx="2.14" ry="1.81" transform="rotate(-27 563.83 444.5)"/><ellipse cx="569.26" cy="444.69" rx="2.05" ry="1.62" transform="rotate(19 568.8 444.5)"/><ellipse cx="573.41" cy="444.8" rx="2.49" ry="1.81" transform="rotate(15 573.35 444.5)"/><ellipse cx="578.26" cy="444.7" rx="2.71" ry="1.76" transform="rotate(23 578.17 444.5)"/><ellipse cx="583.3" cy="444.9" rx="2.89" ry="1.64" transform="rotate(25 583.19 444.5)"/><ellipse cx="561.69" cy="448.24" rx="2.68" ry="1.9" transform="rotate(0 561.09 447.8)"/><ellipse cx="566.41" cy="448.06" rx="2.04" ry="1.5" transform="rotate(-22 566.19 447.8)"/><ellipse cx="571.92" cy="448.03" rx="2.9" ry="1.84" transform="rotate(2 571.21 447.8)"/><ellipse cx="576.11" cy="447.94" rx="2.44" ry="1.42" transform="rotate(17 575.74 447.8)"/><ellipse cx="580.99" cy="447.99" rx="2.4" ry="1.44" transform="rotate(14 580.3 447.8)"/><ellipse cx="561.7" cy="451.46" rx="2.04" ry="1.86" transform="rotate(17 561.14 451.1)"/><ellipse cx="566.14" cy="451.61" rx="2.11" ry="1.86" transform="rotate(1 566.11 451.1)"/><ellipse cx="571.34" cy="451.47" rx="2.67" ry="1.32" transform="rotate(25 571.1 451.1)"/><ellipse cx="575.8" cy="451.12" rx="1.95" ry="1.31" transform="rotate(6 575.76 451.1)"/><ellipse cx="580.81" cy="451.35" rx="2.27" ry="1.52" transform="rotate(18 580.62 451.1)"/><ellipse cx="585.97" cy="451.13" rx="2.63" ry="1.79" transform="rotate(-20 585.67 451.1)"/><ellipse cx="558.92" cy="454.61" rx="2.02" ry="1.81" transform="rotate(28 558.39 454.4)"/><ellipse cx="563.66" cy="454.74" rx="2.01" ry="1.41" transform="rotate(-22 563.53 454.4)"/><ellipse cx="568.72" cy="454.44" rx="2.38" ry="1.81" transform="rotate(25 568.3 454.4)"/><ellipse cx="573.57" cy="454.61" rx="2.79" ry="1.39" transform="rotate(28 573.4 454.4)"/><ellipse cx="578.98" cy="454.93" rx="2.56" ry="1.45" transform="rotate(-5 578.34 454.4)"/><ellipse cx="583.44" cy="454.65" rx="2.76" ry="1.84" transform="rotate(6 583.38 454.4)"/></g>
<polygon points="567,432.8 576.8,432.8 585.85,455 557.95,455" stroke="#2a2a2a" stroke-width="1.1" fill="none" />
<line x1="485.5" y1="475.5" x2="506.5" y2="475.5" stroke="#222" stroke-width="1" />
<line x1="496" y1="464.5" x2="496" y2="486.5" stroke="#222" stroke-width="1" />
<circle cx="496" cy="475.5" r="5.9" fill="#fff" stroke="#111" stroke-width="1.6" />
<circle cx="496" cy="475.5" r="3.5" fill="#111" stroke="none" stroke-width="1" />
<line x1="502" y1="475.5" x2="614" y2="475.5" stroke="#222" stroke-width="1.6" />
<rect x="595" y="476.8" width="18" height="4.2" fill="#4a4a4a" stroke="none" stroke-width="1" />
<text transform="translate(503.8 474) scale(0.68 1)" x="0" y="0" font-size="10.3" fill="#3e3e3e" font-weight="normal" textLength="72.35" lengthAdjust="spacing">POTONGAN D</text>
<rect x="647.8" y="281.6" width="5.4" height="11.7" fill="#2a2a2a" stroke="none" stroke-width="1" />
<rect x="649" y="283.1" width="3" height="8.7" fill="#fff" stroke="none" stroke-width="1" />
<rect x="647.8" y="293.3" width="5.4" height="118.8" fill="#54463f" stroke="#2e2624" stroke-width="1.1" />
<clipPath id="c812"><rect x="648.8" y="293.9" width="3.4" height="117.6"/></clipPath>
<path clip-path="url(#c812)" d="M647.8 293.3L653.2 286.28M647.8 298.9L653.2 291.88M647.8 304.5L653.2 297.48M647.8 310.1L653.2 303.08M647.8 315.7L653.2 308.68M647.8 321.3L653.2 314.28M647.8 326.9L653.2 319.88M647.8 332.5L653.2 325.48M647.8 338.1L653.2 331.08M647.8 343.7L653.2 336.68M647.8 349.3L653.2 342.28M647.8 354.9L653.2 347.88M647.8 360.5L653.2 353.48M647.8 366.1L653.2 359.08M647.8 371.7L653.2 364.68M647.8 377.3L653.2 370.28M647.8 382.9L653.2 375.88M647.8 388.5L653.2 381.48M647.8 394.1L653.2 387.08M647.8 399.7L653.2 392.68M647.8 405.3L653.2 398.28M647.8 410.9L653.2 403.88M647.8 416.5L653.2 409.48M647.8 422.1L653.2 415.08" stroke="#fff" stroke-width="1.1" fill="none"/>
<rect x="647.8" y="412.1" width="5.4" height="15.2" fill="#2a2a2a" stroke="none" stroke-width="1" />
<rect x="649" y="413.6" width="3" height="12.2" fill="#fff" stroke="none" stroke-width="1" />
<line x1="646.6" y1="293.3" x2="739.8" y2="293.3" stroke="#3c3c3c" stroke-width="2.4" />
<polyline points="739.8,279.3 739.8,344.6 748,349.2 735.2,359.7 739.8,359.7 739.8,437.8" stroke="#555" stroke-width="1.1" fill="none" />
<rect x="683.9" y="344.1" width="61.8" height="5.1" fill="#555" stroke="none" stroke-width="1" />
<rect x="683.9" y="349.2" width="40.8" height="8.9" fill="#555" stroke="none" stroke-width="1" />
<rect x="724.7" y="353.9" width="10.5" height="4.2" fill="#555" stroke="none" stroke-width="1" />
<rect x="683.9" y="366" width="29.9" height="4.7" fill="#555" stroke="none" stroke-width="1" />
<polyline points="681.6,346.9 673.4,346.9 663,390" stroke="#333" stroke-width="1" fill="none" />
<rect x="653.2" y="366" width="26.1" height="46.1" fill="none" stroke="#333" stroke-width="1.1" />
<line x1="653.2" y1="366" x2="679.3" y2="366" stroke="#e8202a" stroke-width="1.1" />
<line x1="653.2" y1="377.2" x2="679.3" y2="377.2" stroke="#333" stroke-width="1.1" />
<rect x="657.8" y="371.4" width="14.5" height="2.7" fill="#555" stroke="none" stroke-width="1" />
<rect x="661.8" y="378.3" width="16.3" height="5.9" fill="none" stroke="#333" stroke-width="0.9" />
<rect x="665" y="380" width="11" height="3" fill="#555" stroke="none" stroke-width="1" />
<rect x="653.2" y="386.5" width="26.1" height="4.7" fill="#888" stroke="#333" stroke-width="0.8" />
<rect x="657.8" y="406.3" width="15.6" height="4.2" fill="#555" stroke="none" stroke-width="1" />
<polyline points="681.6,369 674.6,369 674.6,373" stroke="#e8202a" stroke-width="1.1" fill="none" />
<text x="665.3" y="368" font-size="5.5" fill="#b8b400" text-anchor="middle" font-weight="bold">60</text>
<line x1="684" y1="377.2" x2="692" y2="377.2" stroke="#e8202a" stroke-width="1.1" />
<line x1="680" y1="412.1" x2="692" y2="412.1" stroke="#e8202a" stroke-width="1.1" />
<line x1="687.4" y1="377.2" x2="687.4" y2="412.1" stroke="#3a3a3a" stroke-width="1.32" />
<rect x="684.6" y="391.25" width="5.6" height="6.8" fill="#fff" stroke="none" stroke-width="1" />
<text x="689.3" y="394.65" font-size="5.5" fill="#b8b400" text-anchor="middle" transform="rotate(-90 689.3 394.65)" font-weight="bold">85</text>
<rect x="653.2" y="412.1" width="86.6" height="15.2" fill="#d8d8d8" stroke="none" stroke-width="1" />
<path d="M653.2 412.1V427.3M654.9 412.1V427.3M656.6 412.1V427.3M658.3 412.1V427.3M660 412.1V427.3M661.7 412.1V427.3M663.4 412.1V427.3M665.1 412.1V427.3M666.8 412.1V427.3M668.5 412.1V427.3M670.2 412.1V427.3M671.9 412.1V427.3M673.6 412.1V427.3M675.3 412.1V427.3M677 412.1V427.3M678.7 412.1V427.3M680.4 412.1V427.3M682.1 412.1V427.3M683.8 412.1V427.3M685.5 412.1V427.3M687.2 412.1V427.3M688.9 412.1V427.3M690.6 412.1V427.3M692.3 412.1V427.3M694 412.1V427.3M695.7 412.1V427.3M697.4 412.1V427.3M699.1 412.1V427.3M700.8 412.1V427.3M702.5 412.1V427.3M704.2 412.1V427.3M705.9 412.1V427.3M707.6 412.1V427.3M709.3 412.1V427.3M711 412.1V427.3M712.7 412.1V427.3M714.4 412.1V427.3M716.1 412.1V427.3M717.8 412.1V427.3M719.5 412.1V427.3M721.2 412.1V427.3M722.9 412.1V427.3M724.6 412.1V427.3M726.3 412.1V427.3M728 412.1V427.3M729.7 412.1V427.3M731.4 412.1V427.3M733.1 412.1V427.3M734.8 412.1V427.3M736.5 412.1V427.3M738.2 412.1V427.3" stroke="#6a6a6a" stroke-width="0.8" fill="none" />
<line x1="653.2" y1="412.1" x2="739.8" y2="412.1" stroke="#222" stroke-width="1.4" />
<line x1="612" y1="427.5" x2="653.2" y2="427.5" stroke="#8a5a50" stroke-width="1.2" />
<line x1="637.2" y1="472.6" x2="658.2" y2="472.6" stroke="#222" stroke-width="1" />
<line x1="647.7" y1="461.6" x2="647.7" y2="483.6" stroke="#222" stroke-width="1" />
<circle cx="647.7" cy="472.6" r="5.9" fill="#fff" stroke="#111" stroke-width="1.6" />
<circle cx="647.7" cy="472.6" r="3.5" fill="#111" stroke="none" stroke-width="1" />
<line x1="653.7" y1="472.6" x2="765" y2="472.6" stroke="#222" stroke-width="1.6" />
<rect x="745" y="473.5" width="19" height="4.5" fill="#4a4a4a" stroke="none" stroke-width="1" />
<text transform="translate(654.6 470.4) scale(0.68 1)" x="0" y="0" font-size="10.3" fill="#3e3e3e" font-weight="normal" textLength="71.91" lengthAdjust="spacing">POTONGAN B</text>
<polyline points="813.5,278.2 813.5,348 806.5,351.5 818.6,359.7 813.5,359.7 813.5,437.8" stroke="#555" stroke-width="1.1" fill="none" />
<line x1="813.5" y1="292.6" x2="900.2" y2="292.6" stroke="#3c3c3c" stroke-width="2.4" />
<rect x="900.2" y="280.5" width="4.6" height="12.1" fill="#2a2a2a" stroke="none" stroke-width="1" />
<rect x="901.4" y="282" width="2.2" height="9.1" fill="#fff" stroke="none" stroke-width="1" />
<rect x="900.2" y="292.6" width="4.6" height="119.1" fill="#54463f" stroke="#2e2624" stroke-width="1.1" />
<clipPath id="c854"><rect x="901.2" y="293.2" width="2.6" height="117.9"/></clipPath>
<path clip-path="url(#c854)" d="M900.2 292.6L904.8 286.62M900.2 298.2L904.8 292.22M900.2 303.8L904.8 297.82M900.2 309.4L904.8 303.42M900.2 315L904.8 309.02M900.2 320.6L904.8 314.62M900.2 326.2L904.8 320.22M900.2 331.8L904.8 325.82M900.2 337.4L904.8 331.42M900.2 343L904.8 337.02M900.2 348.6L904.8 342.62M900.2 354.2L904.8 348.22M900.2 359.8L904.8 353.82M900.2 365.4L904.8 359.42M900.2 371L904.8 365.02M900.2 376.6L904.8 370.62M900.2 382.2L904.8 376.22M900.2 387.8L904.8 381.82M900.2 393.4L904.8 387.42M900.2 399L904.8 393.02M900.2 404.6L904.8 398.62M900.2 410.2L904.8 404.22M900.2 415.8L904.8 409.82M900.2 421.4L904.8 415.42" stroke="#fff" stroke-width="1.1" fill="none"/>
<rect x="900.2" y="411.7" width="4.6" height="14.4" fill="#fff" stroke="#222" stroke-width="1.1" />
<line x1="902.5" y1="332" x2="902.5" y2="347" stroke="#e8202a" stroke-width="1.2" />
<line x1="829.1" y1="292.6" x2="829.1" y2="316.1" stroke="#333" stroke-width="1" />
<line x1="845.4" y1="292.6" x2="845.4" y2="316.1" stroke="#333" stroke-width="1" />
<line x1="851.7" y1="292.6" x2="851.7" y2="316.1" stroke="#333" stroke-width="1" />
<rect x="829.1" y="316.1" width="40.3" height="95.6" fill="none" stroke="#8a3a22" stroke-width="1.1" />
<rect x="831.2" y="318.2" width="36.1" height="91.4" fill="none" stroke="#c06040" stroke-width="0.8" />
<rect x="835" y="321.7" width="28.4" height="41" fill="none" stroke="#8a3a22" stroke-width="1.1" />
<rect x="837" y="323.7" width="24.4" height="37" fill="none" stroke="#c06040" stroke-width="0.7" />
<rect x="835" y="366.7" width="28.4" height="40.8" fill="none" stroke="#8a3a22" stroke-width="1.1" />
<rect x="837" y="368.7" width="24.4" height="36.8" fill="none" stroke="#c06040" stroke-width="0.7" />
<line x1="851.7" y1="316.1" x2="851.7" y2="407" stroke="#666" stroke-width="0.9" />
<rect x="846" y="349.3" width="17.4" height="1.3" fill="#e8202a" stroke="none" stroke-width="1" />
<rect x="846" y="384.3" width="17.4" height="1.3" fill="#e8202a" stroke="none" stroke-width="1" />
<text x="853.7" y="322" font-size="5.5" fill="#b8b400" text-anchor="middle" transform="rotate(-90 853.7 322)" font-weight="bold">20</text>
<text x="847.4" y="352" font-size="5.5" fill="#b8b400" text-anchor="middle" transform="rotate(-90 847.4 352)" font-weight="bold">200</text>
<text x="853.7" y="367.5" font-size="5.5" fill="#b8b400" text-anchor="middle" transform="rotate(-90 853.7 367.5)" font-weight="bold">80</text>
<text x="853.7" y="398" font-size="5.5" fill="#b8b400" text-anchor="middle" transform="rotate(-90 853.7 398)" font-weight="bold">60</text>
<rect x="850.1" y="338" width="27.9" height="3.1" fill="#555" stroke="none" stroke-width="1" />
<rect x="841.9" y="405.6" width="15.9" height="3.7" fill="#6a4a40" stroke="none" stroke-width="1" />
<line x1="874.1" y1="331" x2="874.1" y2="346" stroke="#e8202a" stroke-width="1.1" />
<line x1="874.1" y1="332.4" x2="900.2" y2="332.4" stroke="#3a3a3a" stroke-width="1.32" />
<rect x="883.75" y="329.6" width="6.8" height="5.6" fill="#fff" stroke="none" stroke-width="1" />
<text x="887.15" y="334.3" font-size="5.5" fill="#b8b400" text-anchor="middle" font-weight="bold">60</text>
<polyline points="880.4,341 886.2,342.2 889,351.5" stroke="#333" stroke-width="0.9" fill="none" />
<circle cx="889" cy="351.5" r="0.9" fill="#222" stroke="none" stroke-width="1" />
<line x1="874.1" y1="349.9" x2="874.1" y2="376" stroke="#c090b0" stroke-width="1.1" />
<line x1="885" y1="349.9" x2="885" y2="376" stroke="#c090b0" stroke-width="1.1" />
<line x1="895.5" y1="349.9" x2="895.5" y2="376" stroke="#c090b0" stroke-width="1.1" />
<line x1="900.2" y1="349.9" x2="900.2" y2="376" stroke="#c090b0" stroke-width="1.1" />
<line x1="874.1" y1="349.9" x2="900.2" y2="349.9" stroke="#c090b0" stroke-width="1.1" />
<line x1="874.1" y1="359.2" x2="900.2" y2="359.2" stroke="#c090b0" stroke-width="1.1" />
<line x1="874.1" y1="367.4" x2="900.2" y2="367.4" stroke="#c090b0" stroke-width="1.1" />
<line x1="874.1" y1="376" x2="900.2" y2="376" stroke="#c090b0" stroke-width="1.1" />
<rect x="876.9" y="370.2" width="14" height="3.5" fill="#555" stroke="none" stroke-width="1" />
<rect x="874.1" y="376" width="26.1" height="35.7" fill="none" stroke="#444" stroke-width="1" />
<polygon points="874.6,383.7 900.2,383.7 900.2,387.7 887.4,387.7 887.4,392.3 900.2,392.3 900.2,406.3 874.6,406.3" stroke="none" stroke-width="1" fill="#555" />
<rect x="813.5" y="411.7" width="86.7" height="14.4" fill="#d8d8d8" stroke="none" stroke-width="1" />
<path d="M813.5 411.7V426.1M815.2 411.7V426.1M816.9 411.7V426.1M818.6 411.7V426.1M820.3 411.7V426.1M822 411.7V426.1M823.7 411.7V426.1M825.4 411.7V426.1M827.1 411.7V426.1M828.8 411.7V426.1M830.5 411.7V426.1M832.2 411.7V426.1M833.9 411.7V426.1M835.6 411.7V426.1M837.3 411.7V426.1M839 411.7V426.1M840.7 411.7V426.1M842.4 411.7V426.1M844.1 411.7V426.1M845.8 411.7V426.1M847.5 411.7V426.1M849.2 411.7V426.1M850.9 411.7V426.1M852.6 411.7V426.1M854.3 411.7V426.1M856 411.7V426.1M857.7 411.7V426.1M859.4 411.7V426.1M861.1 411.7V426.1M862.8 411.7V426.1M864.5 411.7V426.1M866.2 411.7V426.1M867.9 411.7V426.1M869.6 411.7V426.1M871.3 411.7V426.1M873 411.7V426.1M874.7 411.7V426.1M876.4 411.7V426.1M878.1 411.7V426.1M879.8 411.7V426.1M881.5 411.7V426.1M883.2 411.7V426.1M884.9 411.7V426.1M886.6 411.7V426.1M888.3 411.7V426.1M890 411.7V426.1M891.7 411.7V426.1M893.4 411.7V426.1M895.1 411.7V426.1M896.8 411.7V426.1M898.5 411.7V426.1" stroke="#6a6a6a" stroke-width="0.8" fill="none" />
<line x1="813.5" y1="411.7" x2="900.2" y2="411.7" stroke="#222" stroke-width="1.4" />
<line x1="904.8" y1="426.3" x2="916.5" y2="426.3" stroke="#8a5a50" stroke-width="1.2" />
<line x1="799.5" y1="471.6" x2="820.5" y2="471.6" stroke="#222" stroke-width="1" />
<line x1="810" y1="460.6" x2="810" y2="482.6" stroke="#222" stroke-width="1" />
<circle cx="810" cy="471.6" r="5.9" fill="#fff" stroke="#111" stroke-width="1.6" />
<circle cx="810" cy="471.6" r="3.5" fill="#111" stroke="none" stroke-width="1" />
<line x1="816" y1="471.6" x2="928" y2="471.6" stroke="#222" stroke-width="1.6" />
<rect x="907.6" y="472.6" width="18.9" height="4.1" fill="#4a4a4a" stroke="none" stroke-width="1" />
<text transform="translate(817.8 469.4) scale(0.68 1)" x="0" y="0" font-size="10.3" fill="#3e3e3e" font-weight="normal" textLength="71.76" lengthAdjust="spacing">POTONGAN C</text>
<rect x="57.9" y="506.6" width="6.1" height="119.1" fill="none" stroke="#8a3a28" stroke-width="1.3" />
<line x1="61" y1="507" x2="61" y2="625.5" stroke="#c88070" stroke-width="0.7" />
<rect x="58.3" y="508.7" width="5.3" height="1.6" fill="#8a3a28" stroke="none" stroke-width="1" />
<rect x="58.3" y="512.4" width="5.3" height="1.6" fill="#8a3a28" stroke="none" stroke-width="1" />
<rect x="58.3" y="516.1" width="5.3" height="1.6" fill="#8a3a28" stroke="none" stroke-width="1" />
<rect x="58.3" y="519.8" width="5.3" height="1.6" fill="#8a3a28" stroke="none" stroke-width="1" />
<rect x="58.3" y="523.5" width="5.3" height="1.6" fill="#8a3a28" stroke="none" stroke-width="1" />
<rect x="58.3" y="527.2" width="5.3" height="1.6" fill="#8a3a28" stroke="none" stroke-width="1" />
<line x1="33" y1="506.6" x2="57" y2="506.6" stroke="#f09090" stroke-width="0.9" />
<line x1="33" y1="625.7" x2="57" y2="625.7" stroke="#f09090" stroke-width="0.9" />
<line x1="45" y1="529.5" x2="57" y2="529.5" stroke="#f09090" stroke-width="0.9" />
<line x1="45" y1="532.2" x2="57" y2="532.2" stroke="#f09090" stroke-width="0.9" />
<line x1="39.8" y1="506.6" x2="39.8" y2="625.7" stroke="#f09090" stroke-width="1" />
<circle cx="39.8" cy="506.6" r="0.6" fill="#222" stroke="none" stroke-width="1" />
<circle cx="39.8" cy="625.7" r="0.6" fill="#222" stroke="none" stroke-width="1" />
<text x="37.8" y="566.15" font-size="4.6" fill="#111" text-anchor="middle" transform="rotate(-90 37.8 566.15)" font-weight="bold">345</text>
<line x1="48" y1="506.6" x2="48" y2="529.5" stroke="#f09090" stroke-width="1" />
<circle cx="48" cy="506.6" r="0.6" fill="#222" stroke="none" stroke-width="1" />
<circle cx="48" cy="529.5" r="0.6" fill="#222" stroke="none" stroke-width="1" />
<text x="46" y="518.05" font-size="4.6" fill="#111" text-anchor="middle" transform="rotate(-90 46 518.05)" font-weight="bold">40</text>
<line x1="48" y1="532.2" x2="48" y2="625.7" stroke="#f09090" stroke-width="1" />
<circle cx="48" cy="532.2" r="0.6" fill="#222" stroke="none" stroke-width="1" />
<circle cx="48" cy="625.7" r="0.6" fill="#222" stroke="none" stroke-width="1" />
<text x="46" y="580.5" font-size="4.6" fill="#111" text-anchor="middle" transform="rotate(-90 46 580.5)" font-weight="bold">270</text>
<rect x="78.8" y="506.6" width="38.6" height="119.1" fill="none" stroke="#8a3a28" stroke-width="1.4" />
<rect x="80.8" y="508.5" width="34.6" height="115.3" fill="none" stroke="#c88070" stroke-width="0.7" />
<line x1="80.8" y1="532.6" x2="115.4" y2="532.6" stroke="#8a3a28" stroke-width="1.2" />
<rect x="81.2" y="509.4" width="33.8" height="1.8" fill="#8a3a28" stroke="none" stroke-width="1" />
<rect x="81.2" y="513.3" width="33.8" height="1.8" fill="#8a3a28" stroke="none" stroke-width="1" />
<rect x="81.2" y="517.2" width="33.8" height="1.8" fill="#8a3a28" stroke="none" stroke-width="1" />
<rect x="81.2" y="521.1" width="33.8" height="1.8" fill="#8a3a28" stroke="none" stroke-width="1" />
<rect x="81.2" y="525" width="33.8" height="1.8" fill="#8a3a28" stroke="none" stroke-width="1" />
<rect x="81.2" y="528.9" width="33.8" height="1.8" fill="#8a3a28" stroke="none" stroke-width="1" />
<rect x="85" y="535.9" width="27.3" height="40.5" fill="none" stroke="#8a3a28" stroke-width="1.1" />
<rect x="86.8" y="537.6" width="23.7" height="37.1" fill="none" stroke="#b86a50" stroke-width="0.5" />
<rect x="85" y="579.9" width="27.3" height="41.7" fill="none" stroke="#8a3a28" stroke-width="1.1" />
<rect x="86.8" y="581.6" width="23.7" height="38.3" fill="none" stroke="#b86a50" stroke-width="0.5" />
<polyline points="116.4,532.6 82.5,578.4 116.4,624.6" stroke="#888" stroke-width="0.9" fill="none" />
<line x1="78.8" y1="490" x2="78.8" y2="506" stroke="#f09090" stroke-width="0.9" />
<line x1="117.4" y1="490" x2="117.4" y2="506" stroke="#f09090" stroke-width="0.9" />
<line x1="78.8" y1="492.2" x2="117.4" y2="492.2" stroke="#f09090" stroke-width="1" />
<circle cx="78.8" cy="492.2" r="0.6" fill="#222" stroke="none" stroke-width="1" />
<circle cx="117.4" cy="492.2" r="0.6" fill="#222" stroke="none" stroke-width="1" />
<text x="98.1" y="491.5" font-size="4.3" fill="#111" text-anchor="middle" font-weight="bold">75</text>
<line x1="80.8" y1="496.3" x2="115.4" y2="496.3" stroke="#f09090" stroke-width="1" />
<circle cx="80.8" cy="496.3" r="0.6" fill="#222" stroke="none" stroke-width="1" />
<circle cx="115.4" cy="496.3" r="0.6" fill="#222" stroke="none" stroke-width="1" />
<text x="98.1" y="495.6" font-size="4.3" fill="#111" text-anchor="middle" font-weight="bold">65</text>
<polyline points="117,558.9 124.6,544.5 132,544.5" stroke="#f09090" stroke-width="0.9" fill="none" />
<circle cx="117" cy="558.9" r="0.8" fill="#f09090" stroke="none" stroke-width="1" />
<polyline points="103,602 107,592.8 132,592.8" stroke="#f09090" stroke-width="0.9" fill="none" />
<circle cx="103" cy="602" r="0.8" fill="#f09090" stroke="none" stroke-width="1" />
<text transform="translate(133.3 547.3) scale(0.8 1)" x="0" y="0" font-size="6.6" fill="#555" font-weight="normal" textLength="78.12" lengthAdjust="spacing">KUSEN &amp; PINTU KAYU</text>
<text transform="translate(133.3 557.3) scale(0.8 1)" x="0" y="0" font-size="6.6" fill="#555" font-weight="normal" textLength="70.62" lengthAdjust="spacing">FINISH CAT MINYAK</text>
<text transform="translate(133.3 596.6) scale(0.8 1)" x="0" y="0" font-size="6.6" fill="#555" font-weight="normal" textLength="24.62" lengthAdjust="spacing">PANEL</text>
<text transform="translate(133.3 606.5) scale(0.8 1)" x="0" y="0" font-size="6.6" fill="#555" font-weight="normal" textLength="61.88" lengthAdjust="spacing">MULTIPLEK 6MM</text>
<rect x="80.6" y="642.3" width="2" height="35.5" fill="#8a3a28" stroke="none" stroke-width="1" />
<path d="M81.6 642.3 A35.5 35.5 0 0 1 117.1 677.8" stroke="#8a3a28" stroke-width="1.1" fill="none" />
<rect x="78.5" y="677.8" width="3.3" height="5.6" fill="none" stroke="#8a3a28" stroke-width="0.9" />
<rect x="116.3" y="677.8" width="2.5" height="5.6" fill="none" stroke="#8a3a28" stroke-width="0.9" />
<line x1="81.6" y1="684" x2="81.6" y2="704" stroke="#f09090" stroke-width="0.8" />
<line x1="117.5" y1="684" x2="117.5" y2="704" stroke="#f09090" stroke-width="0.8" />
<line x1="78.5" y1="684" x2="78.5" y2="704" stroke="#f09090" stroke-width="0.8" />
<line x1="81.6" y1="693.2" x2="117.5" y2="693.2" stroke="#f09090" stroke-width="1" />
<circle cx="81.6" cy="693.2" r="0.6" fill="#222" stroke="none" stroke-width="1" />
<circle cx="117.5" cy="693.2" r="0.6" fill="#222" stroke="none" stroke-width="1" />
<text x="99.55" y="692.5" font-size="4.3" fill="#111" text-anchor="middle" font-weight="bold">50</text>
<line x1="78.5" y1="700.4" x2="118.8" y2="700.4" stroke="#f09090" stroke-width="1" />
<circle cx="78.5" cy="700.4" r="0.6" fill="#222" stroke="none" stroke-width="1" />
<circle cx="118.8" cy="700.4" r="0.6" fill="#222" stroke="none" stroke-width="1" />
<text x="98.65" y="699.7" font-size="4.3" fill="#111" text-anchor="middle" font-weight="bold">75</text>
<line x1="70" y1="677.8" x2="78" y2="677.8" stroke="#f09090" stroke-width="0.8" />
<line x1="70" y1="683.4" x2="78" y2="683.4" stroke="#f09090" stroke-width="0.8" />
<line x1="72.3" y1="677.8" x2="72.3" y2="683.4" stroke="#f09090" stroke-width="1" />
<circle cx="72.3" cy="677.8" r="0.6" fill="#222" stroke="none" stroke-width="1" />
<circle cx="72.3" cy="683.4" r="0.6" fill="#222" stroke="none" stroke-width="1" />
<text x="67.6" y="681" font-size="4.6" fill="#111" text-anchor="middle" transform="rotate(-90 67.6 681)" font-weight="bold">3</text>
<rect x="229.2" y="529.2" width="5.7" height="96.5" fill="none" stroke="#8a3a28" stroke-width="1.3" />
<rect x="229.8" y="529.8" width="2.2" height="95.2" fill="#8a3a28" stroke="none" stroke-width="1" />
<line x1="205" y1="529.2" x2="228" y2="529.2" stroke="#f09090" stroke-width="0.9" />
<line x1="215" y1="531.8" x2="228" y2="531.8" stroke="#f09090" stroke-width="0.9" />
<line x1="205" y1="625.7" x2="228" y2="625.7" stroke="#f09090" stroke-width="0.9" />
<line x1="210.6" y1="529.2" x2="210.6" y2="625.7" stroke="#f09090" stroke-width="1" />
<circle cx="210.6" cy="529.2" r="0.6" fill="#222" stroke="none" stroke-width="1" />
<circle cx="210.6" cy="625.7" r="0.6" fill="#222" stroke="none" stroke-width="1" />
<text x="208.6" y="576.8" font-size="4.6" fill="#111" text-anchor="middle" transform="rotate(-90 208.6 576.8)" font-weight="bold">235</text>
<line x1="219.2" y1="531.8" x2="219.2" y2="625.7" stroke="#f09090" stroke-width="1" />
<circle cx="219.2" cy="531.8" r="0.6" fill="#222" stroke="none" stroke-width="1" />
<circle cx="219.2" cy="625.7" r="0.6" fill="#222" stroke="none" stroke-width="1" />
<text x="217.2" y="578.7" font-size="4.6" fill="#111" text-anchor="middle" transform="rotate(-90 217.2 578.7)" font-weight="bold">210</text>
<rect x="248.9" y="529.2" width="41.3" height="96.5" fill="none" stroke="#8a3a28" stroke-width="1.5" />
<rect x="251.2" y="531.5" width="36.7" height="91.9" fill="none" stroke="#c88070" stroke-width="0.7" />
<rect x="255.7" y="535.5" width="28.8" height="41.3" fill="none" stroke="#8a3a28" stroke-width="1.1" />
<rect x="257.5" y="537.3" width="25.2" height="37.7" fill="none" stroke="#b86a50" stroke-width="0.5" />
<rect x="255.7" y="579.7" width="28.8" height="41.2" fill="none" stroke="#8a3a28" stroke-width="1.1" />
<rect x="257.5" y="581.5" width="25.2" height="37.6" fill="none" stroke="#b86a50" stroke-width="0.5" />
<polyline points="284.5,533.6 251.8,577.7 284.5,621.9" stroke="#888" stroke-width="0.9" fill="none" />
<line x1="248.9" y1="511" x2="248.9" y2="529" stroke="#f09090" stroke-width="0.9" />
<line x1="290.2" y1="511" x2="290.2" y2="529" stroke="#f09090" stroke-width="0.9" />
<line x1="248.9" y1="514.4" x2="290.2" y2="514.4" stroke="#f09090" stroke-width="1" />
<circle cx="248.9" cy="514.4" r="0.6" fill="#222" stroke="none" stroke-width="1" />
<circle cx="290.2" cy="514.4" r="0.6" fill="#222" stroke="none" stroke-width="1" />
<text x="269.55" y="513.7" font-size="4.3" fill="#111" text-anchor="middle" font-weight="bold">90</text>
<line x1="250.8" y1="522.1" x2="288.3" y2="522.1" stroke="#f09090" stroke-width="1" />
<circle cx="250.8" cy="522.1" r="0.6" fill="#222" stroke="none" stroke-width="1" />
<circle cx="288.3" cy="522.1" r="0.6" fill="#222" stroke="none" stroke-width="1" />
<text x="269.55" y="521.4" font-size="4.3" fill="#111" text-anchor="middle" font-weight="bold">80</text>
<polyline points="288.3,559.5 294,546 302,546" stroke="#f09090" stroke-width="0.9" fill="none" />
<circle cx="288.3" cy="559.5" r="0.8" fill="#f09090" stroke="none" stroke-width="1" />
<polyline points="273,601.7 276.8,593 302,593" stroke="#f09090" stroke-width="0.9" fill="none" />
<circle cx="273" cy="601.7" r="0.8" fill="#f09090" stroke="none" stroke-width="1" />
<text transform="translate(304 548) scale(0.8 1)" x="0" y="0" font-size="6.6" fill="#555" font-weight="normal" textLength="77.25" lengthAdjust="spacing">KUSEN &amp; PINTU KAYU</text>
<text transform="translate(304 557.8) scale(0.8 1)" x="0" y="0" font-size="6.6" fill="#555" font-weight="normal" textLength="70.62" lengthAdjust="spacing">FINISH CAT MINYAK</text>
<text transform="translate(304 596.6) scale(0.8 1)" x="0" y="0" font-size="6.6" fill="#555" font-weight="normal" textLength="24.62" lengthAdjust="spacing">PANEL</text>
<text transform="translate(304 606.3) scale(0.8 1)" x="0" y="0" font-size="6.6" fill="#555" font-weight="normal" textLength="61.88" lengthAdjust="spacing">MULTIPLEK 6MM</text>
<rect x="250.5" y="642.2" width="2" height="37.8" fill="#8a3a28" stroke="none" stroke-width="1" />
<path d="M251.5 642.2 A38.3 38.3 0 0 1 289.8 680.5" stroke="#8a3a28" stroke-width="1.1" fill="none" />
<rect x="248.4" y="680" width="3.2" height="5.5" fill="none" stroke="#8a3a28" stroke-width="0.9" />
<rect x="288.7" y="680" width="2.5" height="5.5" fill="none" stroke="#8a3a28" stroke-width="0.9" />
<line x1="251.5" y1="686" x2="251.5" y2="704" stroke="#f09090" stroke-width="0.8" />
<line x1="289.8" y1="686" x2="289.8" y2="704" stroke="#f09090" stroke-width="0.8" />
<line x1="248.4" y1="686" x2="248.4" y2="704" stroke="#f09090" stroke-width="0.8" />
<line x1="251.5" y1="690.5" x2="289.8" y2="690.5" stroke="#f09090" stroke-width="1" />
<circle cx="251.5" cy="690.5" r="0.6" fill="#222" stroke="none" stroke-width="1" />
<circle cx="289.8" cy="690.5" r="0.6" fill="#222" stroke="none" stroke-width="1" />
<text x="270.65" y="689.8" font-size="4.3" fill="#111" text-anchor="middle" font-weight="bold">80</text>
<line x1="248.4" y1="699.5" x2="291.2" y2="699.5" stroke="#f09090" stroke-width="1" />
<circle cx="248.4" cy="699.5" r="0.6" fill="#222" stroke="none" stroke-width="1" />
<circle cx="291.2" cy="699.5" r="0.6" fill="#222" stroke="none" stroke-width="1" />
<text x="269.8" y="698.8" font-size="4.3" fill="#111" text-anchor="middle" font-weight="bold">90</text>
<line x1="240" y1="680" x2="248" y2="680" stroke="#f09090" stroke-width="0.8" />
<line x1="240" y1="685.5" x2="248" y2="685.5" stroke="#f09090" stroke-width="0.8" />
<line x1="242" y1="680" x2="242" y2="685.5" stroke="#f09090" stroke-width="1" />
<circle cx="242" cy="680" r="0.6" fill="#222" stroke="none" stroke-width="1" />
<circle cx="242" cy="685.5" r="0.6" fill="#222" stroke="none" stroke-width="1" />
<text x="238.5" y="683" font-size="4.6" fill="#111" text-anchor="middle" transform="rotate(-90 238.5 683)" font-weight="bold">3</text>
<rect x="410" y="529" width="5.4" height="96.2" fill="none" stroke="#3c96e6" stroke-width="1.6" />
<rect x="411.6" y="531" width="2.2" height="92.2" fill="#dff0ff" stroke="none" stroke-width="1" />
<line x1="385" y1="529" x2="409" y2="529" stroke="#f09090" stroke-width="0.9" />
<line x1="395" y1="531.5" x2="409" y2="531.5" stroke="#f09090" stroke-width="0.9" />
<line x1="385" y1="625.2" x2="409" y2="625.2" stroke="#f09090" stroke-width="0.9" />
<line x1="391.3" y1="529" x2="391.3" y2="625.2" stroke="#f09090" stroke-width="1" />
<circle cx="391.3" cy="529" r="0.6" fill="#222" stroke="none" stroke-width="1" />
<circle cx="391.3" cy="625.2" r="0.6" fill="#222" stroke="none" stroke-width="1" />
<text x="389.6" y="577.5" font-size="4.6" fill="#111" text-anchor="middle" transform="rotate(-90 389.6 577.5)" font-weight="bold">205</text>
<line x1="400.6" y1="531.5" x2="400.6" y2="625.2" stroke="#f09090" stroke-width="1" />
<circle cx="400.6" cy="531.5" r="0.6" fill="#222" stroke="none" stroke-width="1" />
<circle cx="400.6" cy="625.2" r="0.6" fill="#222" stroke="none" stroke-width="1" />
<text x="398.6" y="578.3" font-size="4.6" fill="#111" text-anchor="middle" transform="rotate(-90 398.6 578.3)" font-weight="bold">200</text>
<rect x="427.8" y="529" width="35.8" height="96.2" fill="none" stroke="#3c96e6" stroke-width="2.2" />
<rect x="430.2" y="531.5" width="31" height="91.5" fill="none" stroke="#3c96e6" stroke-width="0.9" />
<polyline points="460.7,532.3 430.7,578.3 460.7,623.6" stroke="#888" stroke-width="0.9" fill="none" />
<circle cx="457.9" cy="580" r="1.5" fill="#8cc4f0" stroke="#3c96e6" stroke-width="0.8" />
<rect x="428.5" y="650" width="2.5" height="31" fill="#3c96e6" stroke="none" stroke-width="1" />
<path d="M429.7 649.6 A33.2 33.2 0 0 1 462.9 682.8" stroke="#3c96e6" stroke-width="1.6" fill="none" />
<rect x="427.2" y="681.3" width="3.6" height="4.7" fill="none" stroke="#3c96e6" stroke-width="1" />
<rect x="461.8" y="681.3" width="2.8" height="4.7" fill="none" stroke="#3c96e6" stroke-width="1" />
<line x1="429.7" y1="687" x2="429.7" y2="707" stroke="#f09090" stroke-width="0.8" />
<line x1="462.9" y1="687" x2="462.9" y2="707" stroke="#f09090" stroke-width="0.8" />
<line x1="427.2" y1="687" x2="427.2" y2="707" stroke="#f09090" stroke-width="0.8" />
<line x1="429.7" y1="697" x2="462.9" y2="697" stroke="#f09090" stroke-width="1" />
<circle cx="429.7" cy="697" r="0.6" fill="#222" stroke="none" stroke-width="1" />
<circle cx="462.9" cy="697" r="0.6" fill="#222" stroke="none" stroke-width="1" />
<text x="446.3" y="696.3" font-size="4.3" fill="#111" text-anchor="middle" font-weight="bold">75</text>
<line x1="427.2" y1="704.3" x2="464.6" y2="704.3" stroke="#f09090" stroke-width="1" />
<circle cx="427.2" cy="704.3" r="0.6" fill="#222" stroke="none" stroke-width="1" />
<circle cx="464.6" cy="704.3" r="0.6" fill="#222" stroke="none" stroke-width="1" />
<text x="445.9" y="703.6" font-size="4.3" fill="#111" text-anchor="middle" font-weight="bold">80</text>
<line x1="419" y1="681.3" x2="427" y2="681.3" stroke="#f09090" stroke-width="0.8" />
<line x1="419" y1="686" x2="427" y2="686" stroke="#f09090" stroke-width="0.8" />
<line x1="421.5" y1="681.3" x2="421.5" y2="686" stroke="#f09090" stroke-width="1" />
<circle cx="421.5" cy="681.3" r="0.6" fill="#222" stroke="none" stroke-width="1" />
<circle cx="421.5" cy="686" r="0.6" fill="#222" stroke="none" stroke-width="1" />
<text x="417" y="683.6" font-size="4.6" fill="#111" text-anchor="middle" transform="rotate(-90 417 683.6)" font-weight="bold">12</text>
<rect x="506.9" y="532.5" width="5.3" height="24.9" fill="#3c96e6" stroke="none" stroke-width="1" />
<rect x="508.5" y="533.75" width="2.1" height="1.66" fill="#fff" stroke="none" stroke-width="1" />
<rect x="508.5" y="537.89" width="2.1" height="1.66" fill="#fff" stroke="none" stroke-width="1" />
<rect x="508.5" y="542.04" width="2.1" height="1.66" fill="#fff" stroke="none" stroke-width="1" />
<rect x="508.5" y="546.2" width="2.1" height="1.66" fill="#fff" stroke="none" stroke-width="1" />
<rect x="508.5" y="550.35" width="2.1" height="1.66" fill="#fff" stroke="none" stroke-width="1" />
<rect x="508.5" y="554.5" width="2.1" height="1.66" fill="#fff" stroke="none" stroke-width="1" />
<rect x="506.9" y="557.4" width="5.3" height="50.9" fill="none" stroke="#3c96e6" stroke-width="1.4" />
<rect x="508.5" y="558" width="2.1" height="49.7" fill="#dff0ff" stroke="none" stroke-width="1" />
<rect x="506.9" y="608.3" width="5.3" height="42.2" fill="#4a4a4a" stroke="#222" stroke-width="1.1" />
<clipPath id="c1088"><rect x="507.9" y="608.9" width="3.3" height="41"/></clipPath>
<path clip-path="url(#c1088)" d="M506.9 608.3L512.2 601.41M506.9 613.3L512.2 606.41M506.9 618.3L512.2 611.41M506.9 623.3L512.2 616.41M506.9 628.3L512.2 621.41M506.9 633.3L512.2 626.41M506.9 638.3L512.2 631.41M506.9 643.3L512.2 636.41M506.9 648.3L512.2 641.41M506.9 653.3L512.2 646.41M506.9 658.3L512.2 651.41M506.9 663.3L512.2 656.41" stroke="#e8e8e8" stroke-width="1.1" fill="none"/>
<line x1="484" y1="532.5" x2="506" y2="532.5" stroke="#f09090" stroke-width="0.9" />
<line x1="484" y1="650.5" x2="506" y2="650.5" stroke="#f09090" stroke-width="0.9" />
<line x1="490" y1="608.3" x2="506" y2="608.3" stroke="#f09090" stroke-width="0.9" />
<line x1="498" y1="557.4" x2="506" y2="557.4" stroke="#f09090" stroke-width="0.9" />
<line x1="498" y1="606.5" x2="506" y2="606.5" stroke="#f09090" stroke-width="0.9" />
<line x1="488.6" y1="532.5" x2="488.6" y2="650.5" stroke="#f09090" stroke-width="1" />
<circle cx="488.6" cy="532.5" r="0.6" fill="#222" stroke="none" stroke-width="1" />
<circle cx="488.6" cy="650.5" r="0.6" fill="#222" stroke="none" stroke-width="1" />
<text x="486.8" y="594.9" font-size="4.6" fill="#111" text-anchor="middle" transform="rotate(-90 486.8 594.9)" font-weight="bold">305</text>
<line x1="495.4" y1="532.5" x2="495.4" y2="608.3" stroke="#f09090" stroke-width="1" />
<circle cx="495.4" cy="532.5" r="0.6" fill="#222" stroke="none" stroke-width="1" />
<circle cx="495.4" cy="608.3" r="0.6" fill="#222" stroke="none" stroke-width="1" />
<text x="493.6" y="572.8" font-size="4.6" fill="#111" text-anchor="middle" transform="rotate(-90 493.6 572.8)" font-weight="bold">177</text>
<line x1="495.4" y1="608.3" x2="495.4" y2="650.5" stroke="#f09090" stroke-width="1" />
<circle cx="495.4" cy="608.3" r="0.6" fill="#222" stroke="none" stroke-width="1" />
<circle cx="495.4" cy="650.5" r="0.6" fill="#222" stroke="none" stroke-width="1" />
<text x="493.6" y="629.4" font-size="4.6" fill="#111" text-anchor="middle" transform="rotate(-90 493.6 629.4)" font-weight="bold">90</text>
<line x1="501.5" y1="557.4" x2="501.5" y2="606.5" stroke="#f09090" stroke-width="1" />
<circle cx="501.5" cy="557.4" r="0.6" fill="#222" stroke="none" stroke-width="1" />
<circle cx="501.5" cy="606.5" r="0.6" fill="#222" stroke="none" stroke-width="1" />
<text x="499.7" y="582.4" font-size="4.6" fill="#111" text-anchor="middle" transform="rotate(-90 499.7 582.4)" font-weight="bold">112</text>
<rect x="524.5" y="532.5" width="26.9" height="76.2" fill="none" stroke="#3c96e6" stroke-width="2" />
<rect x="527" y="535.24" width="22" height="2.53" fill="none" stroke="#3c96e6" stroke-width="1" />
<rect x="527" y="539.46" width="22" height="2.53" fill="none" stroke="#3c96e6" stroke-width="1" />
<rect x="527" y="543.68" width="22" height="2.53" fill="none" stroke="#3c96e6" stroke-width="1" />
<rect x="527" y="547.9" width="22" height="2.53" fill="none" stroke="#3c96e6" stroke-width="1" />
<rect x="527" y="552.12" width="22" height="2.53" fill="none" stroke="#3c96e6" stroke-width="1" />
<line x1="524.5" y1="556.2" x2="551.4" y2="556.2" stroke="#3c96e6" stroke-width="1.4" />
<rect x="527" y="557.8" width="21.9" height="48.6" fill="none" stroke="#3c96e6" stroke-width="1.5" />
<rect x="528.5" y="559.3" width="18.9" height="45.6" fill="none" stroke="#7ab8ec" stroke-width="0.7" />
<polyline points="528.97,604.4 537.95,560.8 546.93,604.4" stroke="#888" stroke-width="0.8" fill="none" />
<line x1="531.38" y1="586.47" x2="544.08" y2="576.75" stroke="#555" stroke-width="1.5" />
<line x1="532.04" y1="589.39" x2="544.52" y2="579.67" stroke="#555" stroke-width="1.5" />
<polyline points="550,561.3 556.8,548.8 564.5,548.8" stroke="#f09090" stroke-width="0.9" fill="none" />
<polyline points="538.5,590 543.3,576.6 564.5,576.6" stroke="#f09090" stroke-width="0.9" fill="none" />
<circle cx="538.5" cy="590" r="0.8" fill="#f09090" stroke="none" stroke-width="1" />
<polyline points="508.8,633.2 521.3,619.4 564.5,619.4" stroke="#f09090" stroke-width="0.9" fill="none" />
<text transform="translate(565.6 550.4) scale(0.8 1)" x="0" y="0" font-size="6.6" fill="#555" font-weight="normal" textLength="73.75" lengthAdjust="spacing">KUSEN ALUMUNIUM</text>
<text transform="translate(565.6 560.4) scale(0.8 1)" x="0" y="0" font-size="6.6" fill="#555" font-weight="normal" textLength="41.88" lengthAdjust="spacing">NON COLOR</text>
<text transform="translate(565.6 580) scale(0.8 1)" x="0" y="0" font-size="6.6" fill="#555" font-weight="normal" textLength="41.25" lengthAdjust="spacing">KACA 5MM</text>
<text transform="translate(565.6 623.2) scale(0.8 1)" x="0" y="0" font-size="6.6" fill="#555" font-weight="normal" textLength="106.25" lengthAdjust="spacing">PAS. BT BATA ACI FINISH CAT</text>
<rect x="523.9" y="672.7" width="27.3" height="3.4" fill="#8cc4f0" stroke="#3c96e6" stroke-width="1.2" />
<line x1="523.9" y1="677" x2="523.9" y2="694" stroke="#f09090" stroke-width="0.8" />
<line x1="551.2" y1="677" x2="551.2" y2="694" stroke="#f09090" stroke-width="0.8" />
<line x1="525.5" y1="683.6" x2="549.6" y2="683.6" stroke="#f09090" stroke-width="1" />
<circle cx="525.5" cy="683.6" r="0.6" fill="#222" stroke="none" stroke-width="1" />
<circle cx="549.6" cy="683.6" r="0.6" fill="#222" stroke="none" stroke-width="1" />
<text x="537.55" y="682.9" font-size="4.3" fill="#111" text-anchor="middle" font-weight="bold">50</text>
<line x1="523.9" y1="691.4" x2="551.2" y2="691.4" stroke="#f09090" stroke-width="1" />
<circle cx="523.9" cy="691.4" r="0.6" fill="#222" stroke="none" stroke-width="1" />
<circle cx="551.2" cy="691.4" r="0.6" fill="#222" stroke="none" stroke-width="1" />
<text x="537.55" y="690.7" font-size="4.3" fill="#111" text-anchor="middle" font-weight="bold">60</text>
<line x1="516" y1="672.7" x2="523" y2="672.7" stroke="#f09090" stroke-width="0.8" />
<line x1="516" y1="676.1" x2="523" y2="676.1" stroke="#f09090" stroke-width="0.8" />
<line x1="518" y1="672.7" x2="518" y2="676.1" stroke="#f09090" stroke-width="1" />
<circle cx="518" cy="672.7" r="0.6" fill="#222" stroke="none" stroke-width="1" />
<circle cx="518" cy="676.1" r="0.6" fill="#222" stroke="none" stroke-width="1" />
<text x="514.5" y="674.4" font-size="4.6" fill="#111" text-anchor="middle" transform="rotate(-90 514.5 674.4)" font-weight="bold">7</text>
<rect x="684.5" y="533.1" width="5.7" height="23" fill="#3c96e6" stroke="none" stroke-width="1" />
<rect x="686.1" y="534.25" width="2.5" height="1.53" fill="#fff" stroke="none" stroke-width="1" />
<rect x="686.1" y="538.08" width="2.5" height="1.53" fill="#fff" stroke="none" stroke-width="1" />
<rect x="686.1" y="541.92" width="2.5" height="1.53" fill="#fff" stroke="none" stroke-width="1" />
<rect x="686.1" y="545.75" width="2.5" height="1.53" fill="#fff" stroke="none" stroke-width="1" />
<rect x="686.1" y="549.58" width="2.5" height="1.53" fill="#fff" stroke="none" stroke-width="1" />
<rect x="686.1" y="553.42" width="2.5" height="1.53" fill="#fff" stroke="none" stroke-width="1" />
<rect x="684.5" y="556.1" width="5.7" height="51.8" fill="none" stroke="#3c96e6" stroke-width="1.4" />
<rect x="686.1" y="557" width="2.5" height="50.3" fill="#dff0ff" stroke="none" stroke-width="1" />
<rect x="684.5" y="607.9" width="5.7" height="41.7" fill="#4a4a4a" stroke="#222" stroke-width="1.1" />
<clipPath id="c1158"><rect x="685.5" y="608.5" width="3.7" height="40.5"/></clipPath>
<path clip-path="url(#c1158)" d="M684.5 607.9L690.2 600.49M684.5 612.9L690.2 605.49M684.5 617.9L690.2 610.49M684.5 622.9L690.2 615.49M684.5 627.9L690.2 620.49M684.5 632.9L690.2 625.49M684.5 637.9L690.2 630.49M684.5 642.9L690.2 635.49M684.5 647.9L690.2 640.49M684.5 652.9L690.2 645.49M684.5 657.9L690.2 650.49M684.5 662.9L690.2 655.49" stroke="#e8e8e8" stroke-width="1.1" fill="none"/>
<line x1="662" y1="531.7" x2="684" y2="531.7" stroke="#f09090" stroke-width="0.9" />
<line x1="662" y1="649.6" x2="684" y2="649.6" stroke="#f09090" stroke-width="0.9" />
<line x1="669" y1="607.9" x2="684" y2="607.9" stroke="#f09090" stroke-width="0.9" />
<line x1="676" y1="556.1" x2="684" y2="556.1" stroke="#f09090" stroke-width="0.9" />
<line x1="676" y1="606.5" x2="684" y2="606.5" stroke="#f09090" stroke-width="0.9" />
<line x1="666.3" y1="531.7" x2="666.3" y2="649.6" stroke="#f09090" stroke-width="1" />
<circle cx="666.3" cy="531.7" r="0.6" fill="#222" stroke="none" stroke-width="1" />
<circle cx="666.3" cy="649.6" r="0.6" fill="#222" stroke="none" stroke-width="1" />
<text x="664.5" y="590.6" font-size="4.6" fill="#111" text-anchor="middle" transform="rotate(-90 664.5 590.6)" font-weight="bold">295</text>
<line x1="673" y1="531.7" x2="673" y2="607.9" stroke="#f09090" stroke-width="1" />
<circle cx="673" cy="531.7" r="0.6" fill="#222" stroke="none" stroke-width="1" />
<circle cx="673" cy="607.9" r="0.6" fill="#222" stroke="none" stroke-width="1" />
<text x="671.2" y="570" font-size="4.6" fill="#111" text-anchor="middle" transform="rotate(-90 671.2 570)" font-weight="bold">177</text>
<line x1="673" y1="607.9" x2="673" y2="649.6" stroke="#f09090" stroke-width="1" />
<circle cx="673" cy="607.9" r="0.6" fill="#222" stroke="none" stroke-width="1" />
<circle cx="673" cy="649.6" r="0.6" fill="#222" stroke="none" stroke-width="1" />
<text x="671.2" y="628.7" font-size="4.6" fill="#111" text-anchor="middle" transform="rotate(-90 671.2 628.7)" font-weight="bold">90</text>
<line x1="678.7" y1="556.1" x2="678.7" y2="606.5" stroke="#f09090" stroke-width="1" />
<circle cx="678.7" cy="556.1" r="0.6" fill="#222" stroke="none" stroke-width="1" />
<circle cx="678.7" cy="606.5" r="0.6" fill="#222" stroke="none" stroke-width="1" />
<text x="676.9" y="581.3" font-size="4.6" fill="#111" text-anchor="middle" transform="rotate(-90 676.9 581.3)" font-weight="bold">112</text>
<rect x="702.6" y="531.7" width="51.8" height="77.1" fill="none" stroke="#3c96e6" stroke-width="2" />
<line x1="728.5" y1="531.7" x2="728.5" y2="608.8" stroke="#3c96e6" stroke-width="1.6" />
<rect x="705" y="535.31" width="21.5" height="2.42" fill="none" stroke="#3c96e6" stroke-width="1" />
<rect x="705" y="539.35" width="21.5" height="2.42" fill="none" stroke="#3c96e6" stroke-width="1" />
<rect x="705" y="543.39" width="21.5" height="2.42" fill="none" stroke="#3c96e6" stroke-width="1" />
<rect x="705" y="547.43" width="21.5" height="2.42" fill="none" stroke="#3c96e6" stroke-width="1" />
<rect x="705" y="551.47" width="21.5" height="2.42" fill="none" stroke="#3c96e6" stroke-width="1" />
<rect x="730.5" y="535.31" width="21.5" height="2.42" fill="none" stroke="#3c96e6" stroke-width="1" />
<rect x="730.5" y="539.35" width="21.5" height="2.42" fill="none" stroke="#3c96e6" stroke-width="1" />
<rect x="730.5" y="543.39" width="21.5" height="2.42" fill="none" stroke="#3c96e6" stroke-width="1" />
<rect x="730.5" y="547.43" width="21.5" height="2.42" fill="none" stroke="#3c96e6" stroke-width="1" />
<rect x="730.5" y="551.47" width="21.5" height="2.42" fill="none" stroke="#3c96e6" stroke-width="1" />
<line x1="702.6" y1="556" x2="754.4" y2="556" stroke="#3c96e6" stroke-width="1.4" />
<rect x="705.5" y="557.6" width="21.3" height="48.9" fill="none" stroke="#3c96e6" stroke-width="1.5" />
<rect x="707" y="559.1" width="18.3" height="45.9" fill="none" stroke="#7ab8ec" stroke-width="0.7" />
<polyline points="707.42,604.5 716.15,560.6 724.88,604.5" stroke="#888" stroke-width="0.8" fill="none" />
<line x1="709.76" y1="586.45" x2="722.11" y2="576.67" stroke="#555" stroke-width="1.5" />
<line x1="710.4" y1="589.38" x2="722.54" y2="579.6" stroke="#555" stroke-width="1.5" />
<rect x="730.5" y="557.6" width="21.6" height="48.9" fill="none" stroke="#3c96e6" stroke-width="1.5" />
<rect x="732" y="559.1" width="18.6" height="45.9" fill="none" stroke="#7ab8ec" stroke-width="0.7" />
<polyline points="732.44,604.5 741.3,560.6 750.16,604.5" stroke="#888" stroke-width="0.8" fill="none" />
<line x1="734.82" y1="586.45" x2="747.35" y2="576.67" stroke="#555" stroke-width="1.5" />
<line x1="735.47" y1="589.38" x2="747.78" y2="579.6" stroke="#555" stroke-width="1.5" />
<polyline points="753.5,561.9 759.3,547.5 767.9,547.5" stroke="#f09090" stroke-width="0.9" fill="none" />
<polyline points="743.5,590.6 746.3,576.3 767.9,576.3" stroke="#f09090" stroke-width="0.9" fill="none" />
<circle cx="743.5" cy="590.6" r="0.8" fill="#f09090" stroke="none" stroke-width="1" />
<polyline points="688.8,632.4 698.8,618 742,618" stroke="#f09090" stroke-width="0.9" fill="none" />
<text transform="translate(768.8 550.4) scale(0.8 1)" x="0" y="0" font-size="6.6" fill="#555" font-weight="normal" textLength="72.62" lengthAdjust="spacing">KUSEN ALUMUNIUM</text>
<text transform="translate(768.8 560.4) scale(0.8 1)" x="0" y="0" font-size="6.6" fill="#555" font-weight="normal" textLength="42.5" lengthAdjust="spacing">NON COLOR</text>
<text transform="translate(768.8 580) scale(0.8 1)" x="0" y="0" font-size="6.6" fill="#555" font-weight="normal" textLength="41.25" lengthAdjust="spacing">KACA 5MM</text>
<text transform="translate(743.5 623.2) scale(0.8 1)" x="0" y="0" font-size="6.6" fill="#555" font-weight="normal" textLength="107.87" lengthAdjust="spacing">PAS. BT BATA ACI FINISH CAT</text>
<rect x="702.6" y="672.7" width="51.8" height="3.4" fill="#8cc4f0" stroke="#3c96e6" stroke-width="1.2" />
<line x1="728.5" y1="672.7" x2="728.5" y2="676.1" stroke="#3c96e6" stroke-width="1" />
<line x1="702.6" y1="677" x2="702.6" y2="694" stroke="#f09090" stroke-width="0.8" />
<line x1="728.5" y1="677" x2="728.5" y2="694" stroke="#f09090" stroke-width="0.8" />
<line x1="754.4" y1="677" x2="754.4" y2="694" stroke="#f09090" stroke-width="0.8" />
<line x1="702.6" y1="683.6" x2="728.5" y2="683.6" stroke="#f09090" stroke-width="1" />
<circle cx="702.6" cy="683.6" r="0.6" fill="#222" stroke="none" stroke-width="1" />
<circle cx="728.5" cy="683.6" r="0.6" fill="#222" stroke="none" stroke-width="1" />
<text x="715.55" y="682.9" font-size="4.3" fill="#111" text-anchor="middle" font-weight="bold">50</text>
<line x1="728.5" y1="683.6" x2="754.4" y2="683.6" stroke="#f09090" stroke-width="1" />
<circle cx="728.5" cy="683.6" r="0.6" fill="#222" stroke="none" stroke-width="1" />
<circle cx="754.4" cy="683.6" r="0.6" fill="#222" stroke="none" stroke-width="1" />
<text x="741.45" y="682.9" font-size="4.3" fill="#111" text-anchor="middle" font-weight="bold">50</text>
<line x1="702.6" y1="691.4" x2="754.4" y2="691.4" stroke="#f09090" stroke-width="1" />
<circle cx="702.6" cy="691.4" r="0.6" fill="#222" stroke="none" stroke-width="1" />
<circle cx="754.4" cy="691.4" r="0.6" fill="#222" stroke="none" stroke-width="1" />
<text x="728.5" y="690.7" font-size="4.3" fill="#111" text-anchor="middle" font-weight="bold">110</text>
<line x1="693" y1="672.7" x2="701" y2="672.7" stroke="#f09090" stroke-width="0.8" />
<line x1="693" y1="676.1" x2="701" y2="676.1" stroke="#f09090" stroke-width="0.8" />
<line x1="696" y1="672.7" x2="696" y2="676.1" stroke="#f09090" stroke-width="1" />
<circle cx="696" cy="672.7" r="0.6" fill="#222" stroke="none" stroke-width="1" />
<circle cx="696" cy="676.1" r="0.6" fill="#222" stroke="none" stroke-width="1" />
<text x="692.5" y="674.4" font-size="4.6" fill="#111" text-anchor="middle" transform="rotate(-90 692.5 674.4)" font-weight="bold">7</text>
<rect x="895.9" y="507.1" width="5.9" height="23.9" fill="#cfe6fa" stroke="#3c96e6" stroke-width="1.8" />
<rect x="895.9" y="531" width="5.9" height="92.9" fill="#4a4a4a" stroke="#222" stroke-width="1.1" />
<clipPath id="c1237"><rect x="896.9" y="531.6" width="3.9" height="91.7"/></clipPath>
<path clip-path="url(#c1237)" d="M895.9 531L901.8 523.33M895.9 536L901.8 528.33M895.9 541L901.8 533.33M895.9 546L901.8 538.33M895.9 551L901.8 543.33M895.9 556L901.8 548.33M895.9 561L901.8 553.33M895.9 566L901.8 558.33M895.9 571L901.8 563.33M895.9 576L901.8 568.33M895.9 581L901.8 573.33M895.9 586L901.8 578.33M895.9 591L901.8 583.33M895.9 596L901.8 588.33M895.9 601L901.8 593.33M895.9 606L901.8 598.33M895.9 611L901.8 603.33M895.9 616L901.8 608.33M895.9 621L901.8 613.33M895.9 626L901.8 618.33M895.9 631L901.8 623.33M895.9 636L901.8 628.33" stroke="#e8e8e8" stroke-width="1.1" fill="none"/>
<line x1="872" y1="507.1" x2="895" y2="507.1" stroke="#f09090" stroke-width="0.9" />
<line x1="881" y1="531.2" x2="895" y2="531.2" stroke="#f09090" stroke-width="0.9" />
<line x1="872" y1="623.9" x2="895" y2="623.9" stroke="#f09090" stroke-width="0.9" />
<line x1="879.2" y1="507.1" x2="879.2" y2="623.9" stroke="#f09090" stroke-width="1" />
<circle cx="879.2" cy="507.1" r="0.6" fill="#222" stroke="none" stroke-width="1" />
<circle cx="879.2" cy="623.9" r="0.6" fill="#222" stroke="none" stroke-width="1" />
<text x="877.4" y="567.6" font-size="4.6" fill="#111" text-anchor="middle" transform="rotate(-90 877.4 567.6)" font-weight="bold">305</text>
<line x1="885.1" y1="507.1" x2="885.1" y2="531.2" stroke="#f09090" stroke-width="1" />
<circle cx="885.1" cy="507.1" r="0.6" fill="#222" stroke="none" stroke-width="1" />
<circle cx="885.1" cy="531.2" r="0.6" fill="#222" stroke="none" stroke-width="1" />
<text x="883.3" y="519.3" font-size="4.6" fill="#111" text-anchor="middle" transform="rotate(-90 883.3 519.3)" font-weight="bold">50</text>
<line x1="885.1" y1="531.2" x2="885.1" y2="623.9" stroke="#f09090" stroke-width="1" />
<circle cx="885.1" cy="531.2" r="0.6" fill="#222" stroke="none" stroke-width="1" />
<circle cx="885.1" cy="623.9" r="0.6" fill="#222" stroke="none" stroke-width="1" />
<text x="883.3" y="578" font-size="4.6" fill="#111" text-anchor="middle" transform="rotate(-90 883.3 578)" font-weight="bold">255</text>
<rect x="915.5" y="508.6" width="25" height="21.8" fill="none" stroke="#3c96e6" stroke-width="3" />
<rect x="918.5" y="511.3" width="19.1" height="16.5" fill="none" stroke="#7ab8ec" stroke-width="0.8" />
<polyline points="918.5,528.5 927.7,510.5 937.5,528.5" stroke="#888" stroke-width="0.8" fill="none" />
<line x1="921" y1="527" x2="935.5" y2="510.5" stroke="#666" stroke-width="2.2" />
<line x1="921.5" y1="526" x2="935" y2="511" stroke="#ccc" stroke-width="0.6" />
<polyline points="941.5,508.4 946.1,496.3 954.5,496.3" stroke="#f09090" stroke-width="0.9" fill="none" />
<polyline points="931.9,526 933.5,518.4 954.5,518.4" stroke="#f09090" stroke-width="0.9" fill="none" />
<circle cx="931.9" cy="526" r="0.8" fill="#f09090" stroke="none" stroke-width="1" />
<polyline points="898.5,600.5 910,592.8 954.5,592.8" stroke="#f09090" stroke-width="0.9" fill="none" />
<text transform="translate(955.5 497.8) scale(0.8 1)" x="0" y="0" font-size="6.6" fill="#555" font-weight="normal" textLength="73.12" lengthAdjust="spacing">KUSEN ALUMUNIUM</text>
<text transform="translate(955.5 507.3) scale(0.8 1)" x="0" y="0" font-size="6.6" fill="#555" font-weight="normal" textLength="42.5" lengthAdjust="spacing">NON COLOR</text>
<text transform="translate(955.5 521.7) scale(0.8 1)" x="0" y="0" font-size="6.6" fill="#555" font-weight="normal" textLength="40.62" lengthAdjust="spacing">KACA 5MM</text>
<text transform="translate(955.5 597.4) scale(0.8 1)" x="0" y="0" font-size="6.6" fill="#555" font-weight="normal" textLength="107.25" lengthAdjust="spacing">PAS. BT BATA ACI FINISH CAT</text>
<rect x="914.1" y="647" width="27.9" height="4.2" fill="#8cc4f0" stroke="#3c96e6" stroke-width="1.2" />
<line x1="914.1" y1="652" x2="914.1" y2="670" stroke="#f09090" stroke-width="0.8" />
<line x1="942" y1="652" x2="942" y2="670" stroke="#f09090" stroke-width="0.8" />
<line x1="915.5" y1="660" x2="940.5" y2="660" stroke="#f09090" stroke-width="1" />
<circle cx="915.5" cy="660" r="0.6" fill="#222" stroke="none" stroke-width="1" />
<circle cx="940.5" cy="660" r="0.6" fill="#222" stroke="none" stroke-width="1" />
<text x="928" y="659.3" font-size="4.3" fill="#111" text-anchor="middle" font-weight="bold">50</text>
<line x1="914.1" y1="667" x2="942" y2="667" stroke="#f09090" stroke-width="1" />
<circle cx="914.1" cy="667" r="0.6" fill="#222" stroke="none" stroke-width="1" />
<circle cx="942" cy="667" r="0.6" fill="#222" stroke="none" stroke-width="1" />
<text x="928.05" y="666.3" font-size="4.3" fill="#111" text-anchor="middle" font-weight="bold">60</text>
<line x1="902" y1="647" x2="913" y2="647" stroke="#f09090" stroke-width="0.8" />
<line x1="902" y1="651.2" x2="913" y2="651.2" stroke="#f09090" stroke-width="0.8" />
<line x1="906" y1="647" x2="906" y2="651.2" stroke="#f09090" stroke-width="1" />
<circle cx="906" cy="647" r="0.6" fill="#222" stroke="none" stroke-width="1" />
<circle cx="906" cy="651.2" r="0.6" fill="#222" stroke="none" stroke-width="1" />
<text x="902.5" y="649.1" font-size="4.6" fill="#111" text-anchor="middle" transform="rotate(-90 902.5 649.1)" font-weight="bold">7</text>
</svg></body></html>
